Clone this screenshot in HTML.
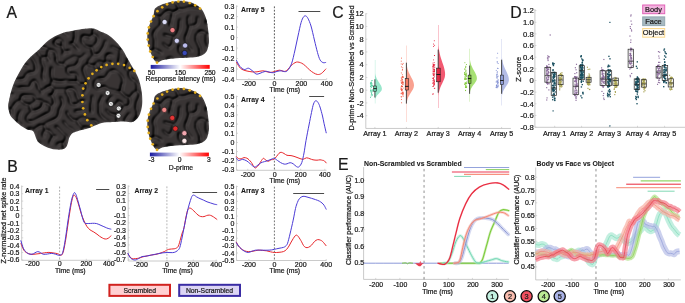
<!DOCTYPE html>
<html><head><meta charset="utf-8"><style>
html,body{margin:0;padding:0;background:#fff;}
svg text{stroke:#1a1a1a;stroke-width:0.22px;}
svg text[font-weight=bold]{stroke-width:0.08px;}
svg text.ns{stroke:none;}
svg{display:block;font-family:"Liberation Sans", sans-serif;will-change:transform;}
</style></head><body>
<svg xmlns="http://www.w3.org/2000/svg" width="685" height="303" viewBox="0 0 685 303">
<rect width="685" height="303" fill="#fff"/>
<text x="6.6" y="17.51" font-size="15.8" text-anchor="start" font-weight="normal" fill="#1a1a1a" >A</text>
<text x="7.2" y="171.61" font-size="15.8" text-anchor="start" font-weight="normal" fill="#1a1a1a" >B</text>
<text x="332.2" y="17.51" font-size="15.8" text-anchor="start" font-weight="normal" fill="#1a1a1a" >C</text>
<text x="510.2" y="17.61" font-size="15.8" text-anchor="start" font-weight="normal" fill="#1a1a1a" >D</text>
<text x="338" y="169.81" font-size="15.8" text-anchor="start" font-weight="normal" fill="#1a1a1a" >E</text>
<defs><clipPath id="cb"><path d="M9.1 100C8.33 103.5 8 104.45 8.2 107C8.4 109.55 9.25 113.08 10.3 115.3C11.35 117.52 12.88 118.68 14.5 120.3C16.12 121.92 18 123.52 20 125C22 126.48 24.5 128.28 26.5 129.2C28.5 130.12 30.7 129.87 32 130.5C33.3 131.13 33.68 131.88 34.3 133C34.92 134.12 35.05 135.68 35.7 137.2C36.35 138.72 36.97 140.73 38.2 142.1C39.43 143.47 41.18 144.38 43.1 145.4C45.02 146.42 47.5 147.5 49.7 148.2C51.9 148.9 54.1 149.43 56.3 149.6C58.5 149.77 61.25 149.62 62.9 149.2C64.55 148.78 65.37 148.13 66.2 147.1C67.03 146.07 67.35 144.65 67.9 143C68.45 141.35 68.68 138.85 69.5 137.2C70.32 135.55 71.57 134.07 72.8 133.1C74.03 132.13 75.25 131.95 76.9 131.4C78.55 130.85 80.63 130.35 82.7 129.8C84.77 129.25 87.25 128.82 89.3 128.1C91.35 127.38 92.5 126.42 95 125.5C97.5 124.58 100.97 123.18 104.3 122.6C107.63 122.02 111.92 122.17 115 122C118.08 121.83 120.05 121.57 122.8 121.6C125.55 121.63 129.15 122.62 131.5 122.2C133.85 121.78 135.47 120.5 136.9 119.1C138.33 117.7 139.28 115.77 140.1 113.8C140.92 111.83 141.43 109.45 141.8 107.3C142.17 105.15 142.3 103.4 142.3 100.9C142.3 98.4 142.17 95.17 141.8 92.3C141.43 89.43 140.73 86.22 140.1 83.7C139.47 81.18 138.9 79.35 138 77.2C137.1 75.05 135.53 72.35 134.7 70.8C133.87 69.25 133.7 69.07 133 67.9C132.3 66.73 131.47 65.45 130.5 63.8C129.53 62.15 128.43 60.2 127.2 58C125.97 55.8 124.6 52.93 123.1 50.6C121.6 48.27 119.85 45.93 118.2 44C116.55 42.07 115.13 40.65 113.2 39C111.27 37.35 108.8 35.4 106.6 34.1C104.4 32.8 102.02 32.08 100 31.2C97.98 30.32 96.25 29.28 94.5 28.8C92.75 28.32 91.98 28.18 89.5 28.3C87.02 28.42 82.35 29.1 79.6 29.5C76.85 29.9 75.47 30.23 73 30.7C70.53 31.17 67.55 31.48 64.8 32.3C62.05 33.12 59.25 34.22 56.5 35.6C53.75 36.98 51.12 38.37 48.3 40.6C45.48 42.83 42.98 45.83 39.6 49C36.22 52.17 31.3 55.85 28 59.6C24.7 63.35 22.33 67.1 19.8 71.5C17.27 75.9 14.58 81.25 12.8 86C11.02 90.75 9.87 96.5 9.1 100Z"/></clipPath><clipPath id="cs1"><path d="M155 8.6C156.32 6.8 159.38 5.63 161.4 4.7C163.42 3.77 165.32 3.48 167.1 3C168.88 2.52 170.2 2.15 172.1 1.8C174 1.45 176.7 1.05 178.5 0.9C180.3 0.75 180.75 0.62 182.9 0.9C185.05 1.18 188.55 1.5 191.4 2.6C194.25 3.7 197.87 5.68 200 7.5C202.13 9.32 203.05 11.17 204.2 13.5C205.35 15.83 206.22 18.58 206.9 21.5C207.58 24.42 207.95 27.75 208.3 31C208.65 34.25 209.05 38.25 209 41C208.95 43.75 208.47 45.67 208 47.5C207.53 49.33 207.27 50.67 206.2 52C205.13 53.33 203.52 54.62 201.6 55.5C199.68 56.38 197.4 56.92 194.7 57.3C192 57.68 188.87 57.6 185.4 57.8C181.93 58 177.75 58.1 173.9 58.5C170.05 58.9 165.03 59.53 162.3 60.2C159.57 60.87 158.9 62.6 157.5 62.5C156.1 62.4 155.07 61.25 153.9 59.6C152.73 57.95 151.42 54.93 150.5 52.6C149.58 50.27 148.92 47.77 148.4 45.6C147.88 43.43 147.57 41.62 147.4 39.6C147.23 37.58 147.2 35.52 147.4 33.5C147.6 31.48 148.03 29.5 148.6 27.5C149.17 25.5 149.98 23.5 150.8 21.5C151.62 19.5 152.8 17.65 153.5 15.5C154.2 13.35 153.68 10.4 155 8.6Z"/></clipPath><clipPath id="cs2"><path d="M155 8.6C156.32 6.8 159.38 5.63 161.4 4.7C163.42 3.77 165.32 3.48 167.1 3C168.88 2.52 170.2 2.15 172.1 1.8C174 1.45 176.7 1.05 178.5 0.9C180.3 0.75 180.75 0.62 182.9 0.9C185.05 1.18 188.55 1.5 191.4 2.6C194.25 3.7 197.87 5.68 200 7.5C202.13 9.32 203.05 11.17 204.2 13.5C205.35 15.83 206.22 18.58 206.9 21.5C207.58 24.42 207.95 27.75 208.3 31C208.65 34.25 209.05 38.25 209 41C208.95 43.75 208.47 45.67 208 47.5C207.53 49.33 207.27 50.67 206.2 52C205.13 53.33 203.52 54.62 201.6 55.5C199.68 56.38 197.4 56.92 194.7 57.3C192 57.68 188.87 57.6 185.4 57.8C181.93 58 177.75 58.1 173.9 58.5C170.05 58.9 165.03 59.53 162.3 60.2C159.57 60.87 158.9 62.6 157.5 62.5C156.1 62.4 155.07 61.25 153.9 59.6C152.73 57.95 151.42 54.93 150.5 52.6C149.58 50.27 148.92 47.77 148.4 45.6C147.88 43.43 147.57 41.62 147.4 39.6C147.23 37.58 147.2 35.52 147.4 33.5C147.6 31.48 148.03 29.5 148.6 27.5C149.17 25.5 149.98 23.5 150.8 21.5C151.62 19.5 152.8 17.65 153.5 15.5C154.2 13.35 153.68 10.4 155 8.6Z" transform="translate(0 87.3)"/></clipPath><filter id="bf" x="-5%" y="-5%" width="110%" height="110%" color-interpolation-filters="sRGB"><feGaussianBlur in="SourceGraphic" stdDeviation="1.1" result="hb"/><feColorMatrix in="hb" type="luminanceToAlpha" result="ha"/><feGaussianBlur in="ha" stdDeviation="0.7" result="hab"/><feDiffuseLighting in="hab" surfaceScale="5" diffuseConstant="1" lighting-color="#454040" result="l"><feDistantLight azimuth="225" elevation="55"/></feDiffuseLighting><feComposite in="l" in2="hb" operator="arithmetic" k1="0.2" k2="0.8" k3="0" k4="0" result="m"/><feComposite in="m" in2="SourceAlpha" operator="in"/></filter><filter id="bf2" x="-5%" y="-5%" width="110%" height="110%" color-interpolation-filters="sRGB"><feGaussianBlur in="SourceGraphic" stdDeviation="1.1" result="hb"/><feColorMatrix in="hb" type="luminanceToAlpha" result="ha"/><feGaussianBlur in="ha" stdDeviation="0.7" result="hab"/><feDiffuseLighting in="hab" surfaceScale="5" diffuseConstant="1" lighting-color="#454040" result="l"><feDistantLight azimuth="225" elevation="55"/></feDiffuseLighting><feComposite in="l" in2="hb" operator="arithmetic" k1="0.2" k2="0.8" k3="0" k4="0" result="m"/><feComposite in="m" in2="SourceAlpha" operator="in"/></filter><linearGradient id="g1" x1="0" x2="1" y1="0" y2="0"><stop offset="0" stop-color="#1a1aa0"/><stop offset="0.5" stop-color="#ffffff"/><stop offset="1" stop-color="#ff0000"/></linearGradient></defs>
<g filter="url(#bf)"><path d="M9.1 100C8.33 103.5 8 104.45 8.2 107C8.4 109.55 9.25 113.08 10.3 115.3C11.35 117.52 12.88 118.68 14.5 120.3C16.12 121.92 18 123.52 20 125C22 126.48 24.5 128.28 26.5 129.2C28.5 130.12 30.7 129.87 32 130.5C33.3 131.13 33.68 131.88 34.3 133C34.92 134.12 35.05 135.68 35.7 137.2C36.35 138.72 36.97 140.73 38.2 142.1C39.43 143.47 41.18 144.38 43.1 145.4C45.02 146.42 47.5 147.5 49.7 148.2C51.9 148.9 54.1 149.43 56.3 149.6C58.5 149.77 61.25 149.62 62.9 149.2C64.55 148.78 65.37 148.13 66.2 147.1C67.03 146.07 67.35 144.65 67.9 143C68.45 141.35 68.68 138.85 69.5 137.2C70.32 135.55 71.57 134.07 72.8 133.1C74.03 132.13 75.25 131.95 76.9 131.4C78.55 130.85 80.63 130.35 82.7 129.8C84.77 129.25 87.25 128.82 89.3 128.1C91.35 127.38 92.5 126.42 95 125.5C97.5 124.58 100.97 123.18 104.3 122.6C107.63 122.02 111.92 122.17 115 122C118.08 121.83 120.05 121.57 122.8 121.6C125.55 121.63 129.15 122.62 131.5 122.2C133.85 121.78 135.47 120.5 136.9 119.1C138.33 117.7 139.28 115.77 140.1 113.8C140.92 111.83 141.43 109.45 141.8 107.3C142.17 105.15 142.3 103.4 142.3 100.9C142.3 98.4 142.17 95.17 141.8 92.3C141.43 89.43 140.73 86.22 140.1 83.7C139.47 81.18 138.9 79.35 138 77.2C137.1 75.05 135.53 72.35 134.7 70.8C133.87 69.25 133.7 69.07 133 67.9C132.3 66.73 131.47 65.45 130.5 63.8C129.53 62.15 128.43 60.2 127.2 58C125.97 55.8 124.6 52.93 123.1 50.6C121.6 48.27 119.85 45.93 118.2 44C116.55 42.07 115.13 40.65 113.2 39C111.27 37.35 108.8 35.4 106.6 34.1C104.4 32.8 102.02 32.08 100 31.2C97.98 30.32 96.25 29.28 94.5 28.8C92.75 28.32 91.98 28.18 89.5 28.3C87.02 28.42 82.35 29.1 79.6 29.5C76.85 29.9 75.47 30.23 73 30.7C70.53 31.17 67.55 31.48 64.8 32.3C62.05 33.12 59.25 34.22 56.5 35.6C53.75 36.98 51.12 38.37 48.3 40.6C45.48 42.83 42.98 45.83 39.6 49C36.22 52.17 31.3 55.85 28 59.6C24.7 63.35 22.33 67.1 19.8 71.5C17.27 75.9 14.58 81.25 12.8 86C11.02 90.75 9.87 96.5 9.1 100Z" fill="#fff"/><path d="M16.5 26.62L14.38 25.5L14.75 25.12L16.5 25.88L18.75 24.88L19.38 25.25L16.5 26.62ZM45.5 40.62L36 40.38L33.75 39.38L32.12 37.75L31.38 35.5L31.38 32L33.38 26.5L34 25.88L35.5 25.38L45.25 25.62L46.75 24.88L47.62 25L45.25 26.38L35.5 26.12L34.12 26.75L32.12 32L32.38 36.5L32.88 37.75L34.5 39.12L37.75 39.88L45.5 39.88L47 39.12L52.38 32.25L52.38 26.75L51.88 26.25L52.25 25.88L53.12 26.75L53.12 32.25L52.62 33.25L48.38 38.5L45.5 40.62ZM68.75 26.88L67.75 26.88L65.38 25.25L65.75 24.88L67.75 26.12L68.75 26.12L70.75 24.88L71.38 25L68.75 26.88ZM85.25 29.12L84.88 28.75L85.62 27L88.75 24.88L89.12 25.25L86.75 26.88L85.25 29.12ZM31.25 121.88L28.25 121.88L26.38 119.75L26.88 116.25L31.62 111.5L30.38 109.5L30.12 107.25L29 105.12L25.25 104.38L21 101.12L18.75 101.38L17 102.12L12.12 108.5L11.88 115L10 116.88L7.25 117.38L6 118.38L5.62 118L6.5 116.88L9.5 116.38L11.12 115L11.12 109.5L6.5 109.38L4.88 111L4.88 110.25L5.88 109L5.12 108L5.5 107.38L6.5 108.62L11.25 108.88L15.12 103.25L17 101.38L20.62 100.25L21.12 96.5L22.75 95.12L32.5 94.88L34.62 96.25L36 99.88L42.5 100.62L43.75 101.88L47.25 103.12L51 105.88L52.75 105.38L53.62 104.25L53.62 100.25L51.88 96L49.25 96.12L48.88 95.75L49.5 95.12L52 95.12L54.88 90L53.5 88.38L51 86.62L48 87.38L44.25 90.12L42.5 90.62L41.88 91.25L42.12 93.5L41.75 93.88L41.12 91.25L39.75 90.62L38.12 88.75L37.38 84.75L36.38 82.5L34.5 81.12L32.12 82.25L30.62 86.75L28.75 88.12L21.25 87.88L17.5 88.62L14.5 87.62L11.75 84.12L7 84.12L5.75 85.62L5.38 85.25L7 83.38L11.75 83.38L14 80.88L15.5 80.12L20 78.88L23.75 78.62L24.88 77.5L25.62 75L27.75 72.88L30.25 72.12L34 71.88L35.12 71L35.62 68.75L34.88 64.25L32.88 60L30.12 56.5L30.5 56.12L33.62 60L35.38 63.5L36.38 68.75L35.88 71L34 72.62L30.25 72.88L27.75 73.62L26.38 75L25.12 78.25L23.75 79.38L17.75 80.12L14 81.62L12.38 83.75L14.5 86.88L17.5 87.88L21.25 87.12L28.75 87.38L29.88 86.75L31.38 82.25L34.75 80.12L37.12 82.5L38.12 84.75L38.88 88.75L39.75 89.88L41.5 90.62L44.25 89.38L47 87.12L50.88 85.5L52.38 80.5L50.88 75.25L51.38 67.5L51.75 67.12L52.38 68.25L51.62 75.25L53.25 80.12L59.5 81.12L62.5 81.12L65.5 80.38L70.25 81.12L77 81.12L77.38 80.75L77.38 76.75L76.62 75L75.5 74.12L69.75 74.38L68.25 73.62L67.12 72L67.12 68L66.75 67.62L63.75 64.62L59.25 64.38L58.25 63.88L56.62 62L55.88 59.75L55.88 56L55.12 52.5L53.5 51.12L49.25 50.38L48.62 52L48.12 57.25L49.88 61.25L49.5 61.62L49.12 61.25L47.5 57.62L42.12 58L42.38 63L44.38 67.25L44.12 70.75L43.12 75L43.38 78.25L44.38 80L44 80.62L42.62 78.25L42.38 76.5L43.62 67.25L41.62 63L41.38 57.75L37.88 53.75L37.12 49.25L35 48.38L32 48.38L30.25 47.88L28 50.12L24.5 50.62L23.25 50.38L20.75 48.88L19.62 47.75L20 47.38L23.25 49.62L26.25 49.88L28 49.38L29.62 47.25L28.62 44.75L23.62 40.25L23.62 33L23 32.38L17.75 32.88L17.12 32.5L18 31.88L23.25 31.88L24.62 26.75L27 25.12L27.25 25.62L25.38 26.75L24.12 31.5L24.62 36.75L24.38 40.25L29.38 44.75L30.5 47.38L37.5 48.12L40.5 47.12L44.75 47.12L47 47.88L49 49.62L54 50.62L56.12 53L57.12 61.5L57.88 62.75L59.25 63.62L63.75 63.88L65.5 60.88L73.75 56.38L77.75 56.88L79.5 57.88L80.5 57.62L82.75 56.38L85.25 53.38L85.62 54L82.75 57.12L79.88 58.5L78.62 63L76 65.88L74.5 66.62L67.88 68L67.88 72L68.25 72.88L69.75 73.62L76 73.62L77.38 75L78.12 76.75L77.88 81.75L80.25 84.12L86.5 84.38L86.88 83.5L86.88 79.5L84.38 74.75L82.88 69.5L83.88 66.75L85.75 64.88L87.88 63.75L88.88 60.25L92.38 56.5L93.38 54.5L92.62 53.25L91.62 48L86.5 46.88L82.38 43L81.62 41.5L81.88 37.25L83 35.62L88.25 36.12L89.25 36.62L90.25 36.38L93.12 34.25L93.12 30.5L94.5 28.62L98 27.38L99.5 25.88L102.75 24.88L102.25 25.62L99.5 26.62L98.5 27.88L95 29.12L93.88 30.5L93.88 34.25L96.5 35.62L97.88 37L98.38 38.5L98.12 40.75L96.62 43.75L92.12 47.75L94 54.38L97.25 54.12L99.38 53.25L103.38 47L105.38 41.25L106 40.62L106.38 41L105.38 42.75L104.12 47L100.12 53.25L99.25 54.12L97.25 54.88L94 55.12L89.62 60.25L88.38 64L90.75 65.12L94.5 65.62L95.62 63.75L98.5 61.38L100.25 61.38L103.75 62.38L105.75 62.12L106.12 61.75L106.12 56L107.5 54.62L108.75 54.12L111.75 54.38L113.38 55.5L113 55.88L111.75 55.12L110 54.88L107.5 55.38L106.62 56.75L106.88 61.75L110.5 62.12L112.12 63L111.25 63.38L109.25 62.62L106 62.62L104.5 63.12L103.88 68.25L102 70.12L99.75 70.88L97 69.88L94 66.12L90.75 65.88L88 64.62L86.5 65.12L84.62 66.75L83.62 69.5L85.12 74.75L87.62 79.5L87.62 83.5L87.38 89L84.25 93.62L83.88 92.75L85.62 91L86.62 89L86.62 85.25L85.5 84.88L80.75 85.12L77.25 81.88L70.25 81.88L66 81.12L62.5 81.88L59.5 81.88L53 80.88L51.38 85.75L51.75 86.62L54.5 88.38L55.25 89.38L66.25 89.38L68 88.12L72.75 88.12L75.88 90.75L77.38 96L79.62 101L83.75 101.12L84.75 100.62L85.38 101L83.75 101.88L79.75 101.88L78 104.12L76.25 104.88L72 105.12L69.88 103L69.38 98L66.88 93.75L65.75 90.12L55.5 90.12L54.12 93.25L52.38 95.5L54.38 100.25L54.62 103.5L54.12 104.75L51.62 106.75L51.12 111.5L49 113.62L46.75 114.38L33 121.62L31.25 121.88ZM124.25 26.38L122.25 26.38L120.75 25.88L119.88 25L122.25 25.62L126.62 25L124.25 26.38ZM122.25 42.12L120 41.88L115.25 39.38L110.25 34.62L108.25 33.38L106.5 32.62L104.5 32.88L103.25 33.62L102.88 33.25L104.5 32.12L106.38 31.75L107.38 27.5L108.5 25.62L113 25.62L119 31.62L120.5 32.62L123.25 33.38L126.25 32.88L130.25 29.12L134.25 28.88L135.12 26.5L137 25.12L141 25.12L143.38 26.75L143.38 30.5L144.12 32.25L146.12 34L145.75 34.38L143.38 32.25L142.88 31.25L142.62 26.75L142.25 26.38L138.25 25.62L135.88 26.5L134.88 29.5L136.62 35.5L137.62 36.75L137.25 37.12L135.88 35.5L134.25 29.62L130.25 29.88L126.25 33.62L123.25 34.12L120.5 33.38L119 32.38L113 26.38L108.75 26.38L106.88 32L110.25 33.88L114.5 38.12L116.5 39.38L121 41.38L127.5 40.88L130.75 39.38L131.75 39.12L132.12 39.5L131.5 40.12L127.5 41.62L122.25 42.12ZM11.5 45.88L8.5 45.62L6.75 44.88L5.88 44L4.88 41.25L5.25 40.62L5.62 41L6.75 44.12L9.75 45.12L13 44.62L13.88 43.75L14.62 41.75L14.62 40.5L13.88 39.25L10.75 37.12L8.75 35.12L6 35.38L5.62 35L8.62 34.25L8.62 27.75L8.38 26.75L7.38 25.75L7.75 25.38L9.12 26.75L9.38 27.75L9.38 35L13.75 38.38L15.38 40.5L14.62 43.75L13 45.38L11.5 45.88ZM78.5 50.12L75.88 47.5L73.25 43.88L70.25 44.12L69.88 43.75L70.5 43.12L73 43.12L73.62 42.25L74.88 36L74.62 32.25L77.12 26.75L78.25 25.62L78.88 26L77.88 26.75L75.38 32.25L75.62 36L75.12 40L73.62 43.5L78.88 49.75L78.5 50.12ZM67.5 35.88L66.25 34.62L62.5 32.88L60.88 31.25L59.88 29.25L59.62 27.25L60 26.88L61.62 31.25L63.25 32.62L66.25 33.88L67.88 35.5L67.5 35.88ZM40.5 33.12L39.12 32.75L44.5 30.88L44.88 31.25L43.75 32.12L40.5 33.12ZM92.12 47L93.75 45.88L96.88 42.25L97.62 39.5L97.12 37L95.25 35.62L93.25 34.88L90.12 37.25L90.38 38.75L90 39.12L89 37.12L83.25 36.38L82.38 38.25L82.38 41.5L83.88 44L87 46.38L92.12 47ZM62.75 55.12L62.38 54.75L63.88 51.75L62.88 50L62.12 47L57 46.12L55.25 44.88L54.25 43.38L53.62 43.25L55.12 40.5L57.5 38.62L60 38.88L62.62 41L63.12 42.5L62.62 46.75L64.5 51.38L69.75 50.62L70.12 51L69.5 51.62L64.75 51.88L62.75 55.12ZM120.25 125.12L119 124.38L117.38 122.25L116.62 115.75L112.75 115.12L110 113.88L106.12 110L106.5 109.62L109.25 112.62L112 114.12L117.25 114.88L120.38 112.25L122.62 109.25L123.62 107L122.88 105.25L121.25 102.88L118.25 102.12L117.38 102.75L116.62 104.5L114.5 106.62L114 106.62L110 105.12L108.38 103.5L108.12 102.25L107.12 101.5L107.5 101.12L108.25 101.38L109.38 98.75L111.5 96.62L112.5 96.38L112.88 96.75L111.5 97.38L110.12 98.75L108.62 101.75L109.12 103.5L110 104.38L114.5 105.88L115.88 104.5L116.62 102.75L118.12 101.5L117.88 100.25L118.25 99.88L119 101.38L121.25 102.12L122.12 103L124 106.38L126.75 106.12L128.5 105.62L129.62 103.5L129.38 98L125.75 96.88L120.5 91.88L116.5 91.62L113.5 90.62L109.25 90.12L105 87.38L103.75 87.38L98.25 89.38L96.25 89.12L94.38 87L94.38 81.75L96.75 78.88L100 78.12L103.5 78.12L105.25 77.38L106.88 75.5L108.38 72.5L111 70.38L113.75 70.12L117 70.88L121.12 74.75L123.38 78.25L123.38 83.5L122.38 85.75L121.88 89.75L121.12 91.5L125.75 96.12L129 97.12L130.25 96.88L133.25 93.12L134.75 91.88L136.88 91L137.12 84.75L136.12 82.5L134.75 81.12L132.25 79.88L130.12 77.75L129.38 75.75L129.12 71.5L128 71.12L125.88 69L125.62 67.25L126.38 64.25L127.62 61.75L127.12 56.5L127.75 55.88L128.12 56.25L127.88 58.5L128.25 61.38L134.5 61.38L134.62 56.25L135.38 54L134.12 52.75L133.12 49.5L132.25 48.88L127.25 48.88L121.25 50.38L120.62 51.25L120.38 57.75L119.62 62.5L119 63.88L118.62 62.75L119.62 57.75L120.12 50.75L112.5 47.12L111.25 47.38L110.88 47L112.5 46.38L120 49.88L127.25 48.12L133 48.38L135.5 45.62L137 44.88L141.25 44.38L142.38 42L146 39.12L146.38 39.5L145.88 40.25L143.12 42L141.88 44.5L142.38 46.25L145.5 48.38L146.38 49.5L146 49.88L145.25 48.88L143.5 48.12L141 45.12L137 45.62L135.5 46.38L133.88 48L133.62 49.25L134.62 52.25L135.75 53.62L140.25 53.88L143.25 55.62L145.62 56.25L144 56.62L140.25 54.62L136 54.38L135.38 56.25L135.38 61.25L138.5 62.62L140.38 64.25L141.38 66L142 69.38L145 69.62L146.62 71.5L146.25 71.88L145 70.38L142.5 70.12L141.5 70.12L140.75 70.88L137.75 72.12L134.25 70.88L129.88 71.5L130.12 75.75L130.88 77.75L132.25 79.12L134.75 80.38L136.88 82.5L137.62 84L137.62 91L139.88 93L140.38 94.25L140.12 96.5L137.38 102.5L136.88 108.5L137.88 112.5L137.88 116.75L136.12 119.25L131.25 124.38L130.88 124L135.38 119.25L137.38 115.75L136.88 111L136.12 108.5L136.62 102.5L139.38 96.5L139.62 94.25L139 92.88L138 91.88L137 91.62L134.75 92.62L133.25 93.88L131.88 96L129.88 97.75L130.38 99.25L130.38 103.5L129.62 105.25L128 106.62L124.25 107.12L123.38 109.25L121.12 112.25L117.38 115.5L118.12 122.25L119.25 123.88L120.25 124.38L123.25 123.62L124.12 122.75L125.62 118.25L129.12 113.75L129.75 113.12L130.12 113.5L126.38 118.25L124.88 122.75L123.25 124.38L120.25 125.12ZM62.12 46L62.38 42.5L61.88 41L61 40.12L59 39.38L57.5 39.38L55.88 40.5L55.12 42.25L55.12 43.5L56.5 45.12L60.5 46.12L62.12 46ZM42.12 57.25L47.38 56.75L47.88 52L48.62 50L47 48.62L44.75 47.88L40.5 47.88L37.62 48.75L38.62 53.75L41.38 57L42.12 57.25ZM6.75 75.38L5.12 73L5.5 72.38L7 74.38L11.5 73.88L13.5 73.12L18.25 70.62L24.12 64.75L23.62 63.75L23.38 59.25L22.88 58.25L21 57.12L17.5 56.88L16.62 61L15.62 63L13 65.12L9.25 65.88L8.38 65L7.88 63.25L8.38 53.5L6.5 53.12L4.88 51.25L5.25 50.62L6.5 52.38L8.75 52.88L14 52.38L16.88 54.75L17.5 56.12L22.25 56.88L24.12 59.25L24.62 64.5L28.62 66L28 66.38L24.25 65.62L16.75 72.38L11.5 74.62L6.75 75.38ZM9.88 65L14 63.88L15.88 61L16.88 56.5L16.12 54.75L14 53.12L11 53.12L9.12 53.75L8.62 63.25L9.12 65L9.88 65ZM67.88 67.25L74.5 65.88L76 65.12L78.38 62L79.12 58.5L77.75 57.62L73.75 57.12L66.25 61.12L65.12 62.25L64.38 64.5L66.5 66.88L67.88 67.25ZM146.25 64.38L145.38 63L145.62 61.5L146.25 60.88L146.62 61.25L146.12 62.25L146.62 64L146.25 64.38ZM137.88 71.25L141.38 69.5L140.62 67.5L140.62 66L139.25 63.88L135 61.88L133 62.38L128.12 62.25L126.38 67.25L126.62 69L128 70.38L129.5 70.88L130.5 70.38L134.25 70.12L137.88 71.25ZM99.88 70L102 69.38L103.12 68.25L103.62 66L103.5 62.88L98.5 62.12L97.5 62.62L95.62 65L95.12 66L96.12 68L97.75 69.62L99.88 70ZM120.62 91L121.62 85.75L122.88 82L122.62 78.25L120.38 74.75L117.75 72.12L115.75 71.12L112.75 70.88L110 71.62L108.62 73.25L107.62 75.5L105.25 78.12L103.5 78.88L98 79.12L96.75 79.62L95.12 81.75L95.12 87L96.25 88.38L98.25 88.62L103.75 86.62L105 86.62L109.25 89.38L113.5 89.88L116.5 90.88L120.62 91ZM146.25 92.12L145.12 90L144.88 87.25L146.5 84.62L146.88 85L145.62 87.25L145.62 89L146.62 91.75L146.25 92.12ZM74.12 104.25L76.25 104.12L78 103.38L79.38 101.5L76.62 96L75.62 91.75L75.12 90.75L72.75 88.88L68 88.88L66.38 90L67.62 93.75L70.12 98L70.62 103L72 104.38L74.12 104.25ZM5.5 103.12L5.12 102.75L5.88 101.5L8.5 99.88L9.38 98.75L10.88 95L10.25 93.88L8.25 92.88L6.5 92.62L5.12 91L5.5 90.38L7 92.12L8.25 92.12L9.75 92.88L11.5 94.38L13.25 94.12L13.62 94.5L13 95.12L11.38 95.25L9.62 99.5L7 101.38L5.5 103.12ZM111.75 124.38L109.5 122.12L105.75 120.12L102.75 117.88L100.62 115.75L99.12 113.25L99.38 102.5L100.38 99.75L101.62 98L101.88 96.5L102.75 95.38L103.12 95.75L102.38 98L101.12 99.75L99.88 104L99.88 113.25L102.75 117.12L105.75 119.38L109.5 121.38L112.12 124L111.75 124.38ZM29.62 104.5L33 102.88L34.88 101.25L35.38 100L33.88 96.25L32 95.62L22.75 95.88L22 96.38L21.38 100.75L25.25 103.62L29.62 104.5ZM91.75 112.88L91.12 111.75L90.88 106L91.88 101.5L92.38 97.5L91.88 96L92.25 95.62L93.12 96.75L93.12 97.5L91.62 106L92.12 112L91.75 112.88ZM143.75 103.62L143.38 103.25L145.12 101.75L145.62 97.5L146.75 95.62L145.88 101.75L143.75 103.62ZM59 152.88L56.25 151.88L48.5 152.12L47.5 151.88L45.5 149.88L42 148.62L39.25 149.62L36.75 149.88L32.5 148.88L24.75 148.88L22.62 147L18.62 140.75L17.25 139.62L13 140.38L11.88 141L12.62 145.5L15.38 150.75L17.75 151.38L19.62 152.5L19 152.88L15.5 151.62L12.38 146.75L11.62 144.75L11.12 141L7 140.12L5.12 137.75L5.5 137.12L7 139.38L11.25 140.38L16.5 138.88L17.75 139.12L19.38 140.75L23.38 147L24.75 148.12L32.5 148.12L36.75 149.12L39.25 148.88L41.38 148.25L40.88 144.25L39.5 142.62L36.25 141.12L34.62 139.25L33.88 135.25L34 129.62L29 129.38L24.38 132.5L25.12 136L28.88 140.75L28.5 141.12L24.62 136.5L23.62 132.5L21.75 131.88L20 130.38L14.75 131.12L11.75 133.12L11.38 132.75L14.75 130.38L19.5 129.88L19.88 129.5L20.62 125L20.38 124L18.75 122.38L17.75 121.88L6.75 125.62L6.12 126.75L6.12 132.25L5.25 133.38L4.88 133L5.38 132.25L5.38 126.75L5.88 125.5L6.5 124.88L17.5 121.38L18.12 119.25L18.12 116.5L19.12 113L21.25 110.12L21.62 110.5L20.62 111.5L19.12 115.5L18.38 121.5L21.12 124L21.38 125.25L20.38 130L21.75 131.12L24.25 131.88L29 128.62L34.5 128.88L39.5 125.62L44 124.88L46.25 122.88L55.75 118.62L57.62 117L58.62 114.5L59.38 109.75L62.12 104.75L61.88 100.5L60.38 97.5L60.75 97.12L61.62 98L62.62 100.5L62.88 104.75L60.12 109.75L59.38 114.5L58.38 117L55.75 119.38L46.25 123.62L44.62 125.25L46 129.88L49.5 130.62L52.12 133.5L53.5 136.12L56.62 136.75L56.25 137.12L53.5 136.88L52.88 137.5L50.38 142.5L50.62 143.5L50.25 143.88L49.62 143.25L49.62 142.5L52.88 136.25L51.38 133.5L49.5 131.38L46.25 130.62L45.38 130.75L43.62 133.75L43.38 135.25L44.12 136.75L43.75 137.12L42.88 136.25L42.88 133.75L45.12 130.25L44 125.62L39.5 126.38L34.62 129.5L34.62 135.25L35.38 139.25L37 140.88L39.5 141.88L41.38 143.75L42.25 148.12L45.5 149.12L48.5 151.38L56.25 151.12L58 151.88L59 152.88ZM33.12 110.75L36.5 110.12L40.5 108.12L41.88 106.5L42.12 104.25L43.12 102L42.5 101.38L40.5 100.88L35.75 100.62L35.62 101.25L33 103.62L30 104.88L31.62 110.5L32 110.88L33.12 110.75ZM31.38 121L33 120.88L46.75 113.62L49 112.88L50.38 111.5L50.88 106.5L47.25 103.88L43.5 102.62L42.62 106.5L41.25 108.38L36.5 110.88L32.25 111.62L27.62 116.25L27.12 118L27.38 120.25L28.25 121.12L31.38 121ZM75.5 112.12L74.62 111.5L75 111.12L80.75 110.62L83 109.88L83.88 110.25L82 111.12L78.25 111.38L75.5 112.12ZM95.75 149.38L93 148.62L91.88 147.5L90.5 144.88L87.25 144.38L85.12 142.5L84.12 138.5L84.38 135.75L82.88 133L82.62 128L78.62 124.25L76.75 121.12L72.75 120.38L68.88 116.75L67.12 113.5L67.12 111.25L67.5 110.88L68.38 115L72.75 119.62L77 120.62L80 117.88L83.5 117.38L89.25 119.88L95.25 120.12L99.75 124.38L108.25 130.12L113.5 130.88L115.12 131.75L116.12 141.75L114 144.12L112.25 145.12L109.25 145.88L100.75 144.88L97.5 148.88L95.75 149.38ZM132.75 152.62L132.12 152.25L133.62 151.25L134.88 148.5L132.88 142.75L132.5 142.38L127.25 141.88L124.5 140.62L122.38 138L122.12 133.75L123.75 131.88L128.25 130.62L128.62 131L128 131.62L124.25 132.38L123.12 133.25L123.12 138L124.5 139.88L126.5 140.88L132.5 141.62L133.12 138.25L135.62 133.75L136.38 129.75L137.12 128.25L142.38 123L146.5 116.38L146.88 116.75L145.62 119.5L143.12 123L137.88 128.25L137.12 129.75L136.38 133.75L133.88 138.25L133.12 142L134.62 144.75L135.5 148.12L140.5 148.38L145 146.12L146.25 144.62L146.62 145L145 146.88L141.25 148.88L135.5 148.88L134.38 151.25L132.75 152.62ZM95.88 148.5L97.5 148.12L100.75 143.88L103 144.62L109.25 145.12L112.25 144.38L114 143.38L115.38 141.75L114.38 132L108.25 130.88L99.75 125.12L95.25 120.88L89.25 120.62L83.5 118.12L80 118.62L77.62 120.75L77.62 121.25L79.38 124.25L82.75 127.38L84.25 126.88L90 126.88L94.25 129.38L97 131.88L99.5 133.12L102 135.62L108.62 138L107.75 138.38L102 136.38L99.5 133.88L97 132.62L94.25 130.12L90 127.62L88.5 127.38L83.5 127.88L83.62 133L84.75 135.38L88 135.12L91.5 135.62L93.62 137.25L94.12 138.25L94.12 140L93.12 142.25L91.38 144.25L91.38 145L93 147.88L95 148.62L95.88 148.5ZM78.5 152.12L77.88 151.75L78.88 151L79.38 148L79.12 146L77.88 143L76 141.62L73.75 142.38L72.38 144L71.88 146L72.12 150.75L71.5 151.38L71.12 151L71.12 146L71.62 144L73.75 141.62L75.62 141L75.38 134L74.38 131.25L72.75 129.62L68 127.12L63.38 121.75L63.75 121.12L68 126.38L72.75 128.88L75.62 132.25L76.38 135.25L76.38 141L79.12 143.75L80.12 147.25L79.62 151L78.5 152.12ZM63 152.12L62.38 151.75L63.62 150.75L63.88 149.75L63.38 143.5L60 143.62L59 143.88L57 145.62L56.38 145.25L59 143.12L63.5 142.62L65.62 139.5L66.38 136.75L66.12 136L63.5 134.12L57.75 127.88L57 127.38L55.75 127.38L55.38 127L55.75 126.62L57 126.62L57.75 127.12L63.5 133.38L66.88 136L67.12 136.75L65.62 141L63.88 143L64.38 144L64.62 149.75L64.38 151L63 152.12ZM144 132.12L143.38 131.75L144.88 131L146.5 127.62L146.88 128.25L145.38 131.25L145.62 131.5L144 132.12ZM90.88 144L92.38 142.25L93.38 140L93.38 138.25L92.88 137.25L90.25 136.12L85 136.12L85.12 140.5L85.88 142.5L87.25 143.62L90.88 144ZM140.5 140.88L140.12 140.5L141.38 139.25L143.25 138.12L145.25 138.12L145.62 138.5L145.25 138.88L143.25 138.88L140.5 140.88ZM5.25 151.88L4.88 151.25L5.88 149.5L5.62 147.25L4.88 146L5.25 145.38L6.62 148.25L6.62 149.5L5.25 151.88ZM101.5 152.88L100.88 152.5L101.25 152.12L103.25 151.38L116 151.38L118.5 148.88L121 147.62L124.5 147.88L126.12 149L127.12 150.5L126.5 151.62L126.12 151.25L126.38 150.5L125.5 149.12L123.25 148.38L121 148.38L118.5 149.62L116 152.12L103.25 152.12L101.5 152.88ZM89.25 152.88L87.25 151.88L86 151.88L85 152.62L84.38 152.25L86 151.12L87.25 151.12L89.25 152.12L89.62 152.5L89.25 152.88Z" fill="#000" fill-rule="evenodd" clip-path="url(#cb)"/></g>
<g transform="translate(0 0)">
<g filter="url(#bf2)"><path d="M155 8.6C156.32 6.8 159.38 5.63 161.4 4.7C163.42 3.77 165.32 3.48 167.1 3C168.88 2.52 170.2 2.15 172.1 1.8C174 1.45 176.7 1.05 178.5 0.9C180.3 0.75 180.75 0.62 182.9 0.9C185.05 1.18 188.55 1.5 191.4 2.6C194.25 3.7 197.87 5.68 200 7.5C202.13 9.32 203.05 11.17 204.2 13.5C205.35 15.83 206.22 18.58 206.9 21.5C207.58 24.42 207.95 27.75 208.3 31C208.65 34.25 209.05 38.25 209 41C208.95 43.75 208.47 45.67 208 47.5C207.53 49.33 207.27 50.67 206.2 52C205.13 53.33 203.52 54.62 201.6 55.5C199.68 56.38 197.4 56.92 194.7 57.3C192 57.68 188.87 57.6 185.4 57.8C181.93 58 177.75 58.1 173.9 58.5C170.05 58.9 165.03 59.53 162.3 60.2C159.57 60.87 158.9 62.6 157.5 62.5C156.1 62.4 155.07 61.25 153.9 59.6C152.73 57.95 151.42 54.93 150.5 52.6C149.58 50.27 148.92 47.77 148.4 45.6C147.88 43.43 147.57 41.62 147.4 39.6C147.23 37.58 147.2 35.52 147.4 33.5C147.6 31.48 148.03 29.5 148.6 27.5C149.17 25.5 149.98 23.5 150.8 21.5C151.62 19.5 152.8 17.65 153.5 15.5C154.2 13.35 153.68 10.4 155 8.6Z" fill="#fff"/><path d="M184.25 0.12L182.5 -0.38L180.88 -1.5L181.25 -1.88L184.25 -0.62L187 -2.12L187.62 -1.75L184.25 0.12ZM209.75 2.62L205.75 2.12L202 -0.62L193.75 -0.38L191 -1.12L190.12 -2L193.75 -1.12L202 -1.38L204.75 0.88L207.5 1.88L209.75 1.88L211.5 -0.12L211.88 0.25L209.75 2.62ZM144.5 56.38L144.12 56L146 53.38L147 53.38L154.38 49.25L154.62 40L153.38 35.75L153.62 33L154.62 30.75L159.88 25.75L160.88 23.25L160.5 17.38L154.75 16.12L150.25 13.88L148.38 12.25L148.12 2.75L145.5 2.38L144.88 1.75L145.25 1.12L145.75 1.62L148.25 2.12L154.25 1.38L157 2.12L158.5 3.12L161.25 2.38L166.25 1.88L174.25 1.88L175.5 2.38L177.38 4.25L179.25 9.12L184 8.88L189.5 6.88L193.75 6.62L201.75 8.12L206.5 9.88L210.25 9.88L210.62 10.25L209.75 10.88L206.5 10.62L201.75 8.88L193.75 7.38L189.5 7.62L184 9.62L178.75 9.88L177 11.38L173.38 12.75L172.88 16.75L171.38 20.5L170.62 26.25L170.25 26.62L169.88 26.25L170.12 22.75L171.88 17.75L172.62 12.75L170.75 11.88L168 11.38L165.5 12.38L161.12 17.25L161.62 23.25L161.12 25L155.38 30.75L154.12 34.5L154.38 37.25L155.38 40L155.12 49.25L159.25 50.88L162.12 53L161.5 53.38L157.75 50.88L154.25 50.12L148.5 53.38L146.25 54.12L144.5 56.38ZM161.12 16.5L164.62 12.5L166.75 10.88L168 10.62L170.75 11.12L173 12.12L177.75 10.12L178.38 9L176.62 4.25L174.25 2.62L166.25 2.62L161.25 3.12L158.88 4L158.25 7.12L157.88 6.75L158 3.38L154.25 2.12L149.25 2.62L148.88 3L149.12 12.25L156 15.88L161.12 16.5ZM191.75 50.88L188.62 47L185.38 40L185.88 36.25L187.88 31.75L189.12 27.25L188.12 23.75L187.88 18L189.5 15.62L189.88 16L188.62 18L188.62 20.25L188.88 23.75L189.75 26.12L194.25 25.38L196.88 23.5L197.38 22.25L197.62 17L198 16.62L198.38 17L198.12 22.25L197.62 23.5L195.75 25.38L194.25 26.12L191.25 26.38L189.88 27L188.88 31L186.12 38.25L186.12 40L187.12 42.75L189.38 47L192.12 50.5L191.75 50.88ZM210.75 63.62L210.38 63.25L210.62 60.5L209.75 57.88L201 55.12L200.5 55.12L198.12 57.75L197.12 60L197.12 61.75L195.5 63.12L194.88 62.75L196.38 61.5L196.38 60L197.38 57.75L200.38 54.5L199.62 48L195.88 39.75L196.38 35L199.25 31.62L200.75 31.12L203.5 31.62L206.75 34.12L210.38 33L210.88 31.25L210.38 26.75L208 25.38L206.12 23L206.12 20.25L206.62 19L208 17.62L209.25 17.12L210.88 17.5L208.5 18.12L207.38 19L206.88 20.25L206.88 23L208 24.62L210.88 26.25L211.62 28.75L211.62 31.25L211.12 33L210.25 33.88L207.5 34.62L207.12 35.25L207.12 42.25L208.38 46L210.38 48L211.62 50.5L211.25 50.88L210.38 50L209.88 48.5L207.38 45.5L206.38 42.25L206.62 34.75L204.75 33.12L202 31.88L199.25 32.38L197.38 34.25L196.62 37.25L196.62 39.75L200.38 48L200.88 50.25L200.88 54.25L201.75 54.88L205 55.38L209.75 57.12L210.88 58.5L211.38 60.5L211.38 63L210.75 63.62ZM150.5 24.12L147.25 22.38L145.75 22.12L143.88 19L143.88 18.25L146 21.38L150.5 23.38L150.88 23.75L150.5 24.12ZM169.5 48.38L168.5 47.38L166.25 46.62L162.88 43.25L163.25 42.88L166.75 46.12L168.75 46.88L170.25 46.62L171.12 45.75L172.38 43L173.38 37.75L172.25 37.12L164.75 35.38L163.88 34.5L164.25 34.12L164.75 34.62L172.25 36.38L173.5 37.12L175.25 36.38L176.88 34.25L179.12 29L179.62 20.5L180.5 18.88L180.88 19.25L180.38 20.5L180.12 27.5L179.62 29.75L177.12 35L173.88 38L172.62 44.25L171.88 45.75L169.62 47.75L169.5 48.38ZM144.5 36.38L144.12 36L145.38 32.75L143.88 29.25L144 28.38L145.62 31L146.12 32.75L145.62 34.75L144.5 36.38ZM144 47.12L143.88 46.25L145.62 43.5L145.38 42.5L145.75 42.12L146.38 43.5L144 47.12ZM188.5 59.62L181 53.88L179.38 52L178.88 50L179.12 45.75L179.75 45.12L180.12 45.5L179.62 50.5L180.12 52L182.25 54.12L187 57.38L188.88 59.25L188.5 59.62ZM181.75 63.62L177.5 62.62L174 59.12L171 58.12L168 58.62L166.88 59.75L166.12 62L164.5 63.38L163.88 63L165.38 62L166.12 59.75L168 57.88L171 57.38L174 58.38L177.5 61.88L181.75 62.88L182.12 63.25L181.75 63.62ZM148.5 63.12L144.75 63.12L144.38 62.75L144.75 62.38L150 62.12L152.25 60.12L155.25 59.12L156.75 58.88L158.62 59.75L158 60.12L156.75 59.62L153.25 60.38L150.5 62.62L148.5 63.12ZM206.75 63.88L204.5 63.12L202.5 63.88L201.62 63.5L204.5 62.38L206.75 63.88Z" fill="#000" fill-rule="evenodd" clip-path="url(#cs1)"/></g>
</g>
<g transform="translate(0 87.3)">
<g filter="url(#bf2)"><path d="M155 8.6C156.32 6.8 159.38 5.63 161.4 4.7C163.42 3.77 165.32 3.48 167.1 3C168.88 2.52 170.2 2.15 172.1 1.8C174 1.45 176.7 1.05 178.5 0.9C180.3 0.75 180.75 0.62 182.9 0.9C185.05 1.18 188.55 1.5 191.4 2.6C194.25 3.7 197.87 5.68 200 7.5C202.13 9.32 203.05 11.17 204.2 13.5C205.35 15.83 206.22 18.58 206.9 21.5C207.58 24.42 207.95 27.75 208.3 31C208.65 34.25 209.05 38.25 209 41C208.95 43.75 208.47 45.67 208 47.5C207.53 49.33 207.27 50.67 206.2 52C205.13 53.33 203.52 54.62 201.6 55.5C199.68 56.38 197.4 56.92 194.7 57.3C192 57.68 188.87 57.6 185.4 57.8C181.93 58 177.75 58.1 173.9 58.5C170.05 58.9 165.03 59.53 162.3 60.2C159.57 60.87 158.9 62.6 157.5 62.5C156.1 62.4 155.07 61.25 153.9 59.6C152.73 57.95 151.42 54.93 150.5 52.6C149.58 50.27 148.92 47.77 148.4 45.6C147.88 43.43 147.57 41.62 147.4 39.6C147.23 37.58 147.2 35.52 147.4 33.5C147.6 31.48 148.03 29.5 148.6 27.5C149.17 25.5 149.98 23.5 150.8 21.5C151.62 19.5 152.8 17.65 153.5 15.5C154.2 13.35 153.68 10.4 155 8.6Z" fill="#fff"/><path d="M184.25 0.12L182.5 -0.38L180.88 -1.5L181.25 -1.88L184.25 -0.62L187 -2.12L187.62 -1.75L184.25 0.12ZM209.75 2.62L205.75 2.12L202 -0.62L193.75 -0.38L191 -1.12L190.12 -2L193.75 -1.12L202 -1.38L204.75 0.88L207.5 1.88L209.75 1.88L211.5 -0.12L211.88 0.25L209.75 2.62ZM144.5 56.38L144.12 56L146 53.38L147 53.38L154.38 49.25L154.62 40L153.38 35.75L153.62 33L154.62 30.75L159.88 25.75L160.88 23.25L160.5 17.38L154.75 16.12L150.25 13.88L148.38 12.25L148.12 2.75L145.5 2.38L144.88 1.75L145.25 1.12L145.75 1.62L148.25 2.12L154.25 1.38L157 2.12L158.5 3.12L161.25 2.38L166.25 1.88L174.25 1.88L175.5 2.38L177.38 4.25L179.25 9.12L184 8.88L189.5 6.88L193.75 6.62L201.75 8.12L206.5 9.88L210.25 9.88L210.62 10.25L209.75 10.88L206.5 10.62L201.75 8.88L193.75 7.38L189.5 7.62L184 9.62L178.75 9.88L177 11.38L173.38 12.75L172.88 16.75L171.38 20.5L170.62 26.25L170.25 26.62L169.88 26.25L170.12 22.75L171.88 17.75L172.62 12.75L170.75 11.88L168 11.38L165.5 12.38L161.12 17.25L161.62 23.25L161.12 25L155.38 30.75L154.12 34.5L154.38 37.25L155.38 40L155.12 49.25L159.25 50.88L162.12 53L161.5 53.38L157.75 50.88L154.25 50.12L148.5 53.38L146.25 54.12L144.5 56.38ZM161.12 16.5L164.62 12.5L166.75 10.88L168 10.62L170.75 11.12L173 12.12L177.75 10.12L178.38 9L176.62 4.25L174.25 2.62L166.25 2.62L161.25 3.12L158.88 4L158.25 7.12L157.88 6.75L158 3.38L154.25 2.12L149.25 2.62L148.88 3L149.12 12.25L156 15.88L161.12 16.5ZM191.75 50.88L188.62 47L185.38 40L185.88 36.25L187.88 31.75L189.12 27.25L188.12 23.75L187.88 18L189.5 15.62L189.88 16L188.62 18L188.62 20.25L188.88 23.75L189.75 26.12L194.25 25.38L196.88 23.5L197.38 22.25L197.62 17L198 16.62L198.38 17L198.12 22.25L197.62 23.5L195.75 25.38L194.25 26.12L191.25 26.38L189.88 27L188.88 31L186.12 38.25L186.12 40L187.12 42.75L189.38 47L192.12 50.5L191.75 50.88ZM210.75 63.62L210.38 63.25L210.62 60.5L209.75 57.88L201 55.12L200.5 55.12L198.12 57.75L197.12 60L197.12 61.75L195.5 63.12L194.88 62.75L196.38 61.5L196.38 60L197.38 57.75L200.38 54.5L199.62 48L195.88 39.75L196.38 35L199.25 31.62L200.75 31.12L203.5 31.62L206.75 34.12L210.38 33L210.88 31.25L210.38 26.75L208 25.38L206.12 23L206.12 20.25L206.62 19L208 17.62L209.25 17.12L210.88 17.5L208.5 18.12L207.38 19L206.88 20.25L206.88 23L208 24.62L210.88 26.25L211.62 28.75L211.62 31.25L211.12 33L210.25 33.88L207.5 34.62L207.12 35.25L207.12 42.25L208.38 46L210.38 48L211.62 50.5L211.25 50.88L210.38 50L209.88 48.5L207.38 45.5L206.38 42.25L206.62 34.75L204.75 33.12L202 31.88L199.25 32.38L197.38 34.25L196.62 37.25L196.62 39.75L200.38 48L200.88 50.25L200.88 54.25L201.75 54.88L205 55.38L209.75 57.12L210.88 58.5L211.38 60.5L211.38 63L210.75 63.62ZM150.5 24.12L147.25 22.38L145.75 22.12L143.88 19L143.88 18.25L146 21.38L150.5 23.38L150.88 23.75L150.5 24.12ZM169.5 48.38L168.5 47.38L166.25 46.62L162.88 43.25L163.25 42.88L166.75 46.12L168.75 46.88L170.25 46.62L171.12 45.75L172.38 43L173.38 37.75L172.25 37.12L164.75 35.38L163.88 34.5L164.25 34.12L164.75 34.62L172.25 36.38L173.5 37.12L175.25 36.38L176.88 34.25L179.12 29L179.62 20.5L180.5 18.88L180.88 19.25L180.38 20.5L180.12 27.5L179.62 29.75L177.12 35L173.88 38L172.62 44.25L171.88 45.75L169.62 47.75L169.5 48.38ZM144.5 36.38L144.12 36L145.38 32.75L143.88 29.25L144 28.38L145.62 31L146.12 32.75L145.62 34.75L144.5 36.38ZM144 47.12L143.88 46.25L145.62 43.5L145.38 42.5L145.75 42.12L146.38 43.5L144 47.12ZM188.5 59.62L181 53.88L179.38 52L178.88 50L179.12 45.75L179.75 45.12L180.12 45.5L179.62 50.5L180.12 52L182.25 54.12L187 57.38L188.88 59.25L188.5 59.62ZM181.75 63.62L177.5 62.62L174 59.12L171 58.12L168 58.62L166.88 59.75L166.12 62L164.5 63.38L163.88 63L165.38 62L166.12 59.75L168 57.88L171 57.38L174 58.38L177.5 61.88L181.75 62.88L182.12 63.25L181.75 63.62ZM148.5 63.12L144.75 63.12L144.38 62.75L144.75 62.38L150 62.12L152.25 60.12L155.25 59.12L156.75 58.88L158.62 59.75L158 60.12L156.75 59.62L153.25 60.38L150.5 62.62L148.5 63.12ZM206.75 63.88L204.5 63.12L202.5 63.88L201.62 63.5L204.5 62.38L206.75 63.88Z" fill="#000" fill-rule="evenodd" clip-path="url(#cs1)"/></g>
</g>
<circle cx="134.3" cy="70.9" r="1.35" fill="#e3ad1c"/>
<circle cx="129.7" cy="67.9" r="1.35" fill="#e3ad1c"/>
<circle cx="124" cy="65.1" r="1.35" fill="#e3ad1c"/>
<circle cx="118.2" cy="63.8" r="1.35" fill="#e3ad1c"/>
<circle cx="112.4" cy="63.8" r="1.35" fill="#e3ad1c"/>
<circle cx="106.6" cy="64.9" r="1.35" fill="#e3ad1c"/>
<circle cx="101.3" cy="67.1" r="1.35" fill="#e3ad1c"/>
<circle cx="96.6" cy="70.3" r="1.35" fill="#e3ad1c"/>
<circle cx="92.4" cy="73.8" r="1.35" fill="#e3ad1c"/>
<circle cx="88.6" cy="78.3" r="1.35" fill="#e3ad1c"/>
<circle cx="85.6" cy="83.3" r="1.35" fill="#e3ad1c"/>
<circle cx="83.2" cy="88.6" r="1.35" fill="#e3ad1c"/>
<circle cx="82.4" cy="95.3" r="1.35" fill="#e3ad1c"/>
<circle cx="82.4" cy="102" r="1.35" fill="#e3ad1c"/>
<circle cx="83.2" cy="108.3" r="1.35" fill="#e3ad1c"/>
<circle cx="84.9" cy="114.4" r="1.35" fill="#e3ad1c"/>
<circle cx="87.3" cy="120.2" r="1.35" fill="#e3ad1c"/>
<circle cx="91.3" cy="125.3" r="1.35" fill="#e3ad1c"/>
<circle cx="157" cy="62.6" r="1.35" fill="#e3ad1c"/>
<circle cx="152.7" cy="57" r="1.35" fill="#e3ad1c"/>
<circle cx="150.2" cy="51.4" r="1.35" fill="#e3ad1c"/>
<circle cx="148.7" cy="45.6" r="1.35" fill="#e3ad1c"/>
<circle cx="147.7" cy="39.6" r="1.35" fill="#e3ad1c"/>
<circle cx="147.7" cy="33.4" r="1.35" fill="#e3ad1c"/>
<circle cx="148.9" cy="27.4" r="1.35" fill="#e3ad1c"/>
<circle cx="151" cy="21.5" r="1.35" fill="#e3ad1c"/>
<circle cx="153.6" cy="16.2" r="1.35" fill="#e3ad1c"/>
<circle cx="157.4" cy="11.2" r="1.35" fill="#e3ad1c"/>
<circle cx="162.2" cy="7.3" r="1.35" fill="#e3ad1c"/>
<circle cx="167.1" cy="4.3" r="1.35" fill="#e3ad1c"/>
<circle cx="172.6" cy="2.4" r="1.35" fill="#e3ad1c"/>
<circle cx="178.3" cy="1.5" r="1.35" fill="#e3ad1c"/>
<circle cx="183.9" cy="1.6" r="1.35" fill="#e3ad1c"/>
<circle cx="189.7" cy="3" r="1.35" fill="#e3ad1c"/>
<circle cx="195.2" cy="5.3" r="1.35" fill="#e3ad1c"/>
<circle cx="200" cy="8.6" r="1.35" fill="#e3ad1c"/>
<circle cx="157" cy="149.9" r="1.35" fill="#e3ad1c"/>
<circle cx="152.7" cy="144.3" r="1.35" fill="#e3ad1c"/>
<circle cx="150.2" cy="138.7" r="1.35" fill="#e3ad1c"/>
<circle cx="148.7" cy="132.9" r="1.35" fill="#e3ad1c"/>
<circle cx="147.7" cy="126.9" r="1.35" fill="#e3ad1c"/>
<circle cx="147.7" cy="120.7" r="1.35" fill="#e3ad1c"/>
<circle cx="148.9" cy="114.7" r="1.35" fill="#e3ad1c"/>
<circle cx="151" cy="108.8" r="1.35" fill="#e3ad1c"/>
<circle cx="153.6" cy="103.5" r="1.35" fill="#e3ad1c"/>
<circle cx="157.4" cy="98.5" r="1.35" fill="#e3ad1c"/>
<circle cx="162.2" cy="94.6" r="1.35" fill="#e3ad1c"/>
<circle cx="167.1" cy="91.6" r="1.35" fill="#e3ad1c"/>
<circle cx="172.6" cy="89.7" r="1.35" fill="#e3ad1c"/>
<circle cx="178.3" cy="88.8" r="1.35" fill="#e3ad1c"/>
<circle cx="183.9" cy="88.9" r="1.35" fill="#e3ad1c"/>
<circle cx="189.7" cy="90.3" r="1.35" fill="#e3ad1c"/>
<circle cx="195.2" cy="92.6" r="1.35" fill="#e3ad1c"/>
<circle cx="200" cy="95.9" r="1.35" fill="#e3ad1c"/>
<circle cx="98.6" cy="84.9" r="2.45" fill="#f4f4f4" stroke="#0c0c0c" stroke-width="0.6"/>
<text class="ns" x="0" y="1.05" font-size="3" text-anchor="middle" fill="#333" transform="translate(98.6 84.9) rotate(-60)">5</text>
<circle cx="107.6" cy="93" r="2.45" fill="#f4f4f4" stroke="#0c0c0c" stroke-width="0.6"/>
<text class="ns" x="0" y="1.05" font-size="3" text-anchor="middle" fill="#333" transform="translate(107.6 93) rotate(-60)">4</text>
<circle cx="110.9" cy="103.9" r="2.45" fill="#f4f4f4" stroke="#0c0c0c" stroke-width="0.6"/>
<text class="ns" x="0" y="1.05" font-size="3" text-anchor="middle" fill="#333" transform="translate(110.9 103.9) rotate(-60)">3</text>
<circle cx="118.8" cy="108.5" r="2.45" fill="#f4f4f4" stroke="#0c0c0c" stroke-width="0.6"/>
<text class="ns" x="0" y="1.05" font-size="3" text-anchor="middle" fill="#333" transform="translate(118.8 108.5) rotate(-60)">2</text>
<circle cx="118.5" cy="115.8" r="2.45" fill="#f4f4f4" stroke="#0c0c0c" stroke-width="0.6"/>
<text class="ns" x="0" y="1.05" font-size="3" text-anchor="middle" fill="#333" transform="translate(118.5 115.8) rotate(-60)">1</text>
<circle cx="164.6" cy="22" r="2.6" fill="#dcdcf6" stroke="#111" stroke-width="0.6"/>
<circle cx="172.5" cy="30.1" r="2.6" fill="#f07f84" stroke="#111" stroke-width="0.6"/>
<circle cx="176.8" cy="40.8" r="2.6" fill="#d0d0f4" stroke="#111" stroke-width="0.6"/>
<circle cx="185.1" cy="45.5" r="2.6" fill="#bcbcec" stroke="#111" stroke-width="0.6"/>
<circle cx="184.7" cy="53" r="2.6" fill="#3a4ab8" stroke="#111" stroke-width="0.6"/>
<circle cx="164.3" cy="109.9" r="2.6" fill="#f08888" stroke="#111" stroke-width="0.6"/>
<circle cx="172.3" cy="117.9" r="2.6" fill="#e63636" stroke="#111" stroke-width="0.6"/>
<circle cx="175.4" cy="128.6" r="2.6" fill="#e02c2c" stroke="#111" stroke-width="0.6"/>
<circle cx="184.4" cy="133.2" r="2.6" fill="#f4a8b0" stroke="#111" stroke-width="0.6"/>
<circle cx="184.4" cy="140.9" r="2.6" fill="#fbe8e8" stroke="#111" stroke-width="0.6"/>
<rect x="150.7" y="64.9" width="59" height="3.9" fill="url(#g1)"/>
<rect x="149.9" y="152.6" width="59" height="3.8" fill="url(#g1)"/>
<text x="151.4" y="75.18" font-size="6.7" text-anchor="middle" font-weight="normal" fill="#1a1a1a" >50</text>
<text x="180.3" y="75.18" font-size="6.7" text-anchor="middle" font-weight="normal" fill="#1a1a1a" >150</text>
<text x="210" y="75.18" font-size="6.7" text-anchor="middle" font-weight="normal" fill="#1a1a1a" >250</text>
<text x="180.5" y="81.43" font-size="6.85" text-anchor="middle" font-weight="normal" fill="#1a1a1a" >Response latency (ms)</text>
<text x="151.5" y="161.78" font-size="6.7" text-anchor="middle" font-weight="normal" fill="#1a1a1a" >-3</text>
<text x="179.7" y="161.78" font-size="6.7" text-anchor="middle" font-weight="normal" fill="#1a1a1a" >0</text>
<text x="208.9" y="161.78" font-size="6.7" text-anchor="middle" font-weight="normal" fill="#1a1a1a" >3</text>
<text x="181" y="169.63" font-size="6.85" text-anchor="middle" font-weight="normal" fill="#1a1a1a" >D-prime</text>
<path d="M236.5 5.4V79.6H326.5" fill="none" stroke="#bdbdbd" stroke-width="0.8"/>
<path d="M236.5 6.2h1.5" stroke="#bdbdbd" stroke-width="0.6"/>
<text x="234.3" y="8.69" font-size="7" text-anchor="end" font-weight="normal" fill="#1a1a1a" >0.3</text>
<path d="M236.5 16.67h1.5" stroke="#bdbdbd" stroke-width="0.6"/>
<text x="234.3" y="19.16" font-size="7" text-anchor="end" font-weight="normal" fill="#1a1a1a" >0.2</text>
<path d="M236.5 27.14h1.5" stroke="#bdbdbd" stroke-width="0.6"/>
<text x="234.3" y="29.63" font-size="7" text-anchor="end" font-weight="normal" fill="#1a1a1a" >0.1</text>
<path d="M236.5 37.61h1.5" stroke="#bdbdbd" stroke-width="0.6"/>
<text x="234.3" y="40.1" font-size="7" text-anchor="end" font-weight="normal" fill="#1a1a1a" >0</text>
<path d="M236.5 48.09h1.5" stroke="#bdbdbd" stroke-width="0.6"/>
<text x="234.3" y="50.57" font-size="7" text-anchor="end" font-weight="normal" fill="#1a1a1a" >-0.1</text>
<path d="M236.5 58.56h1.5" stroke="#bdbdbd" stroke-width="0.6"/>
<text x="234.3" y="61.04" font-size="7" text-anchor="end" font-weight="normal" fill="#1a1a1a" >-0.2</text>
<path d="M236.5 69.03h1.5" stroke="#bdbdbd" stroke-width="0.6"/>
<text x="234.3" y="71.51" font-size="7" text-anchor="end" font-weight="normal" fill="#1a1a1a" >-0.3</text>
<path d="M236.5 79.5h1.5" stroke="#bdbdbd" stroke-width="0.6"/>
<text x="234.3" y="81.98" font-size="7" text-anchor="end" font-weight="normal" fill="#1a1a1a" >-0.4</text>
<path d="M248.9 79.6v-1.5" stroke="#bdbdbd" stroke-width="0.6"/>
<text x="248.9" y="86.48" font-size="7" text-anchor="middle" font-weight="normal" fill="#1a1a1a" >-200</text>
<path d="M274.5 79.6v-1.5" stroke="#bdbdbd" stroke-width="0.6"/>
<text x="274.5" y="86.48" font-size="7" text-anchor="middle" font-weight="normal" fill="#1a1a1a" >0</text>
<path d="M301.4 79.6v-1.5" stroke="#bdbdbd" stroke-width="0.6"/>
<text x="301.4" y="86.48" font-size="7" text-anchor="middle" font-weight="normal" fill="#1a1a1a" >200</text>
<path d="M326.7 79.6v-1.5" stroke="#bdbdbd" stroke-width="0.6"/>
<text x="326.7" y="86.48" font-size="7" text-anchor="middle" font-weight="normal" fill="#1a1a1a" >400</text>
<path d="M274.4 6.4V79.6" stroke="#3c3c3c" stroke-width="0.85" stroke-dasharray="1.8 1.57"/>
<text x="241" y="11.83" font-size="6.85" text-anchor="start" font-weight="bold" fill="#1a1a1a" >Array 5</text>
<path d="M298.5 11.5H320.3" stroke="#2a2a2a" stroke-width="0.85"/>
<path d="M236.4 62.1C236.83 62.83 238.12 65.32 239 66.5C239.88 67.68 240.53 68.48 241.7 69.2C242.87 69.92 244.23 70.35 246 70.8C247.77 71.25 250.47 71.73 252.3 71.9C254.13 72.07 255.25 71.98 257 71.8C258.75 71.62 261.13 70.8 262.8 70.8C264.47 70.8 265.67 71.53 267 71.8C268.33 72.07 269.55 72.45 270.8 72.4C272.05 72.35 273.08 71.87 274.5 71.5C275.92 71.13 277.63 70.22 279.3 70.2C280.97 70.18 283.05 71.55 284.5 71.4C285.95 71.25 286.9 70.27 288 69.3C289.1 68.33 289.7 66.8 291.1 65.6C292.5 64.4 294.63 62.5 296.4 62.1C298.17 61.7 300.18 62.55 301.7 63.2C303.22 63.85 304.17 64.87 305.5 66C306.83 67.13 308.37 68.87 309.7 70C311.03 71.13 312.18 72.05 313.5 72.8C314.82 73.55 316.27 74.4 317.6 74.5C318.93 74.6 320.08 74.37 321.5 73.4C322.92 72.43 325.33 69.48 326.1 68.7" fill="none" stroke="#e8262b" stroke-width="1.0" stroke-linejoin="round" />
<path d="M236.4 60.2C237 61.25 238.68 64.95 240 66.5C241.32 68.05 242.92 69.22 244.3 69.5C245.68 69.78 247.02 68.03 248.3 68.2C249.58 68.37 250.68 69.53 252 70.5C253.32 71.47 254.87 73.53 256.2 74C257.53 74.47 258.45 73.75 260 73.3C261.55 72.85 263.83 71.47 265.5 71.3C267.17 71.13 268.68 72.07 270 72.3C271.32 72.53 272.23 72.85 273.4 72.7C274.57 72.55 275.68 71.72 277 71.4C278.32 71.08 280.05 70.77 281.3 70.8C282.55 70.83 283.47 71.63 284.5 71.6C285.53 71.57 286.33 71.9 287.5 70.6C288.67 69.3 290.25 67.23 291.5 63.8C292.75 60.37 293.92 54.63 295 50C296.08 45.37 296.98 40.58 298 36C299.02 31.42 300.18 25.67 301.1 22.5C302.02 19.33 302.73 18.1 303.5 17C304.27 15.9 304.95 15.65 305.7 15.9C306.45 16.15 307.12 16.82 308 18.5C308.88 20.18 309.93 22.42 311 26C312.07 29.58 313.32 35.58 314.4 40C315.48 44.42 316.57 49.2 317.5 52.5C318.43 55.8 319.08 58.12 320 59.8C320.92 61.48 321.98 62.17 323 62.6C324.02 63.03 325.58 62.43 326.1 62.4" fill="none" stroke="#4b3bd6" stroke-width="1.0" stroke-linejoin="round" />
<text x="269.6" y="92.03" font-size="6.85" text-anchor="start" font-weight="normal" fill="#1a1a1a" >Time (ms)</text>
<path d="M236.5 95.7V170.3H326.5" fill="none" stroke="#bdbdbd" stroke-width="0.8"/>
<path d="M236.5 96.5h1.5" stroke="#bdbdbd" stroke-width="0.6"/>
<text x="234.3" y="98.98" font-size="7" text-anchor="end" font-weight="normal" fill="#1a1a1a" >0.5</text>
<path d="M236.5 105.69h1.5" stroke="#bdbdbd" stroke-width="0.6"/>
<text x="234.3" y="108.17" font-size="7" text-anchor="end" font-weight="normal" fill="#1a1a1a" >0.4</text>
<path d="M236.5 114.88h1.5" stroke="#bdbdbd" stroke-width="0.6"/>
<text x="234.3" y="117.36" font-size="7" text-anchor="end" font-weight="normal" fill="#1a1a1a" >0.3</text>
<path d="M236.5 124.06h1.5" stroke="#bdbdbd" stroke-width="0.6"/>
<text x="234.3" y="126.55" font-size="7" text-anchor="end" font-weight="normal" fill="#1a1a1a" >0.2</text>
<path d="M236.5 133.25h1.5" stroke="#bdbdbd" stroke-width="0.6"/>
<text x="234.3" y="135.74" font-size="7" text-anchor="end" font-weight="normal" fill="#1a1a1a" >0.1</text>
<path d="M236.5 142.44h1.5" stroke="#bdbdbd" stroke-width="0.6"/>
<text x="234.3" y="144.92" font-size="7" text-anchor="end" font-weight="normal" fill="#1a1a1a" >0</text>
<path d="M236.5 151.62h1.5" stroke="#bdbdbd" stroke-width="0.6"/>
<text x="234.3" y="154.11" font-size="7" text-anchor="end" font-weight="normal" fill="#1a1a1a" >-0.1</text>
<path d="M236.5 160.81h1.5" stroke="#bdbdbd" stroke-width="0.6"/>
<text x="234.3" y="163.3" font-size="7" text-anchor="end" font-weight="normal" fill="#1a1a1a" >-0.2</text>
<path d="M236.5 170h1.5" stroke="#bdbdbd" stroke-width="0.6"/>
<text x="234.3" y="172.49" font-size="7" text-anchor="end" font-weight="normal" fill="#1a1a1a" >-0.3</text>
<path d="M247.8 170.3v-1.5" stroke="#bdbdbd" stroke-width="0.6"/>
<text x="247.8" y="176.99" font-size="7" text-anchor="middle" font-weight="normal" fill="#1a1a1a" >-200</text>
<path d="M274.7 170.3v-1.5" stroke="#bdbdbd" stroke-width="0.6"/>
<text x="274.7" y="176.99" font-size="7" text-anchor="middle" font-weight="normal" fill="#1a1a1a" >0</text>
<path d="M300.7 170.3v-1.5" stroke="#bdbdbd" stroke-width="0.6"/>
<text x="300.7" y="176.99" font-size="7" text-anchor="middle" font-weight="normal" fill="#1a1a1a" >200</text>
<path d="M324.8 170.3v-1.5" stroke="#bdbdbd" stroke-width="0.6"/>
<text x="324.8" y="176.99" font-size="7" text-anchor="middle" font-weight="normal" fill="#1a1a1a" >400</text>
<path d="M274.4 96.7V170.3" stroke="#555555" stroke-width="0.85" stroke-dasharray="1.8 1.57"/>
<text x="241" y="102.23" font-size="6.85" text-anchor="start" font-weight="bold" fill="#1a1a1a" >Array 4</text>
<path d="M309.2 96.5H324.1" stroke="#2a2a2a" stroke-width="0.85"/>
<path d="M236.2 156.4C236.58 156.77 237.67 158.2 238.5 158.6C239.33 159 240.28 158.97 241.2 158.8C242.12 158.63 243.05 157.7 244 157.6C244.95 157.5 246.07 157.83 246.9 158.2C247.73 158.57 248.23 159.07 249 159.8C249.77 160.53 250.58 161.3 251.5 162.6C252.42 163.9 253.67 166.82 254.5 167.6C255.33 168.38 255.75 167.82 256.5 167.3C257.25 166.78 258.17 165.63 259 164.5C259.83 163.37 260.75 161.53 261.5 160.5C262.25 159.47 262.75 158.33 263.5 158.3C264.25 158.27 265.17 159.8 266 160.3C266.83 160.8 267.67 161.4 268.5 161.3C269.33 161.2 270.12 160.02 271 159.7C271.88 159.38 272.88 159.93 273.8 159.4C274.72 158.87 275.63 157.52 276.5 156.5C277.37 155.48 278.22 154 279 153.3C279.78 152.6 280.37 152.27 281.2 152.3C282.03 152.33 283.03 153 284 153.5C284.97 154 285.83 154.95 287 155.3C288.17 155.65 289.67 155.37 291 155.6C292.33 155.83 293.67 156.27 295 156.7C296.33 157.13 297.67 157.77 299 158.2C300.33 158.63 301.75 159.37 303 159.3C304.25 159.23 305.33 157.88 306.5 157.8C307.67 157.72 308.92 158.47 310 158.8C311.08 159.13 311.83 159.57 313 159.8C314.17 160.03 315.83 160.2 317 160.2C318.17 160.2 319.08 159.78 320 159.8C320.92 159.82 321.78 160.13 322.5 160.3C323.22 160.47 323.65 160.32 324.3 160.8C324.95 161.28 326.05 162.8 326.4 163.2" fill="none" stroke="#e8262b" stroke-width="1.0" stroke-linejoin="round" />
<path d="M236.2 157.8C236.6 158.27 237.53 160.33 238.6 160.6C239.67 160.87 241.22 159.33 242.6 159.4C243.98 159.47 245.58 160.23 246.9 161C248.22 161.77 249.22 163 250.5 164C251.78 165 253.35 166.83 254.6 167C255.85 167.17 256.95 165.7 258 165C259.05 164.3 259.82 163.37 260.9 162.8C261.98 162.23 263.33 161.97 264.5 161.6C265.67 161.23 266.82 160.97 267.9 160.6C268.98 160.23 269.95 159.78 271 159.4C272.05 159.02 273.12 158.12 274.2 158.3C275.28 158.48 276.43 159.78 277.5 160.5C278.57 161.22 279.48 162 280.6 162.6C281.72 163.2 283.13 163.9 284.2 164.1C285.27 164.3 286.02 164.03 287 163.8C287.98 163.57 289.07 162.7 290.1 162.7C291.13 162.7 292.13 163.15 293.2 163.8C294.27 164.45 295.53 166.1 296.5 166.6C297.47 167.1 298.12 167.48 299 166.8C299.88 166.12 300.97 164.8 301.8 162.5C302.63 160.2 303.3 156.65 304 153C304.7 149.35 305.17 145.27 306 140.6C306.83 135.93 308.08 129.68 309 125C309.92 120.32 310.75 116 311.5 112.5C312.25 109 312.8 105.97 313.5 104C314.2 102.03 314.95 100.95 315.7 100.7C316.45 100.45 317.28 101.45 318 102.5C318.72 103.55 319.25 104.75 320 107C320.75 109.25 321.82 113.22 322.5 116C323.18 118.78 323.47 120.83 324.1 123.7C324.73 126.57 325.93 131.62 326.3 133.2" fill="none" stroke="#4b3bd6" stroke-width="1.0" stroke-linejoin="round" />
<text x="269.6" y="183.43" font-size="6.85" text-anchor="start" font-weight="normal" fill="#1a1a1a" >Time (ms)</text>
<path d="M236.5 185.7V260.5H326.5" fill="none" stroke="#bdbdbd" stroke-width="0.8"/>
<path d="M236.5 186.5h1.5" stroke="#bdbdbd" stroke-width="0.6"/>
<text x="234.3" y="188.99" font-size="7" text-anchor="end" font-weight="normal" fill="#1a1a1a" >0.5</text>
<path d="M236.5 193.89h1.5" stroke="#bdbdbd" stroke-width="0.6"/>
<text x="234.3" y="196.38" font-size="7" text-anchor="end" font-weight="normal" fill="#1a1a1a" >0.4</text>
<path d="M236.5 201.28h1.5" stroke="#bdbdbd" stroke-width="0.6"/>
<text x="234.3" y="203.77" font-size="7" text-anchor="end" font-weight="normal" fill="#1a1a1a" >0.3</text>
<path d="M236.5 208.67h1.5" stroke="#bdbdbd" stroke-width="0.6"/>
<text x="234.3" y="211.16" font-size="7" text-anchor="end" font-weight="normal" fill="#1a1a1a" >0.2</text>
<path d="M236.5 216.06h1.5" stroke="#bdbdbd" stroke-width="0.6"/>
<text x="234.3" y="218.55" font-size="7" text-anchor="end" font-weight="normal" fill="#1a1a1a" >0.1</text>
<path d="M236.5 223.45h1.5" stroke="#bdbdbd" stroke-width="0.6"/>
<text x="234.3" y="225.94" font-size="7" text-anchor="end" font-weight="normal" fill="#1a1a1a" >0</text>
<path d="M236.5 230.84h1.5" stroke="#bdbdbd" stroke-width="0.6"/>
<text x="234.3" y="233.32" font-size="7" text-anchor="end" font-weight="normal" fill="#1a1a1a" >-0.1</text>
<path d="M236.5 238.23h1.5" stroke="#bdbdbd" stroke-width="0.6"/>
<text x="234.3" y="240.72" font-size="7" text-anchor="end" font-weight="normal" fill="#1a1a1a" >-0.2</text>
<path d="M236.5 245.62h1.5" stroke="#bdbdbd" stroke-width="0.6"/>
<text x="234.3" y="248.1" font-size="7" text-anchor="end" font-weight="normal" fill="#1a1a1a" >-0.3</text>
<path d="M236.5 253.01h1.5" stroke="#bdbdbd" stroke-width="0.6"/>
<text x="234.3" y="255.5" font-size="7" text-anchor="end" font-weight="normal" fill="#1a1a1a" >-0.4</text>
<path d="M236.5 260.4h1.5" stroke="#bdbdbd" stroke-width="0.6"/>
<text x="234.3" y="262.88" font-size="7" text-anchor="end" font-weight="normal" fill="#1a1a1a" >-0.5</text>
<path d="M248.9 260.5v-1.5" stroke="#bdbdbd" stroke-width="0.6"/>
<text x="248.9" y="267.49" font-size="7" text-anchor="middle" font-weight="normal" fill="#1a1a1a" >-200</text>
<path d="M274.4 260.5v-1.5" stroke="#bdbdbd" stroke-width="0.6"/>
<text x="274.4" y="267.49" font-size="7" text-anchor="middle" font-weight="normal" fill="#1a1a1a" >0</text>
<path d="M300.7 260.5v-1.5" stroke="#bdbdbd" stroke-width="0.6"/>
<text x="300.7" y="267.49" font-size="7" text-anchor="middle" font-weight="normal" fill="#1a1a1a" >200</text>
<path d="M326.2 260.5v-1.5" stroke="#bdbdbd" stroke-width="0.6"/>
<text x="326.2" y="267.49" font-size="7" text-anchor="middle" font-weight="normal" fill="#1a1a1a" >400</text>
<path d="M274.4 186.7V260.5" stroke="#5a5a5a" stroke-width="0.85" stroke-dasharray="1.8 1.57"/>
<text x="241" y="193.23" font-size="6.85" text-anchor="start" font-weight="bold" fill="#1a1a1a" >Array 3</text>
<path d="M293.2 193.5H324.1" stroke="#2a2a2a" stroke-width="0.85"/>
<path d="M236.2 241.8C236.58 242.5 237.67 244.83 238.5 246C239.33 247.17 240.2 248 241.2 248.8C242.2 249.6 243.32 250.33 244.5 250.8C245.68 251.27 246.88 251.53 248.3 251.6C249.72 251.67 251.37 251.43 253 251.2C254.63 250.97 256.52 250.33 258.1 250.2C259.68 250.07 261.1 250.3 262.5 250.4C263.9 250.5 265.17 250.57 266.5 250.8C267.83 251.03 269.18 251.52 270.5 251.8C271.82 252.08 272.98 252.42 274.4 252.5C275.82 252.58 277.5 252.45 279 252.3C280.5 252.15 282.15 252.07 283.4 251.6C284.65 251.13 285.57 250.43 286.5 249.5C287.43 248.57 288.22 247.25 289 246C289.78 244.75 290.5 243.23 291.2 242C291.9 240.77 292.53 239.63 293.2 238.6C293.87 237.57 294.63 236.38 295.2 235.8C295.77 235.22 296.05 234.93 296.6 235.1C297.15 235.27 297.67 235.68 298.5 236.8C299.33 237.92 300.77 240.35 301.6 241.8C302.43 243.25 302.8 244.55 303.5 245.5C304.2 246.45 304.97 247.2 305.8 247.5C306.63 247.8 307.55 247.68 308.5 247.3C309.45 246.92 310.5 246.17 311.5 245.2C312.5 244.23 313.48 242.43 314.5 241.5C315.52 240.57 316.6 239.82 317.6 239.6C318.6 239.38 319.65 239.87 320.5 240.2C321.35 240.53 321.73 240.63 322.7 241.6C323.67 242.57 325.7 245.27 326.3 246" fill="none" stroke="#e8262b" stroke-width="1.0" stroke-linejoin="round" />
<path d="M236.2 242.4C236.58 243 237.67 244.93 238.5 246C239.33 247.07 240.2 247.92 241.2 248.8C242.2 249.68 243.32 250.68 244.5 251.3C245.68 251.92 247.13 252.48 248.3 252.5C249.47 252.52 250.33 251.78 251.5 251.4C252.67 251.02 253.97 250.42 255.3 250.2C256.63 249.98 258.1 250.1 259.5 250.1C260.9 250.1 262.28 250.18 263.7 250.2C265.12 250.22 266.7 250.25 268 250.2C269.3 250.15 270.43 250.05 271.5 249.9C272.57 249.75 273.15 249.57 274.4 249.3C275.65 249.03 277.5 248.62 279 248.3C280.5 247.98 282.27 247.78 283.4 247.4C284.53 247.02 285.1 246.7 285.8 246C286.5 245.3 286.9 245.2 287.6 243.2C288.3 241.2 289.07 237.85 290 234C290.93 230.15 292.28 224.35 293.2 220.1C294.12 215.85 294.8 211.43 295.5 208.5C296.2 205.57 296.73 204.17 297.4 202.5C298.07 200.83 298.57 199.53 299.5 198.5C300.43 197.47 301.75 196.55 303 196.3C304.25 196.05 305.58 196.67 307 197C308.42 197.33 310.08 197.87 311.5 198.3C312.92 198.73 314.2 199.13 315.5 199.6C316.8 200.07 318.22 200.53 319.3 201.1C320.38 201.67 321.2 202.3 322 203C322.8 203.7 323.38 204.22 324.1 205.3C324.82 206.38 325.93 208.8 326.3 209.5" fill="none" stroke="#4b3bd6" stroke-width="1.0" stroke-linejoin="round" />
<text x="269.6" y="273.23" font-size="6.85" text-anchor="start" font-weight="normal" fill="#1a1a1a" >Time (ms)</text>
<path d="M21.7 185.6V260.3H110.5" fill="none" stroke="#bdbdbd" stroke-width="0.8"/>
<path d="M21.7 186.4h1.5" stroke="#bdbdbd" stroke-width="0.6"/>
<text x="19.5" y="188.89" font-size="7" text-anchor="end" font-weight="normal" fill="#1a1a1a" >0.4</text>
<path d="M21.7 193.75h1.5" stroke="#bdbdbd" stroke-width="0.6"/>
<text x="19.5" y="196.24" font-size="7" text-anchor="end" font-weight="normal" fill="#1a1a1a" >0.3</text>
<path d="M21.7 201.1h1.5" stroke="#bdbdbd" stroke-width="0.6"/>
<text x="19.5" y="203.59" font-size="7" text-anchor="end" font-weight="normal" fill="#1a1a1a" >0.2</text>
<path d="M21.7 208.45h1.5" stroke="#bdbdbd" stroke-width="0.6"/>
<text x="19.5" y="210.94" font-size="7" text-anchor="end" font-weight="normal" fill="#1a1a1a" >0.1</text>
<path d="M21.7 215.8h1.5" stroke="#bdbdbd" stroke-width="0.6"/>
<text x="19.5" y="218.29" font-size="7" text-anchor="end" font-weight="normal" fill="#1a1a1a" >0</text>
<path d="M21.7 223.15h1.5" stroke="#bdbdbd" stroke-width="0.6"/>
<text x="19.5" y="225.63" font-size="7" text-anchor="end" font-weight="normal" fill="#1a1a1a" >-0.1</text>
<path d="M21.7 230.5h1.5" stroke="#bdbdbd" stroke-width="0.6"/>
<text x="19.5" y="232.99" font-size="7" text-anchor="end" font-weight="normal" fill="#1a1a1a" >-0.2</text>
<path d="M21.7 237.85h1.5" stroke="#bdbdbd" stroke-width="0.6"/>
<text x="19.5" y="240.34" font-size="7" text-anchor="end" font-weight="normal" fill="#1a1a1a" >-0.3</text>
<path d="M21.7 245.2h1.5" stroke="#bdbdbd" stroke-width="0.6"/>
<text x="19.5" y="247.69" font-size="7" text-anchor="end" font-weight="normal" fill="#1a1a1a" >-0.4</text>
<path d="M21.7 252.55h1.5" stroke="#bdbdbd" stroke-width="0.6"/>
<text x="19.5" y="255.03" font-size="7" text-anchor="end" font-weight="normal" fill="#1a1a1a" >-0.5</text>
<path d="M21.7 259.9h1.5" stroke="#bdbdbd" stroke-width="0.6"/>
<text x="19.5" y="262.38" font-size="7" text-anchor="end" font-weight="normal" fill="#1a1a1a" >-0.6</text>
<path d="M32.6 260.3v-1.5" stroke="#bdbdbd" stroke-width="0.6"/>
<text x="32.6" y="266.19" font-size="7" text-anchor="middle" font-weight="normal" fill="#1a1a1a" >-200</text>
<path d="M59.7 260.3v-1.5" stroke="#bdbdbd" stroke-width="0.6"/>
<text x="59.7" y="266.19" font-size="7" text-anchor="middle" font-weight="normal" fill="#1a1a1a" >0</text>
<path d="M86.3 260.3v-1.5" stroke="#bdbdbd" stroke-width="0.6"/>
<text x="86.3" y="266.19" font-size="7" text-anchor="middle" font-weight="normal" fill="#1a1a1a" >200</text>
<path d="M108.8 260.3v-1.5" stroke="#bdbdbd" stroke-width="0.6"/>
<text x="108.8" y="266.19" font-size="7" text-anchor="middle" font-weight="normal" fill="#1a1a1a" >400</text>
<path d="M59.6 186.6V260.3" stroke="#a0a0a0" stroke-width="0.85" stroke-dasharray="1.8 1.57"/>
<text x="25" y="193.03" font-size="6.85" text-anchor="start" font-weight="bold" fill="#1a1a1a" >Array 1</text>
<path d="M96.1 189.5H109.3" stroke="#2a2a2a" stroke-width="0.85"/>
<path d="M20.8 243.2C21.17 244.08 22.3 247.1 23 248.5C23.7 249.9 24.08 250.75 25 251.6C25.92 252.45 27.33 253.13 28.5 253.6C29.67 254.07 30.75 254.33 32 254.4C33.25 254.47 34.58 254.15 36 254C37.42 253.85 39.08 253.7 40.5 253.5C41.92 253.3 43.1 252.98 44.5 252.8C45.9 252.62 47.48 252.38 48.9 252.4C50.32 252.42 51.6 252.7 53 252.9C54.4 253.1 56.22 253.32 57.3 253.6C58.38 253.88 58.8 254.33 59.5 254.6C60.2 254.87 60.83 255.8 61.5 255.2C62.17 254.6 62.78 253.7 63.5 251C64.22 248.3 65.05 243.5 65.8 239C66.55 234.5 67.3 228.68 68 224C68.7 219.32 69.33 214.9 70 210.9C70.67 206.9 71.4 202.58 72 200C72.6 197.42 73.02 196.03 73.6 195.4C74.18 194.77 74.93 195.48 75.5 196.2C76.07 196.92 76.42 198.07 77 199.7C77.58 201.33 78.3 203.67 79 206C79.7 208.33 80.37 211.23 81.2 213.7C82.03 216.17 83.07 218.7 84 220.8C84.93 222.9 85.8 224.8 86.8 226.3C87.8 227.8 88.83 228.85 90 229.8C91.17 230.75 92.63 231.27 93.8 232C94.97 232.73 96.05 233.5 97 234.2C97.95 234.9 98.58 235.57 99.5 236.2C100.42 236.83 101.57 237.53 102.5 238C103.43 238.47 104.18 238.93 105.1 239C106.02 239.07 106.97 238.97 108 238.4C109.03 237.83 110.75 236.07 111.3 235.6" fill="none" stroke="#e8262b" stroke-width="1.0" stroke-linejoin="round" />
<path d="M20.8 240.4C21.27 241.8 22.43 246.63 23.6 248.8C24.77 250.97 26.4 252.5 27.8 253.4C29.2 254.3 30.8 254.3 32 254.2C33.2 254.1 34.05 253.23 35 252.8C35.95 252.37 36.78 251.63 37.7 251.6C38.62 251.57 39.57 252.15 40.5 252.6C41.43 253.05 42.13 254.07 43.3 254.3C44.47 254.53 46.1 254.15 47.5 254C48.9 253.85 50.37 253.37 51.7 253.4C53.03 253.43 54.33 253.88 55.5 254.2C56.67 254.52 57.78 255.2 58.7 255.3C59.62 255.4 60.38 255.12 61 254.8C61.62 254.48 61.9 254.7 62.4 253.4C62.9 252.1 63.43 249.87 64 247C64.57 244.13 65.17 240.37 65.8 236.2C66.43 232.03 67.1 226.68 67.8 222C68.5 217.32 69.3 212.07 70 208.1C70.7 204.13 71.3 200.75 72 198.2C72.7 195.65 73.57 193.47 74.2 192.8C74.83 192.13 75.23 193.05 75.8 194.2C76.37 195.35 76.82 197.07 77.6 199.7C78.38 202.33 79.43 206.27 80.5 210C81.57 213.73 82.72 219.85 84 222.1C85.28 224.35 86.78 223.3 88.2 223.5C89.62 223.7 91.08 223.28 92.5 223.3C93.92 223.32 95.28 223.25 96.7 223.6C98.12 223.95 99.6 224.8 101 225.4C102.4 226 103.93 226.7 105.1 227.2C106.27 227.7 106.97 228.07 108 228.4C109.03 228.73 110.75 229.07 111.3 229.2" fill="none" stroke="#4b3bd6" stroke-width="1.0" stroke-linejoin="round" />
<text x="55.1" y="272.93" font-size="6.85" text-anchor="start" font-weight="normal" fill="#1a1a1a" >Time (ms)</text>
<path d="M128.2 185.4V261H217.3" fill="none" stroke="#bdbdbd" stroke-width="0.8"/>
<path d="M128.2 186.2h1.5" stroke="#bdbdbd" stroke-width="0.6"/>
<text x="126" y="188.69" font-size="7" text-anchor="end" font-weight="normal" fill="#1a1a1a" >0.3</text>
<path d="M128.2 193.54h1.5" stroke="#bdbdbd" stroke-width="0.6"/>
<text x="126" y="196.03" font-size="7" text-anchor="end" font-weight="normal" fill="#1a1a1a" >0.2</text>
<path d="M128.2 200.88h1.5" stroke="#bdbdbd" stroke-width="0.6"/>
<text x="126" y="203.37" font-size="7" text-anchor="end" font-weight="normal" fill="#1a1a1a" >0.1</text>
<path d="M128.2 208.22h1.5" stroke="#bdbdbd" stroke-width="0.6"/>
<text x="126" y="210.71" font-size="7" text-anchor="end" font-weight="normal" fill="#1a1a1a" >0</text>
<path d="M128.2 215.56h1.5" stroke="#bdbdbd" stroke-width="0.6"/>
<text x="126" y="218.05" font-size="7" text-anchor="end" font-weight="normal" fill="#1a1a1a" >-0.1</text>
<path d="M128.2 222.9h1.5" stroke="#bdbdbd" stroke-width="0.6"/>
<text x="126" y="225.39" font-size="7" text-anchor="end" font-weight="normal" fill="#1a1a1a" >-0.2</text>
<path d="M128.2 230.24h1.5" stroke="#bdbdbd" stroke-width="0.6"/>
<text x="126" y="232.73" font-size="7" text-anchor="end" font-weight="normal" fill="#1a1a1a" >-0.3</text>
<path d="M128.2 237.58h1.5" stroke="#bdbdbd" stroke-width="0.6"/>
<text x="126" y="240.07" font-size="7" text-anchor="end" font-weight="normal" fill="#1a1a1a" >-0.4</text>
<path d="M128.2 244.92h1.5" stroke="#bdbdbd" stroke-width="0.6"/>
<text x="126" y="247.41" font-size="7" text-anchor="end" font-weight="normal" fill="#1a1a1a" >-0.5</text>
<path d="M128.2 252.26h1.5" stroke="#bdbdbd" stroke-width="0.6"/>
<text x="126" y="254.75" font-size="7" text-anchor="end" font-weight="normal" fill="#1a1a1a" >-0.6</text>
<path d="M128.2 259.6h1.5" stroke="#bdbdbd" stroke-width="0.6"/>
<text x="126" y="262.09" font-size="7" text-anchor="end" font-weight="normal" fill="#1a1a1a" >-0.7</text>
<path d="M140.8 261v-1.5" stroke="#bdbdbd" stroke-width="0.6"/>
<text x="140.8" y="267.49" font-size="7" text-anchor="middle" font-weight="normal" fill="#1a1a1a" >-200</text>
<path d="M167 261v-1.5" stroke="#bdbdbd" stroke-width="0.6"/>
<text x="167" y="267.49" font-size="7" text-anchor="middle" font-weight="normal" fill="#1a1a1a" >0</text>
<path d="M193.3 261v-1.5" stroke="#bdbdbd" stroke-width="0.6"/>
<text x="193.3" y="267.49" font-size="7" text-anchor="middle" font-weight="normal" fill="#1a1a1a" >200</text>
<path d="M216.2 261v-1.5" stroke="#bdbdbd" stroke-width="0.6"/>
<text x="216.2" y="267.49" font-size="7" text-anchor="middle" font-weight="normal" fill="#1a1a1a" >400</text>
<path d="M166.9 186.4V261" stroke="#a8a8a8" stroke-width="0.85" stroke-dasharray="1.8 1.57"/>
<text x="134.5" y="193.23" font-size="6.85" text-anchor="start" font-weight="bold" fill="#1a1a1a" >Array 2</text>
<path d="M192.4 192.5H217.1" stroke="#2a2a2a" stroke-width="0.85"/>
<path d="M127.8 253.6C128.17 254.13 129.3 255.95 130 256.8C130.7 257.65 131.08 258.4 132 258.7C132.92 259 134.33 258.7 135.5 258.6C136.67 258.5 137.75 258.4 139 258.1C140.25 257.8 141.58 257.18 143 256.8C144.42 256.42 146.08 256.1 147.5 255.8C148.92 255.5 150.1 255.23 151.5 255C152.9 254.77 154.48 254.7 155.9 254.4C157.32 254.1 158.6 253.67 160 253.2C161.4 252.73 163.22 252.1 164.3 251.6C165.38 251.1 165.8 250.57 166.5 250.2C167.2 249.83 167.67 249.6 168.5 249.4C169.33 249.2 170.55 249.1 171.5 249C172.45 248.9 173.37 248.97 174.2 248.8C175.03 248.63 175.8 248.47 176.5 248C177.2 247.53 177.73 247.5 178.4 246C179.07 244.5 179.87 241.17 180.5 239C181.13 236.83 181.62 234.87 182.2 233C182.78 231.13 183.4 230.3 184 227.8C184.6 225.3 185.23 220.82 185.8 218C186.37 215.18 186.9 212.48 187.4 210.9C187.9 209.32 188.33 208.97 188.8 208.5C189.27 208.03 189.58 207.92 190.2 208.1C190.82 208.28 191.67 208.9 192.5 209.6C193.33 210.3 194.28 211.4 195.2 212.3C196.12 213.2 197.07 214.3 198 215C198.93 215.7 199.8 216.23 200.8 216.5C201.8 216.77 203.05 216.75 204 216.6C204.95 216.45 205.62 215.85 206.5 215.6C207.38 215.35 208.38 215.03 209.3 215.1C210.22 215.17 211.07 215.53 212 216C212.93 216.47 214.03 217.3 214.9 217.9C215.77 218.5 216.82 219.32 217.2 219.6" fill="none" stroke="#e8262b" stroke-width="1.0" stroke-linejoin="round" />
<path d="M127.8 253C128.27 253.85 129.43 256.93 130.6 258.1C131.77 259.27 133.48 259.92 134.8 260C136.12 260.08 137.32 259.17 138.5 258.6C139.68 258.03 140.65 257 141.9 256.6C143.15 256.2 144.6 256.42 146 256.2C147.4 255.98 148.88 255.6 150.3 255.3C151.72 255 153.1 254.68 154.5 254.4C155.9 254.12 157.28 253.87 158.7 253.6C160.12 253.33 161.6 252.98 163 252.8C164.4 252.62 165.77 252.53 167.1 252.5C168.43 252.47 169.82 252.62 171 252.6C172.18 252.58 173.12 252.73 174.2 252.4C175.28 252.07 176.57 251.43 177.5 250.6C178.43 249.77 179.05 249.5 179.8 247.4C180.55 245.3 181.3 241.27 182 238C182.7 234.73 183.3 231.3 184 227.8C184.7 224.3 185.5 220.28 186.2 217C186.9 213.72 187.5 210.85 188.2 208.1C188.9 205.35 189.7 202.58 190.4 200.5C191.1 198.42 191.72 196.45 192.4 195.6C193.08 194.75 193.8 195.18 194.5 195.4C195.2 195.62 195.68 196.37 196.6 196.9C197.52 197.43 198.82 198.05 200 198.6C201.18 199.15 202.53 199.67 203.7 200.2C204.87 200.73 205.83 201.33 207 201.8C208.17 202.27 209.53 202.62 210.7 203C211.87 203.38 212.92 203.82 214 204.1C215.08 204.38 216.67 204.6 217.2 204.7" fill="none" stroke="#4b3bd6" stroke-width="1.0" stroke-linejoin="round" />
<text x="162.2" y="273.23" font-size="6.85" text-anchor="start" font-weight="normal" fill="#1a1a1a" >Time (ms)</text>
<text x="0" y="2.52" font-size="7.1" text-anchor="middle" font-weight="normal" fill="#1a1a1a" transform="translate(3.9 220.5) rotate(-90)">Z-normalized net spike rate</text>
<rect x="109.4" y="284.8" width="60.6" height="11.1" fill="#ffd0d2" stroke="#d1221f" stroke-width="2"/>
<text x="139.8" y="292.81" font-size="6.8" text-anchor="middle" font-weight="normal" fill="#222" >Scrambled</text>
<rect x="179.2" y="284.8" width="60.8" height="11.1" fill="#dcd5f4" stroke="#3a2ca4" stroke-width="2"/>
<text x="209.5" y="292.81" font-size="6.8" text-anchor="middle" font-weight="normal" fill="#222" >Non-Scrambled</text>
<path d="M365.8 13.4V128.45H510.9" fill="none" stroke="#bdbdbd" stroke-width="0.8"/>
<path d="M365.8 13.7h1.5" stroke="#bdbdbd" stroke-width="0.6"/>
<text x="363.7" y="16.33" font-size="7.4" text-anchor="end" font-weight="normal" fill="#1a1a1a" >12</text>
<path d="M365.8 26.45h1.5" stroke="#bdbdbd" stroke-width="0.6"/>
<text x="363.7" y="29.08" font-size="7.4" text-anchor="end" font-weight="normal" fill="#1a1a1a" >10</text>
<path d="M365.8 39.2h1.5" stroke="#bdbdbd" stroke-width="0.6"/>
<text x="363.7" y="41.83" font-size="7.4" text-anchor="end" font-weight="normal" fill="#1a1a1a" >8</text>
<path d="M365.8 51.95h1.5" stroke="#bdbdbd" stroke-width="0.6"/>
<text x="363.7" y="54.58" font-size="7.4" text-anchor="end" font-weight="normal" fill="#1a1a1a" >6</text>
<path d="M365.8 64.7h1.5" stroke="#bdbdbd" stroke-width="0.6"/>
<text x="363.7" y="67.33" font-size="7.4" text-anchor="end" font-weight="normal" fill="#1a1a1a" >4</text>
<path d="M365.8 77.45h1.5" stroke="#bdbdbd" stroke-width="0.6"/>
<text x="363.7" y="80.08" font-size="7.4" text-anchor="end" font-weight="normal" fill="#1a1a1a" >2</text>
<path d="M365.8 90.2h1.5" stroke="#bdbdbd" stroke-width="0.6"/>
<text x="363.7" y="92.83" font-size="7.4" text-anchor="end" font-weight="normal" fill="#1a1a1a" >0</text>
<path d="M365.8 102.95h1.5" stroke="#bdbdbd" stroke-width="0.6"/>
<text x="363.7" y="105.58" font-size="7.4" text-anchor="end" font-weight="normal" fill="#1a1a1a" >-2</text>
<path d="M365.8 115.7h1.5" stroke="#bdbdbd" stroke-width="0.6"/>
<text x="363.7" y="118.33" font-size="7.4" text-anchor="end" font-weight="normal" fill="#1a1a1a" >-4</text>
<path d="M374.9 128.45v-1.5" stroke="#bdbdbd" stroke-width="0.6"/>
<text x="374.9" y="135.56" font-size="7.2" text-anchor="middle" font-weight="normal" fill="#1a1a1a" >Array 1</text>
<path d="M406.4 128.45v-1.5" stroke="#bdbdbd" stroke-width="0.6"/>
<text x="406.4" y="135.56" font-size="7.2" text-anchor="middle" font-weight="normal" fill="#1a1a1a" >Array 2</text>
<path d="M438.2 128.45v-1.5" stroke="#bdbdbd" stroke-width="0.6"/>
<text x="438.2" y="135.56" font-size="7.2" text-anchor="middle" font-weight="normal" fill="#1a1a1a" >Array 3</text>
<path d="M469.6 128.45v-1.5" stroke="#bdbdbd" stroke-width="0.6"/>
<text x="469.6" y="135.56" font-size="7.2" text-anchor="middle" font-weight="normal" fill="#1a1a1a" >Array 4</text>
<path d="M501.6 128.45v-1.5" stroke="#bdbdbd" stroke-width="0.6"/>
<text x="501.6" y="135.56" font-size="7.2" text-anchor="middle" font-weight="normal" fill="#1a1a1a" >Array 5</text>
<text x="0" y="2.59" font-size="7.3" text-anchor="middle" font-weight="normal" fill="#1a1a1a" transform="translate(351.4 68) rotate(-90)">D-prime Non-Scrambled vs Scrambled</text>
<path d="M374.9 59.9L375.25 59.9L375.25 60.99L375.25 62.08L375.25 63.17L375.25 64.26L375.25 65.35L375.25 66.44L375.25 67.53L375.25 68.62L375.25 69.71L375.25 70.8L375.25 71.89L375.25 72.98L375.35 74.07L375.56 75.16L375.84 76.25L376.21 77.34L376.66 78.43L377.21 79.52L377.84 80.61L378.53 81.7L379.25 82.79L379.96 83.88L380.63 84.97L381.19 86.06L381.61 87.15L381.85 88.24L381.88 89.33L381.52 90.42L380.78 91.51L379.78 92.6L378.7 93.69L377.67 94.78L376.79 95.87L376.1 96.96L375.62 98.05L375.3 99.14L375.25 100.23L375.25 101.32L375.25 102.41L375.25 103.5L374.9 103.5Z" fill="#86e2c2" opacity="0.85"/>
<rect x="370.46" y="82.33" width="0.9" height="0.9" fill="#5fd3a8"/>
<rect x="371.34" y="91.72" width="0.9" height="0.9" fill="#5fd3a8"/>
<rect x="370.78" y="81.56" width="0.9" height="0.9" fill="#5fd3a8"/>
<rect x="370.96" y="84.89" width="0.9" height="0.9" fill="#5fd3a8"/>
<rect x="371.28" y="84.62" width="0.9" height="0.9" fill="#5fd3a8"/>
<rect x="371.15" y="84.91" width="0.9" height="0.9" fill="#5fd3a8"/>
<rect x="371.62" y="80.12" width="0.9" height="0.9" fill="#5fd3a8"/>
<rect x="370.19" y="86.12" width="0.9" height="0.9" fill="#5fd3a8"/>
<rect x="370.05" y="86.06" width="0.9" height="0.9" fill="#5fd3a8"/>
<rect x="371.18" y="93.19" width="0.9" height="0.9" fill="#5fd3a8"/>
<rect x="371.03" y="93.14" width="0.9" height="0.9" fill="#5fd3a8"/>
<rect x="371.06" y="86.81" width="0.9" height="0.9" fill="#5fd3a8"/>
<rect x="371.75" y="91.13" width="0.9" height="0.9" fill="#5fd3a8"/>
<rect x="369.95" y="91.3" width="0.9" height="0.9" fill="#5fd3a8"/>
<rect x="370.03" y="85.82" width="0.9" height="0.9" fill="#5fd3a8"/>
<rect x="370.46" y="83.33" width="0.9" height="0.9" fill="#5fd3a8"/>
<rect x="370.66" y="86.82" width="0.9" height="0.9" fill="#5fd3a8"/>
<rect x="371.91" y="85.52" width="0.9" height="0.9" fill="#5fd3a8"/>
<rect x="370.23" y="90.04" width="0.9" height="0.9" fill="#5fd3a8"/>
<rect x="370.68" y="82.94" width="0.9" height="0.9" fill="#5fd3a8"/>
<rect x="371.08" y="91.52" width="0.9" height="0.9" fill="#5fd3a8"/>
<rect x="371.56" y="95.17" width="0.9" height="0.9" fill="#5fd3a8"/>
<rect x="370.54" y="82.42" width="0.9" height="0.9" fill="#5fd3a8"/>
<rect x="371.92" y="84.78" width="0.9" height="0.9" fill="#5fd3a8"/>
<rect x="371.29" y="85.66" width="0.9" height="0.9" fill="#5fd3a8"/>
<rect x="370.86" y="94.07" width="0.9" height="0.9" fill="#5fd3a8"/>
<rect x="371.09" y="85.26" width="0.9" height="0.9" fill="#5fd3a8"/>
<rect x="371.83" y="89.72" width="0.9" height="0.9" fill="#5fd3a8"/>
<rect x="372.04" y="84.9" width="0.9" height="0.9" fill="#5fd3a8"/>
<rect x="369.95" y="83.2" width="0.9" height="0.9" fill="#5fd3a8"/>
<rect x="371.59" y="90.28" width="0.9" height="0.9" fill="#5fd3a8"/>
<rect x="370.69" y="82.84" width="0.9" height="0.9" fill="#5fd3a8"/>
<rect x="371.99" y="89.52" width="0.9" height="0.9" fill="#5fd3a8"/>
<rect x="371.44" y="80.21" width="0.9" height="0.9" fill="#5fd3a8"/>
<rect x="370.44" y="89.67" width="0.9" height="0.9" fill="#5fd3a8"/>
<rect x="370.81" y="83.47" width="0.9" height="0.9" fill="#5fd3a8"/>
<rect x="371.78" y="94.59" width="0.9" height="0.9" fill="#5fd3a8"/>
<rect x="370.24" y="88.61" width="0.9" height="0.9" fill="#5fd3a8"/>
<rect x="370.51" y="95.67" width="0.9" height="0.9" fill="#5fd3a8"/>
<rect x="370.19" y="90.04" width="0.9" height="0.9" fill="#5fd3a8"/>
<rect x="371.56" y="89.71" width="0.9" height="0.9" fill="#5fd3a8"/>
<rect x="370.56" y="82.01" width="0.9" height="0.9" fill="#5fd3a8"/>
<rect x="371.78" y="94.26" width="0.9" height="0.9" fill="#5fd3a8"/>
<rect x="369.98" y="85.54" width="0.9" height="0.9" fill="#5fd3a8"/>
<rect x="370.04" y="97.05" width="0.9" height="0.9" fill="#5fd3a8"/>
<rect x="371.52" y="82.91" width="0.9" height="0.9" fill="#5fd3a8"/>
<rect x="370.9" y="82.31" width="0.9" height="0.9" fill="#5fd3a8"/>
<rect x="371.77" y="85.5" width="0.9" height="0.9" fill="#5fd3a8"/>
<rect x="371.04" y="84.8" width="0.9" height="0.9" fill="#5fd3a8"/>
<rect x="370.54" y="83.62" width="0.9" height="0.9" fill="#5fd3a8"/>
<rect x="370.81" y="91.7" width="0.9" height="0.9" fill="#5fd3a8"/>
<rect x="370.34" y="83.6" width="0.9" height="0.9" fill="#5fd3a8"/>
<path d="M374.9 79.3V97.5" stroke="#2a2a2a" stroke-width="0.85"/>
<rect x="373.7" y="86" width="2.7" height="5.2" fill="#6ad8b0" stroke="#1a1a1a" stroke-width="0.55"/>
<path d="M373.5 88.6H376.6" stroke="#111" stroke-width="0.9"/>
<path d="M406.4 45.4L406.75 45.4L406.75 47.31L406.75 49.23L406.75 51.14L406.75 53.06L406.75 54.97L406.75 56.89L406.75 58.8L406.75 60.72L406.75 62.63L406.77 64.55L407.03 66.47L407.42 68.38L407.96 70.3L408.67 72.21L409.54 74.12L410.54 76.04L411.57 77.95L412.55 79.87L413.34 81.78L413.85 83.7L414 85.61L413.66 87.53L412.85 89.44L411.73 91.36L410.49 93.27L409.31 95.19L408.33 97.1L407.59 99.02L407.08 100.93L406.76 102.85L406.75 104.76L406.75 106.68L406.75 108.59L406.75 110.51L406.75 112.43L406.75 114.34L406.75 116.25L406.75 118.17L406.75 120.08L406.75 122L406.4 122Z" fill="#f8907c" opacity="0.85"/>
<rect x="401.06" y="86.01" width="0.9" height="0.9" fill="#f2553f"/>
<rect x="401.94" y="75.98" width="0.9" height="0.9" fill="#f2553f"/>
<rect x="402.44" y="92.17" width="0.9" height="0.9" fill="#f2553f"/>
<rect x="402.02" y="79.22" width="0.9" height="0.9" fill="#f2553f"/>
<rect x="402.61" y="77.17" width="0.9" height="0.9" fill="#f2553f"/>
<rect x="402.28" y="83.77" width="0.9" height="0.9" fill="#f2553f"/>
<rect x="400.76" y="63.52" width="0.9" height="0.9" fill="#f2553f"/>
<rect x="401.58" y="82.82" width="0.9" height="0.9" fill="#f2553f"/>
<rect x="402.72" y="87.67" width="0.9" height="0.9" fill="#f2553f"/>
<rect x="401.3" y="82.41" width="0.9" height="0.9" fill="#f2553f"/>
<rect x="400.97" y="66.43" width="0.9" height="0.9" fill="#f2553f"/>
<rect x="401.16" y="82.78" width="0.9" height="0.9" fill="#f2553f"/>
<rect x="401.52" y="92.51" width="0.9" height="0.9" fill="#f2553f"/>
<rect x="400.66" y="81.52" width="0.9" height="0.9" fill="#f2553f"/>
<rect x="402.68" y="95.8" width="0.9" height="0.9" fill="#f2553f"/>
<rect x="400.92" y="96.43" width="0.9" height="0.9" fill="#f2553f"/>
<rect x="401.43" y="78.75" width="0.9" height="0.9" fill="#f2553f"/>
<rect x="402.72" y="81.95" width="0.9" height="0.9" fill="#f2553f"/>
<rect x="401.55" y="89.81" width="0.9" height="0.9" fill="#f2553f"/>
<rect x="402.74" y="93.17" width="0.9" height="0.9" fill="#f2553f"/>
<rect x="400.89" y="88.54" width="0.9" height="0.9" fill="#f2553f"/>
<rect x="401.82" y="93.39" width="0.9" height="0.9" fill="#f2553f"/>
<rect x="400.68" y="89.11" width="0.9" height="0.9" fill="#f2553f"/>
<rect x="402.43" y="84.36" width="0.9" height="0.9" fill="#f2553f"/>
<rect x="400.73" y="93.24" width="0.9" height="0.9" fill="#f2553f"/>
<rect x="402.04" y="86.14" width="0.9" height="0.9" fill="#f2553f"/>
<rect x="402.51" y="76.93" width="0.9" height="0.9" fill="#f2553f"/>
<rect x="401.91" y="86.13" width="0.9" height="0.9" fill="#f2553f"/>
<rect x="401.7" y="85.92" width="0.9" height="0.9" fill="#f2553f"/>
<rect x="402.13" y="64.21" width="0.9" height="0.9" fill="#f2553f"/>
<rect x="402.03" y="82.28" width="0.9" height="0.9" fill="#f2553f"/>
<rect x="402.2" y="80.73" width="0.9" height="0.9" fill="#f2553f"/>
<rect x="402.75" y="83.49" width="0.9" height="0.9" fill="#f2553f"/>
<rect x="401.02" y="57.66" width="0.9" height="0.9" fill="#f2553f"/>
<rect x="402.49" y="92.71" width="0.9" height="0.9" fill="#f2553f"/>
<rect x="400.9" y="72.48" width="0.9" height="0.9" fill="#f2553f"/>
<rect x="401.9" y="89.18" width="0.9" height="0.9" fill="#f2553f"/>
<rect x="400.57" y="86.7" width="0.9" height="0.9" fill="#f2553f"/>
<rect x="402.01" y="68.97" width="0.9" height="0.9" fill="#f2553f"/>
<rect x="400.8" y="60.71" width="0.9" height="0.9" fill="#f2553f"/>
<rect x="401.15" y="85.33" width="0.9" height="0.9" fill="#f2553f"/>
<rect x="401" y="88.52" width="0.9" height="0.9" fill="#f2553f"/>
<rect x="401.62" y="79.72" width="0.9" height="0.9" fill="#f2553f"/>
<rect x="400.75" y="96.31" width="0.9" height="0.9" fill="#f2553f"/>
<rect x="400.56" y="79.97" width="0.9" height="0.9" fill="#f2553f"/>
<rect x="401.13" y="85.86" width="0.9" height="0.9" fill="#f2553f"/>
<rect x="401.49" y="81.58" width="0.9" height="0.9" fill="#f2553f"/>
<rect x="402.49" y="76.06" width="0.9" height="0.9" fill="#f2553f"/>
<rect x="402.39" y="81.28" width="0.9" height="0.9" fill="#f2553f"/>
<rect x="400.83" y="77.47" width="0.9" height="0.9" fill="#f2553f"/>
<rect x="402.3" y="92.04" width="0.9" height="0.9" fill="#f2553f"/>
<rect x="401.01" y="98.95" width="0.9" height="0.9" fill="#f2553f"/>
<rect x="402.27" y="76.59" width="0.9" height="0.9" fill="#f2553f"/>
<rect x="401.92" y="74.32" width="0.9" height="0.9" fill="#f2553f"/>
<rect x="402.45" y="92.64" width="0.9" height="0.9" fill="#f2553f"/>
<rect x="402.49" y="94.54" width="0.9" height="0.9" fill="#f2553f"/>
<rect x="401.28" y="88.89" width="0.9" height="0.9" fill="#f2553f"/>
<rect x="402.45" y="94.11" width="0.9" height="0.9" fill="#f2553f"/>
<rect x="402.28" y="67.34" width="0.9" height="0.9" fill="#f2553f"/>
<rect x="402.44" y="91.52" width="0.9" height="0.9" fill="#f2553f"/>
<rect x="401.56" y="90.44" width="0.9" height="0.9" fill="#f2553f"/>
<rect x="401.05" y="90.03" width="0.9" height="0.9" fill="#f2553f"/>
<rect x="401.27" y="78.35" width="0.9" height="0.9" fill="#f2553f"/>
<rect x="401.16" y="102.34" width="0.9" height="0.9" fill="#f2553f"/>
<rect x="402.71" y="82.35" width="0.9" height="0.9" fill="#f2553f"/>
<rect x="400.8" y="92.82" width="0.9" height="0.9" fill="#f2553f"/>
<rect x="402.67" y="62.93" width="0.9" height="0.9" fill="#f2553f"/>
<rect x="401.51" y="76.7" width="0.9" height="0.9" fill="#f2553f"/>
<rect x="401.88" y="69.68" width="0.9" height="0.9" fill="#f2553f"/>
<rect x="401.82" y="82.07" width="0.9" height="0.9" fill="#f2553f"/>
<rect x="400.55" y="88.35" width="0.9" height="0.9" fill="#f2553f"/>
<path d="M406.4 62.7V103.6" stroke="#2a2a2a" stroke-width="0.85"/>
<rect x="405.2" y="78.6" width="3.2" height="11.4" fill="#f47a64" stroke="#1a1a1a" stroke-width="0.55"/>
<path d="M405 86.4H408.6" stroke="#111" stroke-width="0.9"/>
<path d="M438.2 25L438.55 25L438.55 27.08L438.55 29.16L438.55 31.23L438.55 33.31L438.55 35.39L438.55 37.47L438.55 39.54L438.55 41.62L438.55 43.7L438.6 45.77L438.79 47.85L439.05 49.93L439.4 52.01L439.83 54.08L440.36 56.16L440.96 58.24L441.64 60.32L442.36 62.39L443.07 64.47L443.74 66.55L444.32 68.63L444.76 70.7L445.03 72.78L445.09 74.86L444.82 76.94L444.19 79.02L443.3 81.09L442.29 83.17L441.29 85.25L440.4 87.33L439.68 89.4L439.13 91.48L438.75 93.56L438.55 95.63L438.55 97.71L438.55 99.79L438.55 101.87L438.55 103.94L438.55 106.02L438.55 108.1L438.2 108.1Z" fill="#f03c58" opacity="0.85"/>
<rect x="433.78" y="70.15" width="0.9" height="0.9" fill="#e8203a"/>
<rect x="433" y="77.56" width="0.9" height="0.9" fill="#e8203a"/>
<rect x="432.93" y="78.51" width="0.9" height="0.9" fill="#e8203a"/>
<rect x="433.78" y="82.5" width="0.9" height="0.9" fill="#e8203a"/>
<rect x="433.1" y="70.81" width="0.9" height="0.9" fill="#e8203a"/>
<rect x="432.48" y="70.52" width="0.9" height="0.9" fill="#e8203a"/>
<rect x="433.69" y="84.51" width="0.9" height="0.9" fill="#e8203a"/>
<rect x="432.86" y="74.47" width="0.9" height="0.9" fill="#e8203a"/>
<rect x="432.83" y="64.11" width="0.9" height="0.9" fill="#e8203a"/>
<rect x="433.64" y="76.69" width="0.9" height="0.9" fill="#e8203a"/>
<rect x="432.67" y="73.69" width="0.9" height="0.9" fill="#e8203a"/>
<rect x="433.95" y="83.66" width="0.9" height="0.9" fill="#e8203a"/>
<rect x="433.33" y="65.94" width="0.9" height="0.9" fill="#e8203a"/>
<rect x="434" y="71.37" width="0.9" height="0.9" fill="#e8203a"/>
<rect x="432.69" y="77.68" width="0.9" height="0.9" fill="#e8203a"/>
<rect x="432.74" y="64.63" width="0.9" height="0.9" fill="#e8203a"/>
<rect x="432.36" y="82.54" width="0.9" height="0.9" fill="#e8203a"/>
<rect x="432.63" y="77.77" width="0.9" height="0.9" fill="#e8203a"/>
<rect x="432.74" y="67.69" width="0.9" height="0.9" fill="#e8203a"/>
<rect x="433.85" y="40.31" width="0.9" height="0.9" fill="#e8203a"/>
<rect x="433.14" y="45.97" width="0.9" height="0.9" fill="#e8203a"/>
<rect x="433.34" y="84.89" width="0.9" height="0.9" fill="#e8203a"/>
<rect x="434.07" y="69.51" width="0.9" height="0.9" fill="#e8203a"/>
<rect x="433.67" y="81.49" width="0.9" height="0.9" fill="#e8203a"/>
<rect x="434.29" y="73.35" width="0.9" height="0.9" fill="#e8203a"/>
<rect x="433.78" y="74.31" width="0.9" height="0.9" fill="#e8203a"/>
<rect x="433.41" y="82.12" width="0.9" height="0.9" fill="#e8203a"/>
<rect x="433.24" y="81.64" width="0.9" height="0.9" fill="#e8203a"/>
<rect x="433.6" y="69.47" width="0.9" height="0.9" fill="#e8203a"/>
<rect x="433.58" y="69.19" width="0.9" height="0.9" fill="#e8203a"/>
<rect x="432.83" y="65.78" width="0.9" height="0.9" fill="#e8203a"/>
<rect x="433.39" y="71.04" width="0.9" height="0.9" fill="#e8203a"/>
<rect x="433.73" y="69.12" width="0.9" height="0.9" fill="#e8203a"/>
<rect x="433.1" y="43.6" width="0.9" height="0.9" fill="#e8203a"/>
<rect x="432.66" y="73.12" width="0.9" height="0.9" fill="#e8203a"/>
<rect x="433.48" y="83.73" width="0.9" height="0.9" fill="#e8203a"/>
<rect x="433.88" y="87.98" width="0.9" height="0.9" fill="#e8203a"/>
<rect x="432.97" y="64.23" width="0.9" height="0.9" fill="#e8203a"/>
<rect x="434.3" y="87.79" width="0.9" height="0.9" fill="#e8203a"/>
<rect x="433.4" y="80.32" width="0.9" height="0.9" fill="#e8203a"/>
<rect x="432.68" y="68.89" width="0.9" height="0.9" fill="#e8203a"/>
<rect x="432.94" y="64.73" width="0.9" height="0.9" fill="#e8203a"/>
<rect x="432.56" y="62.64" width="0.9" height="0.9" fill="#e8203a"/>
<rect x="433.57" y="66.87" width="0.9" height="0.9" fill="#e8203a"/>
<rect x="433.44" y="72.65" width="0.9" height="0.9" fill="#e8203a"/>
<rect x="432.5" y="78.05" width="0.9" height="0.9" fill="#e8203a"/>
<rect x="433.03" y="65.19" width="0.9" height="0.9" fill="#e8203a"/>
<rect x="433.87" y="71.19" width="0.9" height="0.9" fill="#e8203a"/>
<rect x="434.03" y="80.42" width="0.9" height="0.9" fill="#e8203a"/>
<rect x="432.24" y="65.88" width="0.9" height="0.9" fill="#e8203a"/>
<rect x="432.97" y="85.8" width="0.9" height="0.9" fill="#e8203a"/>
<rect x="433.63" y="83.75" width="0.9" height="0.9" fill="#e8203a"/>
<rect x="432.64" y="93.18" width="0.9" height="0.9" fill="#e8203a"/>
<rect x="432.48" y="67.41" width="0.9" height="0.9" fill="#e8203a"/>
<rect x="432.68" y="71.58" width="0.9" height="0.9" fill="#e8203a"/>
<rect x="432.57" y="82.95" width="0.9" height="0.9" fill="#e8203a"/>
<rect x="432.45" y="80.33" width="0.9" height="0.9" fill="#e8203a"/>
<rect x="432.44" y="94.02" width="0.9" height="0.9" fill="#e8203a"/>
<rect x="433.69" y="70.87" width="0.9" height="0.9" fill="#e8203a"/>
<rect x="433.77" y="62.21" width="0.9" height="0.9" fill="#e8203a"/>
<rect x="433.58" y="79.09" width="0.9" height="0.9" fill="#e8203a"/>
<rect x="434.07" y="80.86" width="0.9" height="0.9" fill="#e8203a"/>
<rect x="434.36" y="66.73" width="0.9" height="0.9" fill="#e8203a"/>
<rect x="433.14" y="59.44" width="0.9" height="0.9" fill="#e8203a"/>
<rect x="432.95" y="75.08" width="0.9" height="0.9" fill="#e8203a"/>
<rect x="432.43" y="86.05" width="0.9" height="0.9" fill="#e8203a"/>
<rect x="434.02" y="75.59" width="0.9" height="0.9" fill="#e8203a"/>
<rect x="433.81" y="64.39" width="0.9" height="0.9" fill="#e8203a"/>
<rect x="433.98" y="55.12" width="0.9" height="0.9" fill="#e8203a"/>
<rect x="433.16" y="74.59" width="0.9" height="0.9" fill="#e8203a"/>
<rect x="434.07" y="55.03" width="0.9" height="0.9" fill="#e8203a"/>
<rect x="434.14" y="44.85" width="0.9" height="0.9" fill="#e8203a"/>
<rect x="433.54" y="74.18" width="0.9" height="0.9" fill="#e8203a"/>
<rect x="434.07" y="64.72" width="0.9" height="0.9" fill="#e8203a"/>
<rect x="433.96" y="68.7" width="0.9" height="0.9" fill="#e8203a"/>
<rect x="433.74" y="83.2" width="0.9" height="0.9" fill="#e8203a"/>
<rect x="434.29" y="64.32" width="0.9" height="0.9" fill="#e8203a"/>
<rect x="433.27" y="79.73" width="0.9" height="0.9" fill="#e8203a"/>
<path d="M438.2 49.6V92.7" stroke="#2a2a2a" stroke-width="0.85"/>
<rect x="436.6" y="68.1" width="3.6" height="13.7" fill="#e02a44" stroke="#1a1a1a" stroke-width="0.55"/>
<path d="M436.4 74.5H440.4" stroke="#111" stroke-width="0.9"/>
<path d="M469.6 48.8L469.95 48.8L469.95 50.12L469.95 51.45L469.95 52.77L469.95 54.09L469.95 55.41L469.95 56.73L469.95 58.06L469.96 59.38L470.13 60.7L470.37 62.02L470.69 63.35L471.1 64.67L471.6 65.99L472.2 67.31L472.87 68.64L473.6 69.96L474.35 71.28L475.08 72.6L475.74 73.93L476.29 75.25L476.68 76.57L476.88 77.9L476.84 79.22L476.44 80.54L475.72 81.86L474.78 83.19L473.75 84.51L472.75 85.83L471.87 87.15L471.14 88.47L470.59 89.8L470.21 91.12L469.95 92.44L469.95 93.77L469.95 95.09L469.95 96.41L469.95 97.73L469.95 99.06L469.95 100.38L469.95 101.7L469.6 101.7Z" fill="#98da5c" opacity="0.85"/>
<rect x="465.47" y="82.1" width="0.9" height="0.9" fill="#7cc832"/>
<rect x="464.25" y="83.95" width="0.9" height="0.9" fill="#7cc832"/>
<rect x="464.72" y="82.31" width="0.9" height="0.9" fill="#7cc832"/>
<rect x="465.22" y="78.77" width="0.9" height="0.9" fill="#7cc832"/>
<rect x="464.78" y="83.18" width="0.9" height="0.9" fill="#7cc832"/>
<rect x="464.6" y="68.67" width="0.9" height="0.9" fill="#7cc832"/>
<rect x="464.31" y="74.22" width="0.9" height="0.9" fill="#7cc832"/>
<rect x="464.46" y="83.45" width="0.9" height="0.9" fill="#7cc832"/>
<rect x="465.64" y="78.94" width="0.9" height="0.9" fill="#7cc832"/>
<rect x="464.67" y="76.79" width="0.9" height="0.9" fill="#7cc832"/>
<rect x="464.55" y="74.24" width="0.9" height="0.9" fill="#7cc832"/>
<rect x="465.23" y="71.33" width="0.9" height="0.9" fill="#7cc832"/>
<rect x="465.27" y="86.88" width="0.9" height="0.9" fill="#7cc832"/>
<rect x="465.96" y="64.04" width="0.9" height="0.9" fill="#7cc832"/>
<rect x="465.31" y="85.24" width="0.9" height="0.9" fill="#7cc832"/>
<rect x="464.46" y="78.24" width="0.9" height="0.9" fill="#7cc832"/>
<rect x="465.1" y="86.35" width="0.9" height="0.9" fill="#7cc832"/>
<rect x="464.21" y="72.82" width="0.9" height="0.9" fill="#7cc832"/>
<rect x="464.38" y="71.97" width="0.9" height="0.9" fill="#7cc832"/>
<rect x="466.24" y="76.02" width="0.9" height="0.9" fill="#7cc832"/>
<rect x="465.38" y="83.48" width="0.9" height="0.9" fill="#7cc832"/>
<rect x="465.2" y="67.22" width="0.9" height="0.9" fill="#7cc832"/>
<rect x="465.94" y="78.27" width="0.9" height="0.9" fill="#7cc832"/>
<rect x="465.42" y="69.77" width="0.9" height="0.9" fill="#7cc832"/>
<rect x="466.13" y="83.09" width="0.9" height="0.9" fill="#7cc832"/>
<rect x="465.5" y="74.52" width="0.9" height="0.9" fill="#7cc832"/>
<rect x="464.22" y="73.92" width="0.9" height="0.9" fill="#7cc832"/>
<rect x="465.36" y="78.4" width="0.9" height="0.9" fill="#7cc832"/>
<rect x="465.61" y="74.85" width="0.9" height="0.9" fill="#7cc832"/>
<rect x="465.56" y="74.53" width="0.9" height="0.9" fill="#7cc832"/>
<rect x="465.43" y="85.21" width="0.9" height="0.9" fill="#7cc832"/>
<rect x="464.99" y="89.88" width="0.9" height="0.9" fill="#7cc832"/>
<rect x="466.05" y="81.59" width="0.9" height="0.9" fill="#7cc832"/>
<rect x="464.42" y="62.29" width="0.9" height="0.9" fill="#7cc832"/>
<rect x="465.3" y="83.23" width="0.9" height="0.9" fill="#7cc832"/>
<rect x="465.57" y="73.11" width="0.9" height="0.9" fill="#7cc832"/>
<rect x="465.15" y="90.17" width="0.9" height="0.9" fill="#7cc832"/>
<rect x="464.14" y="72.4" width="0.9" height="0.9" fill="#7cc832"/>
<rect x="464.6" y="76.32" width="0.9" height="0.9" fill="#7cc832"/>
<rect x="465.89" y="86.68" width="0.9" height="0.9" fill="#7cc832"/>
<rect x="466.25" y="86.5" width="0.9" height="0.9" fill="#7cc832"/>
<rect x="464.14" y="68.62" width="0.9" height="0.9" fill="#7cc832"/>
<rect x="465.48" y="75.06" width="0.9" height="0.9" fill="#7cc832"/>
<rect x="465.34" y="65.81" width="0.9" height="0.9" fill="#7cc832"/>
<rect x="464.25" y="79.07" width="0.9" height="0.9" fill="#7cc832"/>
<rect x="465.52" y="76.5" width="0.9" height="0.9" fill="#7cc832"/>
<rect x="465.58" y="70.55" width="0.9" height="0.9" fill="#7cc832"/>
<rect x="465.84" y="86.41" width="0.9" height="0.9" fill="#7cc832"/>
<rect x="464.74" y="78.47" width="0.9" height="0.9" fill="#7cc832"/>
<rect x="464.94" y="86.82" width="0.9" height="0.9" fill="#7cc832"/>
<rect x="465.5" y="87.11" width="0.9" height="0.9" fill="#7cc832"/>
<rect x="464.46" y="77.79" width="0.9" height="0.9" fill="#7cc832"/>
<rect x="465.43" y="83.35" width="0.9" height="0.9" fill="#7cc832"/>
<rect x="465.26" y="66.51" width="0.9" height="0.9" fill="#7cc832"/>
<rect x="465.59" y="74.02" width="0.9" height="0.9" fill="#7cc832"/>
<rect x="465.39" y="86.86" width="0.9" height="0.9" fill="#7cc832"/>
<rect x="465.26" y="73.67" width="0.9" height="0.9" fill="#7cc832"/>
<rect x="466.23" y="72.61" width="0.9" height="0.9" fill="#7cc832"/>
<path d="M469.6 65.6V93.8" stroke="#2a2a2a" stroke-width="0.85"/>
<rect x="468.1" y="75.1" width="2.9" height="8.2" fill="#7cc838" stroke="#1a1a1a" stroke-width="0.55"/>
<path d="M467.9 78.5H471.2" stroke="#111" stroke-width="0.9"/>
<path d="M501.6 38.9L501.95 38.9L501.95 40.57L501.95 42.23L501.95 43.9L501.95 45.57L501.95 47.24L501.95 48.91L501.95 50.57L501.95 52.24L501.95 53.91L501.95 55.57L501.95 57.24L502.13 58.91L502.38 60.58L502.73 62.24L503.18 63.91L503.73 65.58L504.39 67.25L505.13 68.91L505.92 70.58L506.72 72.25L507.46 73.92L508.1 75.58L508.58 77.25L508.85 78.92L508.87 80.59L508.46 82.25L507.64 83.92L506.56 85.59L505.41 87.26L504.33 88.92L503.43 90.59L502.74 92.26L502.27 93.93L501.96 95.59L501.95 97.26L501.95 98.93L501.95 100.6L501.95 102.26L501.95 103.93L501.95 105.6L501.6 105.6Z" fill="#a6b0e2" opacity="0.85"/>
<rect x="495.81" y="69.92" width="0.9" height="0.9" fill="#7c8ad0"/>
<rect x="497.13" y="71.43" width="0.9" height="0.9" fill="#7c8ad0"/>
<rect x="497.39" y="75.91" width="0.9" height="0.9" fill="#7c8ad0"/>
<rect x="496.76" y="60.99" width="0.9" height="0.9" fill="#7c8ad0"/>
<rect x="496.67" y="87.32" width="0.9" height="0.9" fill="#7c8ad0"/>
<rect x="496.16" y="86.43" width="0.9" height="0.9" fill="#7c8ad0"/>
<rect x="497.61" y="68.01" width="0.9" height="0.9" fill="#7c8ad0"/>
<rect x="496.17" y="85.54" width="0.9" height="0.9" fill="#7c8ad0"/>
<rect x="497.75" y="81.43" width="0.9" height="0.9" fill="#7c8ad0"/>
<rect x="496.73" y="73.72" width="0.9" height="0.9" fill="#7c8ad0"/>
<rect x="496.75" y="80.81" width="0.9" height="0.9" fill="#7c8ad0"/>
<rect x="495.97" y="76.76" width="0.9" height="0.9" fill="#7c8ad0"/>
<rect x="496.06" y="74.44" width="0.9" height="0.9" fill="#7c8ad0"/>
<rect x="497.19" y="52.79" width="0.9" height="0.9" fill="#7c8ad0"/>
<rect x="496.4" y="84.27" width="0.9" height="0.9" fill="#7c8ad0"/>
<rect x="497.71" y="84.65" width="0.9" height="0.9" fill="#7c8ad0"/>
<rect x="496.66" y="71.75" width="0.9" height="0.9" fill="#7c8ad0"/>
<rect x="497.47" y="86.41" width="0.9" height="0.9" fill="#7c8ad0"/>
<rect x="496.56" y="80.36" width="0.9" height="0.9" fill="#7c8ad0"/>
<rect x="496.99" y="67.81" width="0.9" height="0.9" fill="#7c8ad0"/>
<rect x="497.68" y="79.36" width="0.9" height="0.9" fill="#7c8ad0"/>
<rect x="496.98" y="83.29" width="0.9" height="0.9" fill="#7c8ad0"/>
<rect x="497.44" y="85.95" width="0.9" height="0.9" fill="#7c8ad0"/>
<rect x="497.13" y="76.67" width="0.9" height="0.9" fill="#7c8ad0"/>
<rect x="495.63" y="86.77" width="0.9" height="0.9" fill="#7c8ad0"/>
<rect x="497.58" y="82.21" width="0.9" height="0.9" fill="#7c8ad0"/>
<rect x="496.5" y="81.62" width="0.9" height="0.9" fill="#7c8ad0"/>
<rect x="497.47" y="82.25" width="0.9" height="0.9" fill="#7c8ad0"/>
<rect x="497.54" y="83.31" width="0.9" height="0.9" fill="#7c8ad0"/>
<rect x="496.2" y="85.11" width="0.9" height="0.9" fill="#7c8ad0"/>
<rect x="496.72" y="73.66" width="0.9" height="0.9" fill="#7c8ad0"/>
<rect x="495.92" y="85.05" width="0.9" height="0.9" fill="#7c8ad0"/>
<rect x="496.91" y="86.43" width="0.9" height="0.9" fill="#7c8ad0"/>
<rect x="495.86" y="87.17" width="0.9" height="0.9" fill="#7c8ad0"/>
<rect x="496.11" y="75.57" width="0.9" height="0.9" fill="#7c8ad0"/>
<rect x="497.53" y="85.26" width="0.9" height="0.9" fill="#7c8ad0"/>
<rect x="496.52" y="57.48" width="0.9" height="0.9" fill="#7c8ad0"/>
<rect x="496.96" y="81.44" width="0.9" height="0.9" fill="#7c8ad0"/>
<rect x="497.41" y="75.5" width="0.9" height="0.9" fill="#7c8ad0"/>
<rect x="496.61" y="77.87" width="0.9" height="0.9" fill="#7c8ad0"/>
<rect x="496.81" y="81.17" width="0.9" height="0.9" fill="#7c8ad0"/>
<rect x="497.7" y="63.1" width="0.9" height="0.9" fill="#7c8ad0"/>
<rect x="496.8" y="62.25" width="0.9" height="0.9" fill="#7c8ad0"/>
<rect x="495.66" y="81.53" width="0.9" height="0.9" fill="#7c8ad0"/>
<rect x="497.54" y="79.84" width="0.9" height="0.9" fill="#7c8ad0"/>
<path d="M501.6 59.7V93.8" stroke="#2a2a2a" stroke-width="0.85"/>
<rect x="500.3" y="75.1" width="3" height="9.6" fill="#8e9cd8" stroke="#1a1a1a" stroke-width="0.55"/>
<path d="M500.1 80.5H503.5" stroke="#111" stroke-width="0.9"/>
<path d="M534.9 9.1V127.3H685" fill="none" stroke="#bdbdbd" stroke-width="0.8"/>
<path d="M534.9 10.6h1.5" stroke="#bdbdbd" stroke-width="0.6"/>
<text x="533.7" y="13.33" font-size="7.7" text-anchor="end" font-weight="normal" fill="#1a1a1a" >1.2</text>
<path d="M534.9 22.25h1.5" stroke="#bdbdbd" stroke-width="0.6"/>
<text x="533.7" y="24.98" font-size="7.7" text-anchor="end" font-weight="normal" fill="#1a1a1a" >1.0</text>
<path d="M534.9 33.9h1.5" stroke="#bdbdbd" stroke-width="0.6"/>
<text x="533.7" y="36.63" font-size="7.7" text-anchor="end" font-weight="normal" fill="#1a1a1a" >0.8</text>
<path d="M534.9 45.55h1.5" stroke="#bdbdbd" stroke-width="0.6"/>
<text x="533.7" y="48.28" font-size="7.7" text-anchor="end" font-weight="normal" fill="#1a1a1a" >0.6</text>
<path d="M534.9 57.2h1.5" stroke="#bdbdbd" stroke-width="0.6"/>
<text x="533.7" y="59.93" font-size="7.7" text-anchor="end" font-weight="normal" fill="#1a1a1a" >0.4</text>
<path d="M534.9 68.85h1.5" stroke="#bdbdbd" stroke-width="0.6"/>
<text x="533.7" y="71.58" font-size="7.7" text-anchor="end" font-weight="normal" fill="#1a1a1a" >0.2</text>
<path d="M534.9 80.5h1.5" stroke="#bdbdbd" stroke-width="0.6"/>
<text x="533.7" y="83.23" font-size="7.7" text-anchor="end" font-weight="normal" fill="#1a1a1a" >0</text>
<path d="M534.9 92.15h1.5" stroke="#bdbdbd" stroke-width="0.6"/>
<text x="533.7" y="94.88" font-size="7.7" text-anchor="end" font-weight="normal" fill="#1a1a1a" >-0.2</text>
<path d="M534.9 103.8h1.5" stroke="#bdbdbd" stroke-width="0.6"/>
<text x="533.7" y="106.53" font-size="7.7" text-anchor="end" font-weight="normal" fill="#1a1a1a" >-0.4</text>
<path d="M534.9 115.45h1.5" stroke="#bdbdbd" stroke-width="0.6"/>
<text x="533.7" y="118.18" font-size="7.7" text-anchor="end" font-weight="normal" fill="#1a1a1a" >-0.6</text>
<path d="M534.9 127.1h1.5" stroke="#bdbdbd" stroke-width="0.6"/>
<text x="533.7" y="129.83" font-size="7.7" text-anchor="end" font-weight="normal" fill="#1a1a1a" >-0.8</text>
<path d="M554.7 127.3v-1.5" stroke="#bdbdbd" stroke-width="0.6"/>
<text x="554.7" y="135.67" font-size="7.25" text-anchor="middle" font-weight="normal" fill="#1a1a1a" >Array 1</text>
<path d="M581.6 127.3v-1.5" stroke="#bdbdbd" stroke-width="0.6"/>
<text x="581.6" y="135.67" font-size="7.25" text-anchor="middle" font-weight="normal" fill="#1a1a1a" >Array 2</text>
<path d="M609.4 127.3v-1.5" stroke="#bdbdbd" stroke-width="0.6"/>
<text x="609.4" y="135.67" font-size="7.25" text-anchor="middle" font-weight="normal" fill="#1a1a1a" >Array 3</text>
<path d="M637.5 127.3v-1.5" stroke="#bdbdbd" stroke-width="0.6"/>
<text x="637.5" y="135.67" font-size="7.25" text-anchor="middle" font-weight="normal" fill="#1a1a1a" >Array 4</text>
<path d="M664.6 127.3v-1.5" stroke="#bdbdbd" stroke-width="0.6"/>
<text x="664.6" y="135.67" font-size="7.25" text-anchor="middle" font-weight="normal" fill="#1a1a1a" >Array 5</text>
<text x="0" y="2.59" font-size="7.3" text-anchor="middle" font-weight="normal" fill="#1a1a1a" transform="translate(518.4 69.3) rotate(-90)">Z-score</text>
<rect x="549.6" y="34.4" width="1.2" height="1.2" fill="#8a6a9a"/>
<rect x="609.3" y="21.8" width="1.2" height="1.2" fill="#1f5566"/>
<rect x="609.3" y="125.3" width="1.2" height="1.2" fill="#1f5566"/>
<rect x="552.5" y="110.3" width="1.2" height="1.2" fill="#1f5566"/>
<rect x="544.9" y="67.4" width="5.8" height="14.8" fill="#eeeeee" opacity="0.5"/>
<rect x="546.21" y="72.42" width="1.15" height="1.15" fill="#8c6c9c"/>
<rect x="547.23" y="55.29" width="1.15" height="1.15" fill="#8c6c9c"/>
<rect x="547.38" y="58.6" width="1.15" height="1.15" fill="#8c6c9c"/>
<rect x="546.89" y="66.17" width="1.15" height="1.15" fill="#8c6c9c"/>
<rect x="547.86" y="75.11" width="1.15" height="1.15" fill="#8c6c9c"/>
<rect x="546.14" y="69.87" width="1.15" height="1.15" fill="#8c6c9c"/>
<rect x="547.48" y="82.77" width="1.15" height="1.15" fill="#8c6c9c"/>
<rect x="547.91" y="72.07" width="1.15" height="1.15" fill="#8c6c9c"/>
<rect x="547.71" y="70.87" width="1.15" height="1.15" fill="#8c6c9c"/>
<rect x="546.07" y="73.77" width="1.15" height="1.15" fill="#8c6c9c"/>
<rect x="546.61" y="69.35" width="1.15" height="1.15" fill="#8c6c9c"/>
<rect x="548.31" y="63.88" width="1.15" height="1.15" fill="#8c6c9c"/>
<rect x="546.89" y="57.44" width="1.15" height="1.15" fill="#8c6c9c"/>
<rect x="547.01" y="65.84" width="1.15" height="1.15" fill="#8c6c9c"/>
<rect x="547.5" y="59.99" width="1.15" height="1.15" fill="#8c6c9c"/>
<rect x="548.33" y="76.28" width="1.15" height="1.15" fill="#8c6c9c"/>
<rect x="546.06" y="65.56" width="1.15" height="1.15" fill="#8c6c9c"/>
<rect x="546.06" y="65.73" width="1.15" height="1.15" fill="#8c6c9c"/>
<rect x="547" y="82.71" width="1.15" height="1.15" fill="#8c6c9c"/>
<rect x="546.09" y="77.41" width="1.15" height="1.15" fill="#8c6c9c"/>
<rect x="547.53" y="68.64" width="1.15" height="1.15" fill="#8c6c9c"/>
<rect x="547.38" y="57.41" width="1.15" height="1.15" fill="#8c6c9c"/>
<rect x="546.58" y="68.21" width="1.15" height="1.15" fill="#8c6c9c"/>
<rect x="546.16" y="99.41" width="1.15" height="1.15" fill="#8c6c9c"/>
<rect x="546.49" y="97.32" width="1.15" height="1.15" fill="#8c6c9c"/>
<rect x="546.85" y="66.21" width="1.15" height="1.15" fill="#8c6c9c"/>
<rect x="547.99" y="76.5" width="1.15" height="1.15" fill="#8c6c9c"/>
<rect x="548.24" y="71.93" width="1.15" height="1.15" fill="#8c6c9c"/>
<rect x="546.95" y="73.88" width="1.15" height="1.15" fill="#8c6c9c"/>
<rect x="545.88" y="80.56" width="1.15" height="1.15" fill="#8c6c9c"/>
<rect x="547.04" y="69.63" width="1.15" height="1.15" fill="#8c6c9c"/>
<rect x="546.73" y="73.75" width="1.15" height="1.15" fill="#8c6c9c"/>
<rect x="546.11" y="77.23" width="1.15" height="1.15" fill="#8c6c9c"/>
<rect x="548.01" y="56.13" width="1.15" height="1.15" fill="#8c6c9c"/>
<rect x="547.81" y="77.13" width="1.15" height="1.15" fill="#8c6c9c"/>
<rect x="547.02" y="79.27" width="1.15" height="1.15" fill="#8c6c9c"/>
<rect x="546.95" y="83.52" width="1.15" height="1.15" fill="#8c6c9c"/>
<rect x="546.86" y="81.57" width="1.15" height="1.15" fill="#8c6c9c"/>
<rect x="548.19" y="68.62" width="1.15" height="1.15" fill="#8c6c9c"/>
<rect x="548.56" y="66.35" width="1.15" height="1.15" fill="#8c6c9c"/>
<rect x="548.59" y="83.19" width="1.15" height="1.15" fill="#8c6c9c"/>
<rect x="546" y="65.62" width="1.15" height="1.15" fill="#8c6c9c"/>
<rect x="547.54" y="72.71" width="1.15" height="1.15" fill="#8c6c9c"/>
<rect x="546.22" y="70.78" width="1.15" height="1.15" fill="#8c6c9c"/>
<rect x="546.07" y="67.98" width="1.15" height="1.15" fill="#8c6c9c"/>
<rect x="546.01" y="78.48" width="1.15" height="1.15" fill="#8c6c9c"/>
<rect x="547.96" y="78.63" width="1.15" height="1.15" fill="#8c6c9c"/>
<rect x="546.3" y="82.08" width="1.15" height="1.15" fill="#8c6c9c"/>
<rect x="548.29" y="89.34" width="1.15" height="1.15" fill="#8c6c9c"/>
<rect x="545.96" y="67.27" width="1.15" height="1.15" fill="#8c6c9c"/>
<rect x="547.59" y="68.66" width="1.15" height="1.15" fill="#8c6c9c"/>
<rect x="546.45" y="80.07" width="1.15" height="1.15" fill="#8c6c9c"/>
<rect x="547.1" y="68.71" width="1.15" height="1.15" fill="#8c6c9c"/>
<rect x="546.31" y="72.7" width="1.15" height="1.15" fill="#8c6c9c"/>
<rect x="547.32" y="83.19" width="1.15" height="1.15" fill="#8c6c9c"/>
<rect x="548.61" y="56.28" width="1.15" height="1.15" fill="#8c6c9c"/>
<rect x="547.29" y="79.22" width="1.15" height="1.15" fill="#8c6c9c"/>
<rect x="546.01" y="82.5" width="1.15" height="1.15" fill="#8c6c9c"/>
<rect x="546.67" y="75.59" width="1.15" height="1.15" fill="#8c6c9c"/>
<rect x="546.11" y="87.07" width="1.15" height="1.15" fill="#8c6c9c"/>
<rect x="547.2" y="73.93" width="1.15" height="1.15" fill="#8c6c9c"/>
<rect x="544.9" y="67.4" width="5.8" height="14.8" fill="none" stroke="#262626" stroke-width="0.7"/>
<path d="M544.9 75.6H550.7" stroke="#262626" stroke-width="0.7"/>
<rect x="551.2" y="72.3" width="5.3" height="23.1" fill="#eeeeee" opacity="0.5"/>
<rect x="553.46" y="71.73" width="1.35" height="1.35" fill="#1a5060"/>
<rect x="552.42" y="94.11" width="1.35" height="1.35" fill="#1a5060"/>
<rect x="553.52" y="89.84" width="1.35" height="1.35" fill="#1a5060"/>
<rect x="553.45" y="62.99" width="1.35" height="1.35" fill="#1a5060"/>
<rect x="552.91" y="88.68" width="1.35" height="1.35" fill="#1a5060"/>
<rect x="553.48" y="75.42" width="1.35" height="1.35" fill="#1a5060"/>
<rect x="552.77" y="72.06" width="1.35" height="1.35" fill="#1a5060"/>
<rect x="551.85" y="84.81" width="1.35" height="1.35" fill="#1a5060"/>
<rect x="553.97" y="74.52" width="1.35" height="1.35" fill="#1a5060"/>
<rect x="553.43" y="96.15" width="1.35" height="1.35" fill="#1a5060"/>
<rect x="554.11" y="99.77" width="1.35" height="1.35" fill="#1a5060"/>
<rect x="552.42" y="79.75" width="1.35" height="1.35" fill="#1a5060"/>
<rect x="552.39" y="69.04" width="1.35" height="1.35" fill="#1a5060"/>
<rect x="554.4" y="73.55" width="1.35" height="1.35" fill="#1a5060"/>
<rect x="553.85" y="76.01" width="1.35" height="1.35" fill="#1a5060"/>
<rect x="552.81" y="84.45" width="1.35" height="1.35" fill="#1a5060"/>
<rect x="552.49" y="76.7" width="1.35" height="1.35" fill="#1a5060"/>
<rect x="553" y="75.65" width="1.35" height="1.35" fill="#1a5060"/>
<rect x="552.06" y="62.46" width="1.35" height="1.35" fill="#1a5060"/>
<rect x="552.48" y="63.84" width="1.35" height="1.35" fill="#1a5060"/>
<rect x="552.39" y="85.02" width="1.35" height="1.35" fill="#1a5060"/>
<rect x="552.62" y="77.76" width="1.35" height="1.35" fill="#1a5060"/>
<rect x="553.98" y="99.35" width="1.35" height="1.35" fill="#1a5060"/>
<rect x="554.23" y="97.62" width="1.35" height="1.35" fill="#1a5060"/>
<rect x="552.04" y="99.04" width="1.35" height="1.35" fill="#1a5060"/>
<rect x="553.47" y="77" width="1.35" height="1.35" fill="#1a5060"/>
<rect x="554.12" y="79.7" width="1.35" height="1.35" fill="#1a5060"/>
<rect x="552.55" y="75.96" width="1.35" height="1.35" fill="#1a5060"/>
<rect x="553.37" y="86.84" width="1.35" height="1.35" fill="#1a5060"/>
<rect x="552.9" y="75.35" width="1.35" height="1.35" fill="#1a5060"/>
<rect x="553.3" y="74.92" width="1.35" height="1.35" fill="#1a5060"/>
<rect x="553.62" y="89.58" width="1.35" height="1.35" fill="#1a5060"/>
<rect x="552.72" y="87.25" width="1.35" height="1.35" fill="#1a5060"/>
<rect x="553.91" y="86.74" width="1.35" height="1.35" fill="#1a5060"/>
<rect x="552.37" y="89.99" width="1.35" height="1.35" fill="#1a5060"/>
<rect x="551.83" y="79.39" width="1.35" height="1.35" fill="#1a5060"/>
<rect x="554.2" y="83.05" width="1.35" height="1.35" fill="#1a5060"/>
<rect x="553.21" y="92.89" width="1.35" height="1.35" fill="#1a5060"/>
<rect x="552.57" y="89.73" width="1.35" height="1.35" fill="#1a5060"/>
<rect x="551.81" y="72.24" width="1.35" height="1.35" fill="#1a5060"/>
<rect x="552.19" y="63.23" width="1.35" height="1.35" fill="#1a5060"/>
<rect x="554.08" y="72.9" width="1.35" height="1.35" fill="#1a5060"/>
<rect x="552.88" y="86.72" width="1.35" height="1.35" fill="#1a5060"/>
<rect x="552.15" y="81.19" width="1.35" height="1.35" fill="#1a5060"/>
<rect x="552.53" y="80.03" width="1.35" height="1.35" fill="#1a5060"/>
<rect x="552.29" y="80.73" width="1.35" height="1.35" fill="#1a5060"/>
<rect x="553.37" y="93.83" width="1.35" height="1.35" fill="#1a5060"/>
<rect x="551.83" y="88.84" width="1.35" height="1.35" fill="#1a5060"/>
<rect x="553.67" y="93.76" width="1.35" height="1.35" fill="#1a5060"/>
<rect x="552.54" y="90.8" width="1.35" height="1.35" fill="#1a5060"/>
<rect x="553.68" y="82.54" width="1.35" height="1.35" fill="#1a5060"/>
<rect x="553.87" y="79.27" width="1.35" height="1.35" fill="#1a5060"/>
<rect x="553.3" y="86.58" width="1.35" height="1.35" fill="#1a5060"/>
<rect x="552.3" y="62.62" width="1.35" height="1.35" fill="#1a5060"/>
<rect x="552.05" y="87.49" width="1.35" height="1.35" fill="#1a5060"/>
<rect x="553.3" y="76.01" width="1.35" height="1.35" fill="#1a5060"/>
<rect x="552.34" y="69.98" width="1.35" height="1.35" fill="#1a5060"/>
<rect x="554.15" y="81.77" width="1.35" height="1.35" fill="#1a5060"/>
<rect x="553.78" y="97.83" width="1.35" height="1.35" fill="#1a5060"/>
<rect x="554.04" y="71.95" width="1.35" height="1.35" fill="#1a5060"/>
<rect x="553.55" y="82.86" width="1.35" height="1.35" fill="#1a5060"/>
<rect x="554.35" y="83.12" width="1.35" height="1.35" fill="#1a5060"/>
<rect x="552.77" y="64.89" width="1.35" height="1.35" fill="#1a5060"/>
<rect x="554.49" y="91.3" width="1.35" height="1.35" fill="#1a5060"/>
<rect x="554.39" y="84.69" width="1.35" height="1.35" fill="#1a5060"/>
<rect x="554.5" y="88.47" width="1.35" height="1.35" fill="#1a5060"/>
<rect x="554.17" y="71.83" width="1.35" height="1.35" fill="#1a5060"/>
<rect x="554.11" y="75.73" width="1.35" height="1.35" fill="#1a5060"/>
<rect x="552.61" y="73.82" width="1.35" height="1.35" fill="#1a5060"/>
<rect x="553.96" y="81.3" width="1.35" height="1.35" fill="#1a5060"/>
<rect x="551.89" y="96.44" width="1.35" height="1.35" fill="#1a5060"/>
<rect x="553.38" y="74.2" width="1.35" height="1.35" fill="#1a5060"/>
<rect x="551.2" y="72.3" width="5.3" height="23.1" fill="none" stroke="#262626" stroke-width="0.7"/>
<path d="M551.2 88H556.5" stroke="#262626" stroke-width="0.7"/>
<rect x="558.1" y="75.6" width="5" height="9.1" fill="#eeeeee" opacity="0.5"/>
<rect x="560.09" y="82.34" width="1.15" height="1.15" fill="#aaa455"/>
<rect x="560.84" y="84.67" width="1.15" height="1.15" fill="#aaa455"/>
<rect x="559.69" y="74.25" width="1.15" height="1.15" fill="#aaa455"/>
<rect x="559.42" y="78.68" width="1.15" height="1.15" fill="#aaa455"/>
<rect x="561" y="75.97" width="1.15" height="1.15" fill="#aaa455"/>
<rect x="561.32" y="74.84" width="1.15" height="1.15" fill="#aaa455"/>
<rect x="560.34" y="76.92" width="1.15" height="1.15" fill="#aaa455"/>
<rect x="558.66" y="77.78" width="1.15" height="1.15" fill="#aaa455"/>
<rect x="560.11" y="74.37" width="1.15" height="1.15" fill="#aaa455"/>
<rect x="559.2" y="84.76" width="1.15" height="1.15" fill="#aaa455"/>
<rect x="558.97" y="79.69" width="1.15" height="1.15" fill="#aaa455"/>
<rect x="559.12" y="76.55" width="1.15" height="1.15" fill="#aaa455"/>
<rect x="559.66" y="85.86" width="1.15" height="1.15" fill="#aaa455"/>
<rect x="561.19" y="77.83" width="1.15" height="1.15" fill="#aaa455"/>
<rect x="560.7" y="73.98" width="1.15" height="1.15" fill="#aaa455"/>
<rect x="558.68" y="74.21" width="1.15" height="1.15" fill="#aaa455"/>
<rect x="559.63" y="84.35" width="1.15" height="1.15" fill="#aaa455"/>
<rect x="558.84" y="82.84" width="1.15" height="1.15" fill="#aaa455"/>
<rect x="561.26" y="84.33" width="1.15" height="1.15" fill="#aaa455"/>
<rect x="560.05" y="81.1" width="1.15" height="1.15" fill="#aaa455"/>
<rect x="560.48" y="78.09" width="1.15" height="1.15" fill="#aaa455"/>
<rect x="560.07" y="77.81" width="1.15" height="1.15" fill="#aaa455"/>
<rect x="561.35" y="72.12" width="1.15" height="1.15" fill="#aaa455"/>
<rect x="559.43" y="79.59" width="1.15" height="1.15" fill="#aaa455"/>
<rect x="560.72" y="81.14" width="1.15" height="1.15" fill="#aaa455"/>
<rect x="560.92" y="85.13" width="1.15" height="1.15" fill="#aaa455"/>
<rect x="559.35" y="76.52" width="1.15" height="1.15" fill="#aaa455"/>
<rect x="561.3" y="74.45" width="1.15" height="1.15" fill="#aaa455"/>
<rect x="559.14" y="86.09" width="1.15" height="1.15" fill="#aaa455"/>
<rect x="560.43" y="84.06" width="1.15" height="1.15" fill="#aaa455"/>
<rect x="559.84" y="73.85" width="1.15" height="1.15" fill="#aaa455"/>
<rect x="561.35" y="85.98" width="1.15" height="1.15" fill="#aaa455"/>
<rect x="559.1" y="89.24" width="1.15" height="1.15" fill="#aaa455"/>
<rect x="558.65" y="77.43" width="1.15" height="1.15" fill="#aaa455"/>
<rect x="559.19" y="81.16" width="1.15" height="1.15" fill="#aaa455"/>
<rect x="559.39" y="78.59" width="1.15" height="1.15" fill="#aaa455"/>
<rect x="561.1" y="74.87" width="1.15" height="1.15" fill="#aaa455"/>
<rect x="559.03" y="82.28" width="1.15" height="1.15" fill="#aaa455"/>
<rect x="559.18" y="87.6" width="1.15" height="1.15" fill="#aaa455"/>
<rect x="559.95" y="82.16" width="1.15" height="1.15" fill="#aaa455"/>
<rect x="559.5" y="83.16" width="1.15" height="1.15" fill="#aaa455"/>
<rect x="559.92" y="83.73" width="1.15" height="1.15" fill="#aaa455"/>
<rect x="559.96" y="81.91" width="1.15" height="1.15" fill="#aaa455"/>
<rect x="560.8" y="78.94" width="1.15" height="1.15" fill="#aaa455"/>
<rect x="559.96" y="72.84" width="1.15" height="1.15" fill="#aaa455"/>
<rect x="559.04" y="80.58" width="1.15" height="1.15" fill="#aaa455"/>
<rect x="560.12" y="82.74" width="1.15" height="1.15" fill="#aaa455"/>
<rect x="558.66" y="81.95" width="1.15" height="1.15" fill="#aaa455"/>
<rect x="558.85" y="82.8" width="1.15" height="1.15" fill="#aaa455"/>
<rect x="560.77" y="84.15" width="1.15" height="1.15" fill="#aaa455"/>
<rect x="561.07" y="73.69" width="1.15" height="1.15" fill="#aaa455"/>
<rect x="560.08" y="79.39" width="1.15" height="1.15" fill="#aaa455"/>
<rect x="560.79" y="78.24" width="1.15" height="1.15" fill="#aaa455"/>
<rect x="560.57" y="86.44" width="1.15" height="1.15" fill="#aaa455"/>
<rect x="558.1" y="75.6" width="5" height="9.1" fill="none" stroke="#262626" stroke-width="0.7"/>
<path d="M558.1 80H563.1" stroke="#262626" stroke-width="0.7"/>
<rect x="573" y="78.1" width="5.7" height="16.5" fill="#eeeeee" opacity="0.5"/>
<rect x="576.34" y="85.88" width="1.15" height="1.15" fill="#8c6c9c"/>
<rect x="576.42" y="90.43" width="1.15" height="1.15" fill="#8c6c9c"/>
<rect x="576.1" y="72.14" width="1.15" height="1.15" fill="#8c6c9c"/>
<rect x="574.07" y="92.68" width="1.15" height="1.15" fill="#8c6c9c"/>
<rect x="576.16" y="85.36" width="1.15" height="1.15" fill="#8c6c9c"/>
<rect x="574.46" y="76.96" width="1.15" height="1.15" fill="#8c6c9c"/>
<rect x="575.48" y="97.97" width="1.15" height="1.15" fill="#8c6c9c"/>
<rect x="576.3" y="91.95" width="1.15" height="1.15" fill="#8c6c9c"/>
<rect x="574.69" y="85.98" width="1.15" height="1.15" fill="#8c6c9c"/>
<rect x="574.32" y="91.14" width="1.15" height="1.15" fill="#8c6c9c"/>
<rect x="574.14" y="94.74" width="1.15" height="1.15" fill="#8c6c9c"/>
<rect x="574.58" y="95.18" width="1.15" height="1.15" fill="#8c6c9c"/>
<rect x="575.86" y="80.67" width="1.15" height="1.15" fill="#8c6c9c"/>
<rect x="575.26" y="92.25" width="1.15" height="1.15" fill="#8c6c9c"/>
<rect x="575.88" y="84.46" width="1.15" height="1.15" fill="#8c6c9c"/>
<rect x="575.82" y="81.13" width="1.15" height="1.15" fill="#8c6c9c"/>
<rect x="575.91" y="96.36" width="1.15" height="1.15" fill="#8c6c9c"/>
<rect x="575.55" y="76.54" width="1.15" height="1.15" fill="#8c6c9c"/>
<rect x="575.56" y="86.35" width="1.15" height="1.15" fill="#8c6c9c"/>
<rect x="575.4" y="77.59" width="1.15" height="1.15" fill="#8c6c9c"/>
<rect x="574.82" y="67.15" width="1.15" height="1.15" fill="#8c6c9c"/>
<rect x="576.48" y="76.35" width="1.15" height="1.15" fill="#8c6c9c"/>
<rect x="574.89" y="77.84" width="1.15" height="1.15" fill="#8c6c9c"/>
<rect x="574.49" y="83.64" width="1.15" height="1.15" fill="#8c6c9c"/>
<rect x="576.5" y="94.43" width="1.15" height="1.15" fill="#8c6c9c"/>
<rect x="575.51" y="81.36" width="1.15" height="1.15" fill="#8c6c9c"/>
<rect x="576.1" y="77.39" width="1.15" height="1.15" fill="#8c6c9c"/>
<rect x="576.17" y="79.39" width="1.15" height="1.15" fill="#8c6c9c"/>
<rect x="574.3" y="80.95" width="1.15" height="1.15" fill="#8c6c9c"/>
<rect x="574.38" y="89.68" width="1.15" height="1.15" fill="#8c6c9c"/>
<rect x="574.23" y="94.69" width="1.15" height="1.15" fill="#8c6c9c"/>
<rect x="575.52" y="90.03" width="1.15" height="1.15" fill="#8c6c9c"/>
<rect x="574.66" y="84.62" width="1.15" height="1.15" fill="#8c6c9c"/>
<rect x="575.21" y="79.19" width="1.15" height="1.15" fill="#8c6c9c"/>
<rect x="576.37" y="83.64" width="1.15" height="1.15" fill="#8c6c9c"/>
<rect x="575.69" y="89.33" width="1.15" height="1.15" fill="#8c6c9c"/>
<rect x="576.32" y="92.15" width="1.15" height="1.15" fill="#8c6c9c"/>
<rect x="576.24" y="83.12" width="1.15" height="1.15" fill="#8c6c9c"/>
<rect x="574.33" y="73" width="1.15" height="1.15" fill="#8c6c9c"/>
<rect x="574.53" y="76.47" width="1.15" height="1.15" fill="#8c6c9c"/>
<rect x="574.99" y="76.28" width="1.15" height="1.15" fill="#8c6c9c"/>
<rect x="576.26" y="85.95" width="1.15" height="1.15" fill="#8c6c9c"/>
<rect x="575.91" y="63.75" width="1.15" height="1.15" fill="#8c6c9c"/>
<rect x="575.68" y="92.62" width="1.15" height="1.15" fill="#8c6c9c"/>
<rect x="576.62" y="85.04" width="1.15" height="1.15" fill="#8c6c9c"/>
<rect x="574.45" y="94.52" width="1.15" height="1.15" fill="#8c6c9c"/>
<rect x="573.98" y="80.52" width="1.15" height="1.15" fill="#8c6c9c"/>
<rect x="575.48" y="69.22" width="1.15" height="1.15" fill="#8c6c9c"/>
<rect x="576.08" y="83.45" width="1.15" height="1.15" fill="#8c6c9c"/>
<rect x="575.96" y="81.58" width="1.15" height="1.15" fill="#8c6c9c"/>
<rect x="575.82" y="76.94" width="1.15" height="1.15" fill="#8c6c9c"/>
<rect x="575.83" y="93.13" width="1.15" height="1.15" fill="#8c6c9c"/>
<rect x="575.46" y="99.76" width="1.15" height="1.15" fill="#8c6c9c"/>
<rect x="575.07" y="87.98" width="1.15" height="1.15" fill="#8c6c9c"/>
<rect x="574.08" y="75.97" width="1.15" height="1.15" fill="#8c6c9c"/>
<rect x="575.93" y="79.02" width="1.15" height="1.15" fill="#8c6c9c"/>
<rect x="574.76" y="87.02" width="1.15" height="1.15" fill="#8c6c9c"/>
<rect x="575.26" y="80.04" width="1.15" height="1.15" fill="#8c6c9c"/>
<rect x="575.11" y="96.54" width="1.15" height="1.15" fill="#8c6c9c"/>
<rect x="575.13" y="80.36" width="1.15" height="1.15" fill="#8c6c9c"/>
<rect x="575.96" y="84.81" width="1.15" height="1.15" fill="#8c6c9c"/>
<rect x="573" y="78.1" width="5.7" height="16.5" fill="none" stroke="#262626" stroke-width="0.7"/>
<path d="M573 86.3H578.7" stroke="#262626" stroke-width="0.7"/>
<rect x="579.2" y="65.7" width="5.3" height="14" fill="#eeeeee" opacity="0.5"/>
<rect x="581.65" y="74.91" width="1.35" height="1.35" fill="#1a5060"/>
<rect x="579.97" y="78.51" width="1.35" height="1.35" fill="#1a5060"/>
<rect x="580.11" y="78.66" width="1.35" height="1.35" fill="#1a5060"/>
<rect x="582.42" y="71.13" width="1.35" height="1.35" fill="#1a5060"/>
<rect x="581.57" y="64.52" width="1.35" height="1.35" fill="#1a5060"/>
<rect x="580.66" y="77.46" width="1.35" height="1.35" fill="#1a5060"/>
<rect x="579.9" y="64.96" width="1.35" height="1.35" fill="#1a5060"/>
<rect x="581.43" y="76.73" width="1.35" height="1.35" fill="#1a5060"/>
<rect x="582.54" y="80.56" width="1.35" height="1.35" fill="#1a5060"/>
<rect x="582.23" y="70.22" width="1.35" height="1.35" fill="#1a5060"/>
<rect x="580.29" y="77.11" width="1.35" height="1.35" fill="#1a5060"/>
<rect x="579.93" y="74.33" width="1.35" height="1.35" fill="#1a5060"/>
<rect x="580.43" y="68.46" width="1.35" height="1.35" fill="#1a5060"/>
<rect x="580.89" y="80.11" width="1.35" height="1.35" fill="#1a5060"/>
<rect x="579.93" y="65.59" width="1.35" height="1.35" fill="#1a5060"/>
<rect x="580" y="71.27" width="1.35" height="1.35" fill="#1a5060"/>
<rect x="579.83" y="69.9" width="1.35" height="1.35" fill="#1a5060"/>
<rect x="580.28" y="66.54" width="1.35" height="1.35" fill="#1a5060"/>
<rect x="580.77" y="73.73" width="1.35" height="1.35" fill="#1a5060"/>
<rect x="581.53" y="76.91" width="1.35" height="1.35" fill="#1a5060"/>
<rect x="580.73" y="86.27" width="1.35" height="1.35" fill="#1a5060"/>
<rect x="580.3" y="55.69" width="1.35" height="1.35" fill="#1a5060"/>
<rect x="580.77" y="70.57" width="1.35" height="1.35" fill="#1a5060"/>
<rect x="580.75" y="75.09" width="1.35" height="1.35" fill="#1a5060"/>
<rect x="582.37" y="75.89" width="1.35" height="1.35" fill="#1a5060"/>
<rect x="580.85" y="71.1" width="1.35" height="1.35" fill="#1a5060"/>
<rect x="582.23" y="91.7" width="1.35" height="1.35" fill="#1a5060"/>
<rect x="580.96" y="68.91" width="1.35" height="1.35" fill="#1a5060"/>
<rect x="582.42" y="72.04" width="1.35" height="1.35" fill="#1a5060"/>
<rect x="580.68" y="72.81" width="1.35" height="1.35" fill="#1a5060"/>
<rect x="580.28" y="73.52" width="1.35" height="1.35" fill="#1a5060"/>
<rect x="582.1" y="77.24" width="1.35" height="1.35" fill="#1a5060"/>
<rect x="580.06" y="67.29" width="1.35" height="1.35" fill="#1a5060"/>
<rect x="582.39" y="74.12" width="1.35" height="1.35" fill="#1a5060"/>
<rect x="581.44" y="74.02" width="1.35" height="1.35" fill="#1a5060"/>
<rect x="580.24" y="95.22" width="1.35" height="1.35" fill="#1a5060"/>
<rect x="579.81" y="66.01" width="1.35" height="1.35" fill="#1a5060"/>
<rect x="581.18" y="97.09" width="1.35" height="1.35" fill="#1a5060"/>
<rect x="581.61" y="83.94" width="1.35" height="1.35" fill="#1a5060"/>
<rect x="580.64" y="80.93" width="1.35" height="1.35" fill="#1a5060"/>
<rect x="581.98" y="64.65" width="1.35" height="1.35" fill="#1a5060"/>
<rect x="582.01" y="92.27" width="1.35" height="1.35" fill="#1a5060"/>
<rect x="580.56" y="70.24" width="1.35" height="1.35" fill="#1a5060"/>
<rect x="580.63" y="55.08" width="1.35" height="1.35" fill="#1a5060"/>
<rect x="579.78" y="75.17" width="1.35" height="1.35" fill="#1a5060"/>
<rect x="580.39" y="66.74" width="1.35" height="1.35" fill="#1a5060"/>
<rect x="582.09" y="64.25" width="1.35" height="1.35" fill="#1a5060"/>
<rect x="580.79" y="75.44" width="1.35" height="1.35" fill="#1a5060"/>
<rect x="582.2" y="59.54" width="1.35" height="1.35" fill="#1a5060"/>
<rect x="581.35" y="72.96" width="1.35" height="1.35" fill="#1a5060"/>
<rect x="581.79" y="73.46" width="1.35" height="1.35" fill="#1a5060"/>
<rect x="581.18" y="73.32" width="1.35" height="1.35" fill="#1a5060"/>
<rect x="581.76" y="65.62" width="1.35" height="1.35" fill="#1a5060"/>
<rect x="579.92" y="64.54" width="1.35" height="1.35" fill="#1a5060"/>
<rect x="581.69" y="62.08" width="1.35" height="1.35" fill="#1a5060"/>
<rect x="580.38" y="74.6" width="1.35" height="1.35" fill="#1a5060"/>
<rect x="581.67" y="76.99" width="1.35" height="1.35" fill="#1a5060"/>
<rect x="579.78" y="76.62" width="1.35" height="1.35" fill="#1a5060"/>
<rect x="581.04" y="67.97" width="1.35" height="1.35" fill="#1a5060"/>
<rect x="580.35" y="56.15" width="1.35" height="1.35" fill="#1a5060"/>
<rect x="580.01" y="69.54" width="1.35" height="1.35" fill="#1a5060"/>
<rect x="579.82" y="64.17" width="1.35" height="1.35" fill="#1a5060"/>
<rect x="581.78" y="68.8" width="1.35" height="1.35" fill="#1a5060"/>
<rect x="582.25" y="77.01" width="1.35" height="1.35" fill="#1a5060"/>
<rect x="582.32" y="74.55" width="1.35" height="1.35" fill="#1a5060"/>
<rect x="581.82" y="60.3" width="1.35" height="1.35" fill="#1a5060"/>
<rect x="581.62" y="62" width="1.35" height="1.35" fill="#1a5060"/>
<rect x="582.07" y="67.29" width="1.35" height="1.35" fill="#1a5060"/>
<rect x="581.1" y="58.26" width="1.35" height="1.35" fill="#1a5060"/>
<rect x="581.22" y="63.84" width="1.35" height="1.35" fill="#1a5060"/>
<rect x="581.16" y="69.54" width="1.35" height="1.35" fill="#1a5060"/>
<rect x="582.44" y="93.18" width="1.35" height="1.35" fill="#1a5060"/>
<rect x="580.7" y="81.7" width="1.35" height="1.35" fill="#1a5060"/>
<rect x="582.03" y="67.03" width="1.35" height="1.35" fill="#1a5060"/>
<rect x="581.16" y="71.95" width="1.35" height="1.35" fill="#1a5060"/>
<rect x="580.2" y="74.19" width="1.35" height="1.35" fill="#1a5060"/>
<rect x="579.83" y="66.46" width="1.35" height="1.35" fill="#1a5060"/>
<rect x="582.02" y="59.28" width="1.35" height="1.35" fill="#1a5060"/>
<rect x="581.48" y="73.72" width="1.35" height="1.35" fill="#1a5060"/>
<rect x="579.2" y="65.7" width="5.3" height="14" fill="none" stroke="#262626" stroke-width="0.7"/>
<path d="M579.2 70.7H584.5" stroke="#262626" stroke-width="0.7"/>
<rect x="586.1" y="77.3" width="5" height="4.9" fill="#eeeeee" opacity="0.5"/>
<rect x="589.1" y="77.22" width="1.15" height="1.15" fill="#aaa455"/>
<rect x="587.91" y="84.24" width="1.15" height="1.15" fill="#aaa455"/>
<rect x="589.31" y="82.18" width="1.15" height="1.15" fill="#aaa455"/>
<rect x="587.04" y="80.87" width="1.15" height="1.15" fill="#aaa455"/>
<rect x="586.8" y="82.9" width="1.15" height="1.15" fill="#aaa455"/>
<rect x="587.85" y="82.11" width="1.15" height="1.15" fill="#aaa455"/>
<rect x="588.53" y="83.59" width="1.15" height="1.15" fill="#aaa455"/>
<rect x="588.41" y="83.92" width="1.15" height="1.15" fill="#aaa455"/>
<rect x="588.74" y="79.34" width="1.15" height="1.15" fill="#aaa455"/>
<rect x="587.93" y="78.04" width="1.15" height="1.15" fill="#aaa455"/>
<rect x="588.66" y="81.11" width="1.15" height="1.15" fill="#aaa455"/>
<rect x="588.6" y="75.89" width="1.15" height="1.15" fill="#aaa455"/>
<rect x="587.05" y="81.06" width="1.15" height="1.15" fill="#aaa455"/>
<rect x="588.87" y="83.32" width="1.15" height="1.15" fill="#aaa455"/>
<rect x="588.12" y="77.72" width="1.15" height="1.15" fill="#aaa455"/>
<rect x="587.11" y="83.96" width="1.15" height="1.15" fill="#aaa455"/>
<rect x="587.29" y="82.38" width="1.15" height="1.15" fill="#aaa455"/>
<rect x="587.19" y="81.1" width="1.15" height="1.15" fill="#aaa455"/>
<rect x="589.08" y="81.56" width="1.15" height="1.15" fill="#aaa455"/>
<rect x="587.56" y="68.89" width="1.15" height="1.15" fill="#aaa455"/>
<rect x="589.1" y="75.59" width="1.15" height="1.15" fill="#aaa455"/>
<rect x="589.19" y="88.89" width="1.15" height="1.15" fill="#aaa455"/>
<rect x="588.45" y="73.37" width="1.15" height="1.15" fill="#aaa455"/>
<rect x="586.83" y="66.69" width="1.15" height="1.15" fill="#aaa455"/>
<rect x="589.17" y="68.61" width="1.15" height="1.15" fill="#aaa455"/>
<rect x="587.68" y="77.47" width="1.15" height="1.15" fill="#aaa455"/>
<rect x="586.97" y="81.46" width="1.15" height="1.15" fill="#aaa455"/>
<rect x="588.94" y="74.5" width="1.15" height="1.15" fill="#aaa455"/>
<rect x="588.16" y="82.97" width="1.15" height="1.15" fill="#aaa455"/>
<rect x="589.37" y="84.12" width="1.15" height="1.15" fill="#aaa455"/>
<rect x="588.31" y="79.95" width="1.15" height="1.15" fill="#aaa455"/>
<rect x="589.23" y="77.72" width="1.15" height="1.15" fill="#aaa455"/>
<rect x="588.23" y="84.17" width="1.15" height="1.15" fill="#aaa455"/>
<rect x="587.4" y="87.79" width="1.15" height="1.15" fill="#aaa455"/>
<rect x="588.23" y="80.47" width="1.15" height="1.15" fill="#aaa455"/>
<rect x="587.39" y="78.45" width="1.15" height="1.15" fill="#aaa455"/>
<rect x="588.09" y="79.38" width="1.15" height="1.15" fill="#aaa455"/>
<rect x="587.85" y="82.82" width="1.15" height="1.15" fill="#aaa455"/>
<rect x="588.04" y="83.93" width="1.15" height="1.15" fill="#aaa455"/>
<rect x="588.55" y="77.39" width="1.15" height="1.15" fill="#aaa455"/>
<rect x="588.87" y="88.93" width="1.15" height="1.15" fill="#aaa455"/>
<rect x="587.89" y="79.98" width="1.15" height="1.15" fill="#aaa455"/>
<rect x="586.82" y="82.02" width="1.15" height="1.15" fill="#aaa455"/>
<rect x="589.02" y="80.25" width="1.15" height="1.15" fill="#aaa455"/>
<rect x="588.3" y="80.92" width="1.15" height="1.15" fill="#aaa455"/>
<rect x="587.73" y="83.15" width="1.15" height="1.15" fill="#aaa455"/>
<rect x="586.87" y="83.67" width="1.15" height="1.15" fill="#aaa455"/>
<rect x="587.86" y="82.46" width="1.15" height="1.15" fill="#aaa455"/>
<rect x="587.09" y="79.7" width="1.15" height="1.15" fill="#aaa455"/>
<rect x="588.38" y="79.79" width="1.15" height="1.15" fill="#aaa455"/>
<rect x="588.77" y="81.07" width="1.15" height="1.15" fill="#aaa455"/>
<rect x="587.55" y="75.53" width="1.15" height="1.15" fill="#aaa455"/>
<rect x="587.48" y="80.69" width="1.15" height="1.15" fill="#aaa455"/>
<rect x="586.75" y="78.3" width="1.15" height="1.15" fill="#aaa455"/>
<rect x="586.1" y="77.3" width="5" height="4.9" fill="none" stroke="#262626" stroke-width="0.7"/>
<path d="M586.1 79.7H591.1" stroke="#262626" stroke-width="0.7"/>
<rect x="600.1" y="70.7" width="5.5" height="14.8" fill="#eeeeee" opacity="0.5"/>
<rect x="602.13" y="86.24" width="1.15" height="1.15" fill="#8c6c9c"/>
<rect x="602.17" y="78.85" width="1.15" height="1.15" fill="#8c6c9c"/>
<rect x="602.64" y="85.73" width="1.15" height="1.15" fill="#8c6c9c"/>
<rect x="601.65" y="71.58" width="1.15" height="1.15" fill="#8c6c9c"/>
<rect x="601.05" y="78.74" width="1.15" height="1.15" fill="#8c6c9c"/>
<rect x="601.92" y="77.39" width="1.15" height="1.15" fill="#8c6c9c"/>
<rect x="603.45" y="76.6" width="1.15" height="1.15" fill="#8c6c9c"/>
<rect x="603.67" y="81.15" width="1.15" height="1.15" fill="#8c6c9c"/>
<rect x="602.82" y="86.59" width="1.15" height="1.15" fill="#8c6c9c"/>
<rect x="603.67" y="82.69" width="1.15" height="1.15" fill="#8c6c9c"/>
<rect x="602.71" y="75.03" width="1.15" height="1.15" fill="#8c6c9c"/>
<rect x="603.51" y="76.69" width="1.15" height="1.15" fill="#8c6c9c"/>
<rect x="601.72" y="76.38" width="1.15" height="1.15" fill="#8c6c9c"/>
<rect x="601.77" y="84.76" width="1.15" height="1.15" fill="#8c6c9c"/>
<rect x="601.54" y="69.28" width="1.15" height="1.15" fill="#8c6c9c"/>
<rect x="603.34" y="80.73" width="1.15" height="1.15" fill="#8c6c9c"/>
<rect x="601.6" y="78.43" width="1.15" height="1.15" fill="#8c6c9c"/>
<rect x="603.09" y="92.9" width="1.15" height="1.15" fill="#8c6c9c"/>
<rect x="601.98" y="80.56" width="1.15" height="1.15" fill="#8c6c9c"/>
<rect x="602.85" y="75.61" width="1.15" height="1.15" fill="#8c6c9c"/>
<rect x="602.93" y="69.58" width="1.15" height="1.15" fill="#8c6c9c"/>
<rect x="601.4" y="70.36" width="1.15" height="1.15" fill="#8c6c9c"/>
<rect x="601.96" y="76.86" width="1.15" height="1.15" fill="#8c6c9c"/>
<rect x="603.3" y="58.92" width="1.15" height="1.15" fill="#8c6c9c"/>
<rect x="602.18" y="74.37" width="1.15" height="1.15" fill="#8c6c9c"/>
<rect x="600.97" y="79.43" width="1.15" height="1.15" fill="#8c6c9c"/>
<rect x="601.33" y="69.49" width="1.15" height="1.15" fill="#8c6c9c"/>
<rect x="602.92" y="78.33" width="1.15" height="1.15" fill="#8c6c9c"/>
<rect x="602.03" y="69.27" width="1.15" height="1.15" fill="#8c6c9c"/>
<rect x="603.15" y="82.16" width="1.15" height="1.15" fill="#8c6c9c"/>
<rect x="603.57" y="98.93" width="1.15" height="1.15" fill="#8c6c9c"/>
<rect x="601.24" y="79.36" width="1.15" height="1.15" fill="#8c6c9c"/>
<rect x="602.65" y="81.86" width="1.15" height="1.15" fill="#8c6c9c"/>
<rect x="602.06" y="72.71" width="1.15" height="1.15" fill="#8c6c9c"/>
<rect x="601.39" y="90.86" width="1.15" height="1.15" fill="#8c6c9c"/>
<rect x="601.04" y="83.26" width="1.15" height="1.15" fill="#8c6c9c"/>
<rect x="602.69" y="94.98" width="1.15" height="1.15" fill="#8c6c9c"/>
<rect x="601.31" y="79.08" width="1.15" height="1.15" fill="#8c6c9c"/>
<rect x="601.02" y="67.32" width="1.15" height="1.15" fill="#8c6c9c"/>
<rect x="603.29" y="73.16" width="1.15" height="1.15" fill="#8c6c9c"/>
<rect x="601.92" y="70.95" width="1.15" height="1.15" fill="#8c6c9c"/>
<rect x="603.57" y="78.85" width="1.15" height="1.15" fill="#8c6c9c"/>
<rect x="601.24" y="85.15" width="1.15" height="1.15" fill="#8c6c9c"/>
<rect x="603.21" y="85.44" width="1.15" height="1.15" fill="#8c6c9c"/>
<rect x="603.67" y="70.35" width="1.15" height="1.15" fill="#8c6c9c"/>
<rect x="601.15" y="81.19" width="1.15" height="1.15" fill="#8c6c9c"/>
<rect x="603.09" y="76.49" width="1.15" height="1.15" fill="#8c6c9c"/>
<rect x="601.59" y="73.18" width="1.15" height="1.15" fill="#8c6c9c"/>
<rect x="601.57" y="77.05" width="1.15" height="1.15" fill="#8c6c9c"/>
<rect x="601.12" y="69.74" width="1.15" height="1.15" fill="#8c6c9c"/>
<rect x="603.12" y="97.58" width="1.15" height="1.15" fill="#8c6c9c"/>
<rect x="601.65" y="77.1" width="1.15" height="1.15" fill="#8c6c9c"/>
<rect x="603.2" y="76.26" width="1.15" height="1.15" fill="#8c6c9c"/>
<rect x="601.65" y="73.88" width="1.15" height="1.15" fill="#8c6c9c"/>
<rect x="600.1" y="70.7" width="5.5" height="14.8" fill="none" stroke="#262626" stroke-width="0.7"/>
<path d="M600.1 78.9H605.6" stroke="#262626" stroke-width="0.7"/>
<rect x="606.2" y="70.7" width="5.5" height="14.8" fill="#eeeeee" opacity="0.5"/>
<rect x="609.59" y="96.03" width="1.35" height="1.35" fill="#1a5060"/>
<rect x="609.2" y="90.35" width="1.35" height="1.35" fill="#1a5060"/>
<rect x="607.48" y="81.74" width="1.35" height="1.35" fill="#1a5060"/>
<rect x="609.02" y="65.47" width="1.35" height="1.35" fill="#1a5060"/>
<rect x="607.91" y="94.08" width="1.35" height="1.35" fill="#1a5060"/>
<rect x="609.33" y="69.01" width="1.35" height="1.35" fill="#1a5060"/>
<rect x="607.83" y="71.36" width="1.35" height="1.35" fill="#1a5060"/>
<rect x="607.73" y="77.63" width="1.35" height="1.35" fill="#1a5060"/>
<rect x="608.99" y="78.53" width="1.35" height="1.35" fill="#1a5060"/>
<rect x="607.95" y="77.07" width="1.35" height="1.35" fill="#1a5060"/>
<rect x="608.81" y="88.85" width="1.35" height="1.35" fill="#1a5060"/>
<rect x="608.09" y="83.03" width="1.35" height="1.35" fill="#1a5060"/>
<rect x="607.1" y="77.52" width="1.35" height="1.35" fill="#1a5060"/>
<rect x="607.35" y="82.37" width="1.35" height="1.35" fill="#1a5060"/>
<rect x="606.91" y="73.77" width="1.35" height="1.35" fill="#1a5060"/>
<rect x="607.57" y="76.04" width="1.35" height="1.35" fill="#1a5060"/>
<rect x="609.07" y="74.89" width="1.35" height="1.35" fill="#1a5060"/>
<rect x="609.4" y="79.48" width="1.35" height="1.35" fill="#1a5060"/>
<rect x="608.77" y="85.5" width="1.35" height="1.35" fill="#1a5060"/>
<rect x="607.32" y="95.93" width="1.35" height="1.35" fill="#1a5060"/>
<rect x="608.36" y="78.82" width="1.35" height="1.35" fill="#1a5060"/>
<rect x="607.63" y="65.51" width="1.35" height="1.35" fill="#1a5060"/>
<rect x="607.78" y="90.31" width="1.35" height="1.35" fill="#1a5060"/>
<rect x="608.45" y="78.06" width="1.35" height="1.35" fill="#1a5060"/>
<rect x="608.4" y="80.53" width="1.35" height="1.35" fill="#1a5060"/>
<rect x="608.63" y="84.52" width="1.35" height="1.35" fill="#1a5060"/>
<rect x="608.11" y="81.99" width="1.35" height="1.35" fill="#1a5060"/>
<rect x="609.06" y="78.87" width="1.35" height="1.35" fill="#1a5060"/>
<rect x="607.27" y="85.14" width="1.35" height="1.35" fill="#1a5060"/>
<rect x="606.97" y="92.62" width="1.35" height="1.35" fill="#1a5060"/>
<rect x="607.76" y="84.15" width="1.35" height="1.35" fill="#1a5060"/>
<rect x="607.49" y="86.4" width="1.35" height="1.35" fill="#1a5060"/>
<rect x="609.52" y="70.19" width="1.35" height="1.35" fill="#1a5060"/>
<rect x="607.53" y="70.15" width="1.35" height="1.35" fill="#1a5060"/>
<rect x="607.52" y="68.91" width="1.35" height="1.35" fill="#1a5060"/>
<rect x="609.52" y="70.68" width="1.35" height="1.35" fill="#1a5060"/>
<rect x="607.9" y="75.53" width="1.35" height="1.35" fill="#1a5060"/>
<rect x="608.74" y="80.03" width="1.35" height="1.35" fill="#1a5060"/>
<rect x="609.3" y="93.39" width="1.35" height="1.35" fill="#1a5060"/>
<rect x="607.13" y="73.03" width="1.35" height="1.35" fill="#1a5060"/>
<rect x="607.19" y="80.8" width="1.35" height="1.35" fill="#1a5060"/>
<rect x="606.96" y="94.45" width="1.35" height="1.35" fill="#1a5060"/>
<rect x="608.95" y="83.34" width="1.35" height="1.35" fill="#1a5060"/>
<rect x="607.11" y="75.77" width="1.35" height="1.35" fill="#1a5060"/>
<rect x="609.38" y="79.6" width="1.35" height="1.35" fill="#1a5060"/>
<rect x="609.5" y="81.19" width="1.35" height="1.35" fill="#1a5060"/>
<rect x="607.8" y="64.56" width="1.35" height="1.35" fill="#1a5060"/>
<rect x="608.25" y="55.69" width="1.35" height="1.35" fill="#1a5060"/>
<rect x="608.45" y="72.02" width="1.35" height="1.35" fill="#1a5060"/>
<rect x="609.19" y="73.87" width="1.35" height="1.35" fill="#1a5060"/>
<rect x="606.89" y="94.47" width="1.35" height="1.35" fill="#1a5060"/>
<rect x="608.28" y="76.04" width="1.35" height="1.35" fill="#1a5060"/>
<rect x="609.39" y="78.28" width="1.35" height="1.35" fill="#1a5060"/>
<rect x="609.31" y="58.14" width="1.35" height="1.35" fill="#1a5060"/>
<rect x="608.3" y="78.82" width="1.35" height="1.35" fill="#1a5060"/>
<rect x="608.34" y="69.93" width="1.35" height="1.35" fill="#1a5060"/>
<rect x="609.08" y="74.05" width="1.35" height="1.35" fill="#1a5060"/>
<rect x="607.4" y="77.23" width="1.35" height="1.35" fill="#1a5060"/>
<rect x="608.22" y="75.37" width="1.35" height="1.35" fill="#1a5060"/>
<rect x="607.33" y="85.72" width="1.35" height="1.35" fill="#1a5060"/>
<rect x="606.96" y="85.97" width="1.35" height="1.35" fill="#1a5060"/>
<rect x="609.29" y="90.81" width="1.35" height="1.35" fill="#1a5060"/>
<rect x="608.24" y="84.6" width="1.35" height="1.35" fill="#1a5060"/>
<rect x="607.83" y="73.76" width="1.35" height="1.35" fill="#1a5060"/>
<rect x="609.58" y="73.93" width="1.35" height="1.35" fill="#1a5060"/>
<rect x="608.76" y="94.36" width="1.35" height="1.35" fill="#1a5060"/>
<rect x="607.26" y="66.21" width="1.35" height="1.35" fill="#1a5060"/>
<rect x="609.41" y="80.58" width="1.35" height="1.35" fill="#1a5060"/>
<rect x="607.62" y="78.88" width="1.35" height="1.35" fill="#1a5060"/>
<rect x="608.88" y="85.61" width="1.35" height="1.35" fill="#1a5060"/>
<rect x="608.12" y="85.78" width="1.35" height="1.35" fill="#1a5060"/>
<rect x="608.9" y="91.36" width="1.35" height="1.35" fill="#1a5060"/>
<rect x="606.2" y="70.7" width="5.5" height="14.8" fill="none" stroke="#262626" stroke-width="0.7"/>
<path d="M606.2 79.7H611.7" stroke="#262626" stroke-width="0.7"/>
<rect x="612.8" y="78.1" width="5.5" height="7.4" fill="#eeeeee" opacity="0.5"/>
<rect x="614.65" y="80.64" width="1.15" height="1.15" fill="#aaa455"/>
<rect x="616.02" y="83.85" width="1.15" height="1.15" fill="#aaa455"/>
<rect x="614.39" y="81.68" width="1.15" height="1.15" fill="#aaa455"/>
<rect x="615.99" y="78.42" width="1.15" height="1.15" fill="#aaa455"/>
<rect x="614.05" y="85.21" width="1.15" height="1.15" fill="#aaa455"/>
<rect x="616.21" y="83.48" width="1.15" height="1.15" fill="#aaa455"/>
<rect x="613.77" y="79.6" width="1.15" height="1.15" fill="#aaa455"/>
<rect x="613.62" y="88.78" width="1.15" height="1.15" fill="#aaa455"/>
<rect x="614.57" y="84.02" width="1.15" height="1.15" fill="#aaa455"/>
<rect x="615.22" y="80.34" width="1.15" height="1.15" fill="#aaa455"/>
<rect x="613.58" y="83.27" width="1.15" height="1.15" fill="#aaa455"/>
<rect x="616.1" y="80.6" width="1.15" height="1.15" fill="#aaa455"/>
<rect x="614.85" y="91.79" width="1.15" height="1.15" fill="#aaa455"/>
<rect x="616.06" y="85.99" width="1.15" height="1.15" fill="#aaa455"/>
<rect x="614.94" y="84.08" width="1.15" height="1.15" fill="#aaa455"/>
<rect x="613.8" y="79.19" width="1.15" height="1.15" fill="#aaa455"/>
<rect x="616.23" y="82.53" width="1.15" height="1.15" fill="#aaa455"/>
<rect x="615.78" y="86.2" width="1.15" height="1.15" fill="#aaa455"/>
<rect x="614.92" y="81.22" width="1.15" height="1.15" fill="#aaa455"/>
<rect x="616.06" y="84.85" width="1.15" height="1.15" fill="#aaa455"/>
<rect x="615.83" y="86.25" width="1.15" height="1.15" fill="#aaa455"/>
<rect x="614.44" y="76.88" width="1.15" height="1.15" fill="#aaa455"/>
<rect x="614.73" y="90.96" width="1.15" height="1.15" fill="#aaa455"/>
<rect x="614.01" y="79.23" width="1.15" height="1.15" fill="#aaa455"/>
<rect x="614.1" y="79.63" width="1.15" height="1.15" fill="#aaa455"/>
<rect x="615.06" y="84.77" width="1.15" height="1.15" fill="#aaa455"/>
<rect x="614.86" y="78.71" width="1.15" height="1.15" fill="#aaa455"/>
<rect x="614.02" y="80.82" width="1.15" height="1.15" fill="#aaa455"/>
<rect x="613.84" y="88.26" width="1.15" height="1.15" fill="#aaa455"/>
<rect x="614.16" y="79.83" width="1.15" height="1.15" fill="#aaa455"/>
<rect x="613.63" y="81" width="1.15" height="1.15" fill="#aaa455"/>
<rect x="616.13" y="83.59" width="1.15" height="1.15" fill="#aaa455"/>
<rect x="614.07" y="86.55" width="1.15" height="1.15" fill="#aaa455"/>
<rect x="615.25" y="84.21" width="1.15" height="1.15" fill="#aaa455"/>
<rect x="615.05" y="77.61" width="1.15" height="1.15" fill="#aaa455"/>
<rect x="616.29" y="86.28" width="1.15" height="1.15" fill="#aaa455"/>
<rect x="613.87" y="83.15" width="1.15" height="1.15" fill="#aaa455"/>
<rect x="614.64" y="80.89" width="1.15" height="1.15" fill="#aaa455"/>
<rect x="614.87" y="86.77" width="1.15" height="1.15" fill="#aaa455"/>
<rect x="614.19" y="94.04" width="1.15" height="1.15" fill="#aaa455"/>
<rect x="615.73" y="77.53" width="1.15" height="1.15" fill="#aaa455"/>
<rect x="616.3" y="84.19" width="1.15" height="1.15" fill="#aaa455"/>
<rect x="614.97" y="82.88" width="1.15" height="1.15" fill="#aaa455"/>
<rect x="615.11" y="81.79" width="1.15" height="1.15" fill="#aaa455"/>
<rect x="615.87" y="82.18" width="1.15" height="1.15" fill="#aaa455"/>
<rect x="615.19" y="86.43" width="1.15" height="1.15" fill="#aaa455"/>
<rect x="612.8" y="78.1" width="5.5" height="7.4" fill="none" stroke="#262626" stroke-width="0.7"/>
<path d="M612.8 80.5H618.3" stroke="#262626" stroke-width="0.7"/>
<rect x="628.1" y="49.2" width="5.5" height="18.2" fill="#eeeeee" opacity="0.5"/>
<rect x="630.82" y="58.39" width="1.15" height="1.15" fill="#8c6c9c"/>
<rect x="631.18" y="62.72" width="1.15" height="1.15" fill="#8c6c9c"/>
<rect x="629.78" y="57.56" width="1.15" height="1.15" fill="#8c6c9c"/>
<rect x="630.95" y="48.47" width="1.15" height="1.15" fill="#8c6c9c"/>
<rect x="629.04" y="61.84" width="1.15" height="1.15" fill="#8c6c9c"/>
<rect x="630.9" y="57.12" width="1.15" height="1.15" fill="#8c6c9c"/>
<rect x="630.3" y="39.43" width="1.15" height="1.15" fill="#8c6c9c"/>
<rect x="630.04" y="48.28" width="1.15" height="1.15" fill="#8c6c9c"/>
<rect x="630.32" y="47.45" width="1.15" height="1.15" fill="#8c6c9c"/>
<rect x="629.23" y="62.84" width="1.15" height="1.15" fill="#8c6c9c"/>
<rect x="629.83" y="53.52" width="1.15" height="1.15" fill="#8c6c9c"/>
<rect x="630.69" y="65.67" width="1.15" height="1.15" fill="#8c6c9c"/>
<rect x="629.59" y="74.81" width="1.15" height="1.15" fill="#8c6c9c"/>
<rect x="631.07" y="58.08" width="1.15" height="1.15" fill="#8c6c9c"/>
<rect x="629.02" y="59.6" width="1.15" height="1.15" fill="#8c6c9c"/>
<rect x="630.2" y="15.44" width="1.15" height="1.15" fill="#8c6c9c"/>
<rect x="629.67" y="26.02" width="1.15" height="1.15" fill="#8c6c9c"/>
<rect x="630.28" y="49.13" width="1.15" height="1.15" fill="#8c6c9c"/>
<rect x="630.91" y="29.36" width="1.15" height="1.15" fill="#8c6c9c"/>
<rect x="630.26" y="56.47" width="1.15" height="1.15" fill="#8c6c9c"/>
<rect x="630.49" y="20.5" width="1.15" height="1.15" fill="#8c6c9c"/>
<rect x="629.76" y="50.21" width="1.15" height="1.15" fill="#8c6c9c"/>
<rect x="630.13" y="41.76" width="1.15" height="1.15" fill="#8c6c9c"/>
<rect x="630.5" y="14.36" width="1.15" height="1.15" fill="#8c6c9c"/>
<rect x="629.76" y="76.11" width="1.15" height="1.15" fill="#8c6c9c"/>
<rect x="630.17" y="63.43" width="1.15" height="1.15" fill="#8c6c9c"/>
<rect x="631.31" y="50.33" width="1.15" height="1.15" fill="#8c6c9c"/>
<rect x="631.12" y="66.56" width="1.15" height="1.15" fill="#8c6c9c"/>
<rect x="630" y="56.29" width="1.15" height="1.15" fill="#8c6c9c"/>
<rect x="629.91" y="52.93" width="1.15" height="1.15" fill="#8c6c9c"/>
<rect x="630.72" y="55.01" width="1.15" height="1.15" fill="#8c6c9c"/>
<rect x="630.57" y="48.46" width="1.15" height="1.15" fill="#8c6c9c"/>
<rect x="631.12" y="72.92" width="1.15" height="1.15" fill="#8c6c9c"/>
<rect x="631.14" y="23.67" width="1.15" height="1.15" fill="#8c6c9c"/>
<rect x="629.99" y="53.99" width="1.15" height="1.15" fill="#8c6c9c"/>
<rect x="630.81" y="57.69" width="1.15" height="1.15" fill="#8c6c9c"/>
<rect x="629.47" y="63.03" width="1.15" height="1.15" fill="#8c6c9c"/>
<rect x="631.64" y="65.14" width="1.15" height="1.15" fill="#8c6c9c"/>
<rect x="630.07" y="59.49" width="1.15" height="1.15" fill="#8c6c9c"/>
<rect x="630.61" y="61.17" width="1.15" height="1.15" fill="#8c6c9c"/>
<rect x="629.75" y="54.82" width="1.15" height="1.15" fill="#8c6c9c"/>
<rect x="629.68" y="63.27" width="1.15" height="1.15" fill="#8c6c9c"/>
<rect x="629.21" y="54.97" width="1.15" height="1.15" fill="#8c6c9c"/>
<rect x="629.4" y="53.13" width="1.15" height="1.15" fill="#8c6c9c"/>
<rect x="631.09" y="48.48" width="1.15" height="1.15" fill="#8c6c9c"/>
<rect x="629.87" y="27.87" width="1.15" height="1.15" fill="#8c6c9c"/>
<rect x="629.22" y="68.46" width="1.15" height="1.15" fill="#8c6c9c"/>
<rect x="631.04" y="30.42" width="1.15" height="1.15" fill="#8c6c9c"/>
<rect x="629.37" y="35.49" width="1.15" height="1.15" fill="#8c6c9c"/>
<rect x="630.64" y="62.23" width="1.15" height="1.15" fill="#8c6c9c"/>
<rect x="629.95" y="52.84" width="1.15" height="1.15" fill="#8c6c9c"/>
<rect x="631.31" y="59.85" width="1.15" height="1.15" fill="#8c6c9c"/>
<rect x="630.94" y="48.68" width="1.15" height="1.15" fill="#8c6c9c"/>
<rect x="630.22" y="67.5" width="1.15" height="1.15" fill="#8c6c9c"/>
<rect x="628.1" y="49.2" width="5.5" height="18.2" fill="none" stroke="#262626" stroke-width="0.7"/>
<path d="M628.1 61.3H633.6" stroke="#262626" stroke-width="0.7"/>
<rect x="634.2" y="78.9" width="5.5" height="10.7" fill="#eeeeee" opacity="0.5"/>
<rect x="635.71" y="96.72" width="1.35" height="1.35" fill="#1a5060"/>
<rect x="636.35" y="77.62" width="1.35" height="1.35" fill="#1a5060"/>
<rect x="636.44" y="85.12" width="1.35" height="1.35" fill="#1a5060"/>
<rect x="635.7" y="98.83" width="1.35" height="1.35" fill="#1a5060"/>
<rect x="637.55" y="78.59" width="1.35" height="1.35" fill="#1a5060"/>
<rect x="636.64" y="91.12" width="1.35" height="1.35" fill="#1a5060"/>
<rect x="635.43" y="84" width="1.35" height="1.35" fill="#1a5060"/>
<rect x="635.42" y="82.09" width="1.35" height="1.35" fill="#1a5060"/>
<rect x="637.55" y="77.67" width="1.35" height="1.35" fill="#1a5060"/>
<rect x="635.16" y="84.51" width="1.35" height="1.35" fill="#1a5060"/>
<rect x="637.39" y="88.33" width="1.35" height="1.35" fill="#1a5060"/>
<rect x="636.95" y="91.27" width="1.35" height="1.35" fill="#1a5060"/>
<rect x="635.56" y="78.75" width="1.35" height="1.35" fill="#1a5060"/>
<rect x="636.59" y="78.85" width="1.35" height="1.35" fill="#1a5060"/>
<rect x="637.04" y="80.49" width="1.35" height="1.35" fill="#1a5060"/>
<rect x="636.34" y="103.03" width="1.35" height="1.35" fill="#1a5060"/>
<rect x="637.43" y="86.89" width="1.35" height="1.35" fill="#1a5060"/>
<rect x="636.47" y="87.88" width="1.35" height="1.35" fill="#1a5060"/>
<rect x="635.2" y="95.83" width="1.35" height="1.35" fill="#1a5060"/>
<rect x="636.68" y="76.27" width="1.35" height="1.35" fill="#1a5060"/>
<rect x="636.63" y="61.18" width="1.35" height="1.35" fill="#1a5060"/>
<rect x="636.33" y="85.21" width="1.35" height="1.35" fill="#1a5060"/>
<rect x="636.35" y="83.29" width="1.35" height="1.35" fill="#1a5060"/>
<rect x="636.65" y="93.42" width="1.35" height="1.35" fill="#1a5060"/>
<rect x="636.95" y="88.44" width="1.35" height="1.35" fill="#1a5060"/>
<rect x="637" y="85.43" width="1.35" height="1.35" fill="#1a5060"/>
<rect x="635" y="81.36" width="1.35" height="1.35" fill="#1a5060"/>
<rect x="637.22" y="81.63" width="1.35" height="1.35" fill="#1a5060"/>
<rect x="637.15" y="89.4" width="1.35" height="1.35" fill="#1a5060"/>
<rect x="634.97" y="83.94" width="1.35" height="1.35" fill="#1a5060"/>
<rect x="635.36" y="88.3" width="1.35" height="1.35" fill="#1a5060"/>
<rect x="635.53" y="81.1" width="1.35" height="1.35" fill="#1a5060"/>
<rect x="636.9" y="80.52" width="1.35" height="1.35" fill="#1a5060"/>
<rect x="635" y="90.38" width="1.35" height="1.35" fill="#1a5060"/>
<rect x="637.4" y="95.69" width="1.35" height="1.35" fill="#1a5060"/>
<rect x="637.03" y="76.91" width="1.35" height="1.35" fill="#1a5060"/>
<rect x="637.36" y="79.39" width="1.35" height="1.35" fill="#1a5060"/>
<rect x="637.08" y="79.29" width="1.35" height="1.35" fill="#1a5060"/>
<rect x="635.7" y="65.66" width="1.35" height="1.35" fill="#1a5060"/>
<rect x="637.22" y="86.44" width="1.35" height="1.35" fill="#1a5060"/>
<rect x="635.74" y="90.73" width="1.35" height="1.35" fill="#1a5060"/>
<rect x="636.51" y="87.23" width="1.35" height="1.35" fill="#1a5060"/>
<rect x="636.81" y="84.99" width="1.35" height="1.35" fill="#1a5060"/>
<rect x="635.85" y="82.68" width="1.35" height="1.35" fill="#1a5060"/>
<rect x="635.8" y="78.39" width="1.35" height="1.35" fill="#1a5060"/>
<rect x="635.01" y="88.78" width="1.35" height="1.35" fill="#1a5060"/>
<rect x="637.25" y="84.41" width="1.35" height="1.35" fill="#1a5060"/>
<rect x="635.47" y="83.22" width="1.35" height="1.35" fill="#1a5060"/>
<rect x="635.53" y="78.64" width="1.35" height="1.35" fill="#1a5060"/>
<rect x="637.51" y="96.84" width="1.35" height="1.35" fill="#1a5060"/>
<rect x="635.13" y="83.36" width="1.35" height="1.35" fill="#1a5060"/>
<rect x="635.11" y="97.72" width="1.35" height="1.35" fill="#1a5060"/>
<rect x="635.52" y="89.12" width="1.35" height="1.35" fill="#1a5060"/>
<rect x="637.33" y="80.99" width="1.35" height="1.35" fill="#1a5060"/>
<rect x="635.73" y="79.1" width="1.35" height="1.35" fill="#1a5060"/>
<rect x="637.53" y="84.35" width="1.35" height="1.35" fill="#1a5060"/>
<rect x="636.33" y="81.34" width="1.35" height="1.35" fill="#1a5060"/>
<rect x="637.6" y="80.98" width="1.35" height="1.35" fill="#1a5060"/>
<rect x="637.57" y="84.03" width="1.35" height="1.35" fill="#1a5060"/>
<rect x="636.99" y="88.77" width="1.35" height="1.35" fill="#1a5060"/>
<rect x="636.47" y="67.55" width="1.35" height="1.35" fill="#1a5060"/>
<rect x="634.2" y="78.9" width="5.5" height="10.7" fill="none" stroke="#262626" stroke-width="0.7"/>
<path d="M634.2 84.3H639.7" stroke="#262626" stroke-width="0.7"/>
<rect x="641.3" y="79.7" width="5" height="7.4" fill="#eeeeee" opacity="0.5"/>
<rect x="643.5" y="88.99" width="1.15" height="1.15" fill="#aaa455"/>
<rect x="644.27" y="87.79" width="1.15" height="1.15" fill="#aaa455"/>
<rect x="642.7" y="87.2" width="1.15" height="1.15" fill="#aaa455"/>
<rect x="643.51" y="82.18" width="1.15" height="1.15" fill="#aaa455"/>
<rect x="643.32" y="81.18" width="1.15" height="1.15" fill="#aaa455"/>
<rect x="641.84" y="78.7" width="1.15" height="1.15" fill="#aaa455"/>
<rect x="644.02" y="79.87" width="1.15" height="1.15" fill="#aaa455"/>
<rect x="641.9" y="82.35" width="1.15" height="1.15" fill="#aaa455"/>
<rect x="643.95" y="85.31" width="1.15" height="1.15" fill="#aaa455"/>
<rect x="641.83" y="84.47" width="1.15" height="1.15" fill="#aaa455"/>
<rect x="643.87" y="80.34" width="1.15" height="1.15" fill="#aaa455"/>
<rect x="642.91" y="82.4" width="1.15" height="1.15" fill="#aaa455"/>
<rect x="641.93" y="82.97" width="1.15" height="1.15" fill="#aaa455"/>
<rect x="644" y="79.79" width="1.15" height="1.15" fill="#aaa455"/>
<rect x="642.44" y="84.4" width="1.15" height="1.15" fill="#aaa455"/>
<rect x="642.71" y="82.19" width="1.15" height="1.15" fill="#aaa455"/>
<rect x="642.25" y="80.15" width="1.15" height="1.15" fill="#aaa455"/>
<rect x="644.46" y="78.87" width="1.15" height="1.15" fill="#aaa455"/>
<rect x="644.36" y="78.79" width="1.15" height="1.15" fill="#aaa455"/>
<rect x="643.21" y="79.11" width="1.15" height="1.15" fill="#aaa455"/>
<rect x="643.59" y="82.62" width="1.15" height="1.15" fill="#aaa455"/>
<rect x="643.13" y="78.48" width="1.15" height="1.15" fill="#aaa455"/>
<rect x="644.29" y="82.35" width="1.15" height="1.15" fill="#aaa455"/>
<rect x="643.85" y="85.7" width="1.15" height="1.15" fill="#aaa455"/>
<rect x="643.92" y="83.73" width="1.15" height="1.15" fill="#aaa455"/>
<rect x="642.62" y="80.35" width="1.15" height="1.15" fill="#aaa455"/>
<rect x="644.53" y="78.49" width="1.15" height="1.15" fill="#aaa455"/>
<rect x="642.9" y="86.98" width="1.15" height="1.15" fill="#aaa455"/>
<rect x="643.92" y="87.7" width="1.15" height="1.15" fill="#aaa455"/>
<rect x="643.93" y="82.11" width="1.15" height="1.15" fill="#aaa455"/>
<rect x="642.97" y="81.03" width="1.15" height="1.15" fill="#aaa455"/>
<rect x="642.63" y="78.5" width="1.15" height="1.15" fill="#aaa455"/>
<rect x="644.09" y="87.03" width="1.15" height="1.15" fill="#aaa455"/>
<rect x="644.43" y="90.11" width="1.15" height="1.15" fill="#aaa455"/>
<rect x="642.28" y="85.08" width="1.15" height="1.15" fill="#aaa455"/>
<rect x="642.68" y="82.48" width="1.15" height="1.15" fill="#aaa455"/>
<rect x="644.6" y="82.58" width="1.15" height="1.15" fill="#aaa455"/>
<rect x="642.31" y="82.1" width="1.15" height="1.15" fill="#aaa455"/>
<rect x="643.36" y="87.05" width="1.15" height="1.15" fill="#aaa455"/>
<rect x="643.1" y="80.64" width="1.15" height="1.15" fill="#aaa455"/>
<rect x="642.89" y="79.62" width="1.15" height="1.15" fill="#aaa455"/>
<rect x="644.56" y="86.71" width="1.15" height="1.15" fill="#aaa455"/>
<rect x="643.29" y="91.25" width="1.15" height="1.15" fill="#aaa455"/>
<rect x="641.3" y="79.7" width="5" height="7.4" fill="none" stroke="#262626" stroke-width="0.7"/>
<path d="M641.3 84H646.3" stroke="#262626" stroke-width="0.7"/>
<rect x="656.1" y="66.4" width="5" height="11.6" fill="#eeeeee" opacity="0.5"/>
<rect x="657.15" y="64.82" width="1.15" height="1.15" fill="#8c6c9c"/>
<rect x="658.74" y="78.03" width="1.15" height="1.15" fill="#8c6c9c"/>
<rect x="656.9" y="73.56" width="1.15" height="1.15" fill="#8c6c9c"/>
<rect x="658.22" y="73.59" width="1.15" height="1.15" fill="#8c6c9c"/>
<rect x="659.12" y="67.39" width="1.15" height="1.15" fill="#8c6c9c"/>
<rect x="656.93" y="76.06" width="1.15" height="1.15" fill="#8c6c9c"/>
<rect x="657.52" y="65.01" width="1.15" height="1.15" fill="#8c6c9c"/>
<rect x="659.16" y="61.82" width="1.15" height="1.15" fill="#8c6c9c"/>
<rect x="657.42" y="69.97" width="1.15" height="1.15" fill="#8c6c9c"/>
<rect x="658.74" y="77.95" width="1.15" height="1.15" fill="#8c6c9c"/>
<rect x="657.96" y="69.9" width="1.15" height="1.15" fill="#8c6c9c"/>
<rect x="657.69" y="64.84" width="1.15" height="1.15" fill="#8c6c9c"/>
<rect x="657.88" y="81.76" width="1.15" height="1.15" fill="#8c6c9c"/>
<rect x="657.04" y="75.45" width="1.15" height="1.15" fill="#8c6c9c"/>
<rect x="656.65" y="70.77" width="1.15" height="1.15" fill="#8c6c9c"/>
<rect x="658.44" y="68.05" width="1.15" height="1.15" fill="#8c6c9c"/>
<rect x="658.6" y="57.56" width="1.15" height="1.15" fill="#8c6c9c"/>
<rect x="657.94" y="70.14" width="1.15" height="1.15" fill="#8c6c9c"/>
<rect x="657.96" y="68.51" width="1.15" height="1.15" fill="#8c6c9c"/>
<rect x="659.01" y="66.24" width="1.15" height="1.15" fill="#8c6c9c"/>
<rect x="658" y="61.78" width="1.15" height="1.15" fill="#8c6c9c"/>
<rect x="657.05" y="72.05" width="1.15" height="1.15" fill="#8c6c9c"/>
<rect x="659.29" y="70.12" width="1.15" height="1.15" fill="#8c6c9c"/>
<rect x="658.18" y="55.48" width="1.15" height="1.15" fill="#8c6c9c"/>
<rect x="659.34" y="70.23" width="1.15" height="1.15" fill="#8c6c9c"/>
<rect x="658.49" y="64.44" width="1.15" height="1.15" fill="#8c6c9c"/>
<rect x="659.08" y="82.14" width="1.15" height="1.15" fill="#8c6c9c"/>
<rect x="658.56" y="79.75" width="1.15" height="1.15" fill="#8c6c9c"/>
<rect x="657.89" y="73.03" width="1.15" height="1.15" fill="#8c6c9c"/>
<rect x="656.85" y="77.53" width="1.15" height="1.15" fill="#8c6c9c"/>
<rect x="656.97" y="83.77" width="1.15" height="1.15" fill="#8c6c9c"/>
<rect x="658.37" y="70.21" width="1.15" height="1.15" fill="#8c6c9c"/>
<rect x="657.39" y="74.72" width="1.15" height="1.15" fill="#8c6c9c"/>
<rect x="656.71" y="67.37" width="1.15" height="1.15" fill="#8c6c9c"/>
<rect x="656.79" y="66.14" width="1.15" height="1.15" fill="#8c6c9c"/>
<rect x="657.21" y="76.77" width="1.15" height="1.15" fill="#8c6c9c"/>
<rect x="656.81" y="73.27" width="1.15" height="1.15" fill="#8c6c9c"/>
<rect x="658.69" y="72.96" width="1.15" height="1.15" fill="#8c6c9c"/>
<rect x="657.87" y="51.07" width="1.15" height="1.15" fill="#8c6c9c"/>
<rect x="657.51" y="65.77" width="1.15" height="1.15" fill="#8c6c9c"/>
<rect x="658.5" y="68.09" width="1.15" height="1.15" fill="#8c6c9c"/>
<rect x="657.18" y="67.1" width="1.15" height="1.15" fill="#8c6c9c"/>
<rect x="659.07" y="51.64" width="1.15" height="1.15" fill="#8c6c9c"/>
<rect x="658.21" y="79.63" width="1.15" height="1.15" fill="#8c6c9c"/>
<rect x="658.94" y="73.17" width="1.15" height="1.15" fill="#8c6c9c"/>
<rect x="657.67" y="65.39" width="1.15" height="1.15" fill="#8c6c9c"/>
<rect x="656.1" y="66.4" width="5" height="11.6" fill="none" stroke="#262626" stroke-width="0.7"/>
<path d="M656.1 72.2H661.1" stroke="#262626" stroke-width="0.7"/>
<rect x="662.2" y="65.6" width="5.5" height="14.8" fill="#eeeeee" opacity="0.5"/>
<rect x="665.63" y="82.21" width="1.35" height="1.35" fill="#1a5060"/>
<rect x="663.23" y="74.35" width="1.35" height="1.35" fill="#1a5060"/>
<rect x="664.06" y="68.72" width="1.35" height="1.35" fill="#1a5060"/>
<rect x="664.03" y="61.6" width="1.35" height="1.35" fill="#1a5060"/>
<rect x="664.44" y="78.2" width="1.35" height="1.35" fill="#1a5060"/>
<rect x="663.97" y="55.23" width="1.35" height="1.35" fill="#1a5060"/>
<rect x="663.06" y="75.92" width="1.35" height="1.35" fill="#1a5060"/>
<rect x="663.73" y="73.8" width="1.35" height="1.35" fill="#1a5060"/>
<rect x="663.15" y="81.8" width="1.35" height="1.35" fill="#1a5060"/>
<rect x="664.18" y="77.75" width="1.35" height="1.35" fill="#1a5060"/>
<rect x="665.56" y="69.46" width="1.35" height="1.35" fill="#1a5060"/>
<rect x="664.78" y="52.36" width="1.35" height="1.35" fill="#1a5060"/>
<rect x="665.58" y="52.98" width="1.35" height="1.35" fill="#1a5060"/>
<rect x="663.69" y="66.39" width="1.35" height="1.35" fill="#1a5060"/>
<rect x="663.61" y="65.97" width="1.35" height="1.35" fill="#1a5060"/>
<rect x="665.04" y="56.46" width="1.35" height="1.35" fill="#1a5060"/>
<rect x="663.05" y="86.01" width="1.35" height="1.35" fill="#1a5060"/>
<rect x="664.14" y="70.33" width="1.35" height="1.35" fill="#1a5060"/>
<rect x="663.26" y="73.44" width="1.35" height="1.35" fill="#1a5060"/>
<rect x="663.75" y="75.12" width="1.35" height="1.35" fill="#1a5060"/>
<rect x="665.4" y="67.12" width="1.35" height="1.35" fill="#1a5060"/>
<rect x="664.3" y="71.78" width="1.35" height="1.35" fill="#1a5060"/>
<rect x="665.52" y="68.55" width="1.35" height="1.35" fill="#1a5060"/>
<rect x="662.97" y="71.52" width="1.35" height="1.35" fill="#1a5060"/>
<rect x="662.95" y="80.1" width="1.35" height="1.35" fill="#1a5060"/>
<rect x="665.48" y="81.91" width="1.35" height="1.35" fill="#1a5060"/>
<rect x="663.72" y="63.9" width="1.35" height="1.35" fill="#1a5060"/>
<rect x="664.33" y="66.87" width="1.35" height="1.35" fill="#1a5060"/>
<rect x="664.99" y="78.22" width="1.35" height="1.35" fill="#1a5060"/>
<rect x="663.89" y="65.49" width="1.35" height="1.35" fill="#1a5060"/>
<rect x="662.89" y="76.07" width="1.35" height="1.35" fill="#1a5060"/>
<rect x="664.54" y="75.16" width="1.35" height="1.35" fill="#1a5060"/>
<rect x="662.97" y="80.28" width="1.35" height="1.35" fill="#1a5060"/>
<rect x="663.64" y="58.66" width="1.35" height="1.35" fill="#1a5060"/>
<rect x="663.72" y="80.52" width="1.35" height="1.35" fill="#1a5060"/>
<rect x="662.9" y="69.35" width="1.35" height="1.35" fill="#1a5060"/>
<rect x="665.28" y="69.88" width="1.35" height="1.35" fill="#1a5060"/>
<rect x="664.34" y="51.07" width="1.35" height="1.35" fill="#1a5060"/>
<rect x="663.32" y="49.47" width="1.35" height="1.35" fill="#1a5060"/>
<rect x="665.29" y="70.2" width="1.35" height="1.35" fill="#1a5060"/>
<rect x="664.35" y="80.44" width="1.35" height="1.35" fill="#1a5060"/>
<rect x="664.48" y="63.95" width="1.35" height="1.35" fill="#1a5060"/>
<rect x="663.79" y="71.38" width="1.35" height="1.35" fill="#1a5060"/>
<rect x="664.05" y="61.25" width="1.35" height="1.35" fill="#1a5060"/>
<rect x="663.89" y="68.93" width="1.35" height="1.35" fill="#1a5060"/>
<rect x="664.49" y="64.06" width="1.35" height="1.35" fill="#1a5060"/>
<rect x="663.47" y="76.78" width="1.35" height="1.35" fill="#1a5060"/>
<rect x="664.66" y="73.83" width="1.35" height="1.35" fill="#1a5060"/>
<rect x="663.22" y="81.15" width="1.35" height="1.35" fill="#1a5060"/>
<rect x="665.44" y="73.58" width="1.35" height="1.35" fill="#1a5060"/>
<rect x="663.83" y="76" width="1.35" height="1.35" fill="#1a5060"/>
<rect x="663.75" y="48.38" width="1.35" height="1.35" fill="#1a5060"/>
<rect x="664.13" y="77.67" width="1.35" height="1.35" fill="#1a5060"/>
<rect x="665.64" y="74.37" width="1.35" height="1.35" fill="#1a5060"/>
<rect x="662.2" y="65.6" width="5.5" height="14.8" fill="none" stroke="#262626" stroke-width="0.7"/>
<path d="M662.2 75.5H667.7" stroke="#262626" stroke-width="0.7"/>
<rect x="668.2" y="78.8" width="5.2" height="8.2" fill="#eeeeee" opacity="0.5"/>
<rect x="671.15" y="84.17" width="1.15" height="1.15" fill="#aaa455"/>
<rect x="670.64" y="87.12" width="1.15" height="1.15" fill="#aaa455"/>
<rect x="670.9" y="87.6" width="1.15" height="1.15" fill="#aaa455"/>
<rect x="669.26" y="78.68" width="1.15" height="1.15" fill="#aaa455"/>
<rect x="671.23" y="88.91" width="1.15" height="1.15" fill="#aaa455"/>
<rect x="669.71" y="84.17" width="1.15" height="1.15" fill="#aaa455"/>
<rect x="670.63" y="77.77" width="1.15" height="1.15" fill="#aaa455"/>
<rect x="670.58" y="77.33" width="1.15" height="1.15" fill="#aaa455"/>
<rect x="671.12" y="86.47" width="1.15" height="1.15" fill="#aaa455"/>
<rect x="670.21" y="76.97" width="1.15" height="1.15" fill="#aaa455"/>
<rect x="671.27" y="82.38" width="1.15" height="1.15" fill="#aaa455"/>
<rect x="670.77" y="78.6" width="1.15" height="1.15" fill="#aaa455"/>
<rect x="671.12" y="88.69" width="1.15" height="1.15" fill="#aaa455"/>
<rect x="669.63" y="82.74" width="1.15" height="1.15" fill="#aaa455"/>
<rect x="670.6" y="76.56" width="1.15" height="1.15" fill="#aaa455"/>
<rect x="671.48" y="77.05" width="1.15" height="1.15" fill="#aaa455"/>
<rect x="669.88" y="89.29" width="1.15" height="1.15" fill="#aaa455"/>
<rect x="669.7" y="85.55" width="1.15" height="1.15" fill="#aaa455"/>
<rect x="669.3" y="88.24" width="1.15" height="1.15" fill="#aaa455"/>
<rect x="669.88" y="80.58" width="1.15" height="1.15" fill="#aaa455"/>
<rect x="669.9" y="81.82" width="1.15" height="1.15" fill="#aaa455"/>
<rect x="669.03" y="74.76" width="1.15" height="1.15" fill="#aaa455"/>
<rect x="671.3" y="76.82" width="1.15" height="1.15" fill="#aaa455"/>
<rect x="669.41" y="88.69" width="1.15" height="1.15" fill="#aaa455"/>
<rect x="670.24" y="76.96" width="1.15" height="1.15" fill="#aaa455"/>
<rect x="668.95" y="82.04" width="1.15" height="1.15" fill="#aaa455"/>
<rect x="670.25" y="81.7" width="1.15" height="1.15" fill="#aaa455"/>
<rect x="670.82" y="80.13" width="1.15" height="1.15" fill="#aaa455"/>
<rect x="671.52" y="77.48" width="1.15" height="1.15" fill="#aaa455"/>
<rect x="669.85" y="80.47" width="1.15" height="1.15" fill="#aaa455"/>
<rect x="670.42" y="77.18" width="1.15" height="1.15" fill="#aaa455"/>
<rect x="671.44" y="81.91" width="1.15" height="1.15" fill="#aaa455"/>
<rect x="669.78" y="80.79" width="1.15" height="1.15" fill="#aaa455"/>
<rect x="671.26" y="83" width="1.15" height="1.15" fill="#aaa455"/>
<rect x="669.01" y="84.12" width="1.15" height="1.15" fill="#aaa455"/>
<rect x="669.95" y="77.9" width="1.15" height="1.15" fill="#aaa455"/>
<rect x="670.66" y="84.24" width="1.15" height="1.15" fill="#aaa455"/>
<rect x="670.92" y="83.52" width="1.15" height="1.15" fill="#aaa455"/>
<rect x="669.82" y="77.19" width="1.15" height="1.15" fill="#aaa455"/>
<rect x="668.2" y="78.8" width="5.2" height="8.2" fill="none" stroke="#262626" stroke-width="0.7"/>
<path d="M668.2 83H673.4" stroke="#262626" stroke-width="0.7"/>
<rect x="642.7" y="5" width="22" height="8.7" fill="#f2b3de" stroke="#e062b6" stroke-width="1"/>
<text x="653.5" y="11.88" font-size="7.4" text-anchor="middle" font-weight="normal" fill="#1a1a1a" >Body</text>
<rect x="642.7" y="16.9" width="22" height="8.7" fill="#a7b9c1" stroke="#93a8b1" stroke-width="1"/>
<text x="653.5" y="23.78" font-size="7.4" text-anchor="middle" font-weight="normal" fill="#1a1a1a" >Face</text>
<rect x="642.7" y="28.5" width="22" height="8.7" fill="#fffaf0" stroke="#fbd98e" stroke-width="1"/>
<text x="653.5" y="35.38" font-size="7.4" text-anchor="middle" font-weight="normal" fill="#1a1a1a" >Object</text>
<path d="M363.6 167.1V279.4H508.9" fill="none" stroke="#bdbdbd" stroke-width="0.8"/>
<path d="M535.7 167.5V279.9H680.8" fill="none" stroke="#bdbdbd" stroke-width="0.8"/>
<path d="M363.6 180.3h1.5" stroke="#bdbdbd" stroke-width="0.6"/>
<text x="364" y="182.75" font-size="6.9" text-anchor="end" font-weight="normal" fill="#1a1a1a" >1.0</text>
<path d="M363.6 196.78h1.5" stroke="#bdbdbd" stroke-width="0.6"/>
<text x="364" y="199.23" font-size="6.9" text-anchor="end" font-weight="normal" fill="#1a1a1a" >0.9</text>
<path d="M363.6 213.26h1.5" stroke="#bdbdbd" stroke-width="0.6"/>
<text x="364" y="215.71" font-size="6.9" text-anchor="end" font-weight="normal" fill="#1a1a1a" >0.8</text>
<path d="M363.6 229.74h1.5" stroke="#bdbdbd" stroke-width="0.6"/>
<text x="364" y="232.19" font-size="6.9" text-anchor="end" font-weight="normal" fill="#1a1a1a" >0.7</text>
<path d="M363.6 246.22h1.5" stroke="#bdbdbd" stroke-width="0.6"/>
<text x="364" y="248.67" font-size="6.9" text-anchor="end" font-weight="normal" fill="#1a1a1a" >0.6</text>
<path d="M363.6 262.7h1.5" stroke="#bdbdbd" stroke-width="0.6"/>
<text x="364" y="265.15" font-size="6.9" text-anchor="end" font-weight="normal" fill="#1a1a1a" >0.5</text>
<path d="M535.7 177.2h1.5" stroke="#bdbdbd" stroke-width="0.6"/>
<text x="534.7" y="179.69" font-size="7" text-anchor="end" font-weight="normal" fill="#1a1a1a" >0.8</text>
<path d="M535.7 190.01h1.5" stroke="#bdbdbd" stroke-width="0.6"/>
<text x="534.7" y="192.5" font-size="7" text-anchor="end" font-weight="normal" fill="#1a1a1a" >0.75</text>
<path d="M535.7 202.83h1.5" stroke="#bdbdbd" stroke-width="0.6"/>
<text x="534.7" y="205.31" font-size="7" text-anchor="end" font-weight="normal" fill="#1a1a1a" >0.7</text>
<path d="M535.7 215.64h1.5" stroke="#bdbdbd" stroke-width="0.6"/>
<text x="534.7" y="218.13" font-size="7" text-anchor="end" font-weight="normal" fill="#1a1a1a" >0.65</text>
<path d="M535.7 228.46h1.5" stroke="#bdbdbd" stroke-width="0.6"/>
<text x="534.7" y="230.94" font-size="7" text-anchor="end" font-weight="normal" fill="#1a1a1a" >0.6</text>
<path d="M535.7 241.27h1.5" stroke="#bdbdbd" stroke-width="0.6"/>
<text x="534.7" y="243.76" font-size="7" text-anchor="end" font-weight="normal" fill="#1a1a1a" >0.55</text>
<path d="M535.7 254.09h1.5" stroke="#bdbdbd" stroke-width="0.6"/>
<text x="534.7" y="256.57" font-size="7" text-anchor="end" font-weight="normal" fill="#1a1a1a" >0.5</text>
<path d="M535.7 266.9h1.5" stroke="#bdbdbd" stroke-width="0.6"/>
<text x="534.7" y="269.38" font-size="7" text-anchor="end" font-weight="normal" fill="#1a1a1a" >0.45</text>
<path d="M375.69 279.4v-1.5" stroke="#bdbdbd" stroke-width="0.6"/>
<text x="376.19" y="286.95" font-size="6.9" text-anchor="middle" font-weight="normal" fill="#1a1a1a" >-200</text>
<path d="M399.88 279.4v-1.5" stroke="#bdbdbd" stroke-width="0.6"/>
<text x="400.38" y="286.95" font-size="6.9" text-anchor="middle" font-weight="normal" fill="#1a1a1a" >-100</text>
<path d="M424.06 279.4v-1.5" stroke="#bdbdbd" stroke-width="0.6"/>
<text x="424.56" y="286.95" font-size="6.9" text-anchor="middle" font-weight="normal" fill="#1a1a1a" >0</text>
<path d="M448.24 279.4v-1.5" stroke="#bdbdbd" stroke-width="0.6"/>
<text x="448.74" y="286.95" font-size="6.9" text-anchor="middle" font-weight="normal" fill="#1a1a1a" >100</text>
<path d="M472.43 279.4v-1.5" stroke="#bdbdbd" stroke-width="0.6"/>
<text x="472.93" y="286.95" font-size="6.9" text-anchor="middle" font-weight="normal" fill="#1a1a1a" >200</text>
<path d="M496.61 279.4v-1.5" stroke="#bdbdbd" stroke-width="0.6"/>
<text x="497.11" y="286.95" font-size="6.9" text-anchor="middle" font-weight="normal" fill="#1a1a1a" >300</text>
<text x="422.3" y="294.23" font-size="6.85" text-anchor="start" font-weight="normal" fill="#1a1a1a" >Time (ms)</text>
<path d="M424.06 168.9V279.4" stroke="#8a8a8a" stroke-width="0.95" stroke-dasharray="2.5 2.9"/>
<path d="M547.68 279.9v-1.5" stroke="#bdbdbd" stroke-width="0.6"/>
<text x="548.18" y="286.55" font-size="6.9" text-anchor="middle" font-weight="normal" fill="#1a1a1a" >-200</text>
<path d="M571.83 279.9v-1.5" stroke="#bdbdbd" stroke-width="0.6"/>
<text x="572.33" y="286.55" font-size="6.9" text-anchor="middle" font-weight="normal" fill="#1a1a1a" >-100</text>
<path d="M595.98 279.9v-1.5" stroke="#bdbdbd" stroke-width="0.6"/>
<text x="596.48" y="286.55" font-size="6.9" text-anchor="middle" font-weight="normal" fill="#1a1a1a" >0</text>
<path d="M620.12 279.9v-1.5" stroke="#bdbdbd" stroke-width="0.6"/>
<text x="620.62" y="286.55" font-size="6.9" text-anchor="middle" font-weight="normal" fill="#1a1a1a" >100</text>
<path d="M644.27 279.9v-1.5" stroke="#bdbdbd" stroke-width="0.6"/>
<text x="644.77" y="286.55" font-size="6.9" text-anchor="middle" font-weight="normal" fill="#1a1a1a" >200</text>
<path d="M668.42 279.9v-1.5" stroke="#bdbdbd" stroke-width="0.6"/>
<text x="668.92" y="286.55" font-size="6.9" text-anchor="middle" font-weight="normal" fill="#1a1a1a" >300</text>
<text x="593.4" y="293.63" font-size="6.85" text-anchor="start" font-weight="normal" fill="#1a1a1a" >Time (ms)</text>
<path d="M595.98 168.9V279.9" stroke="#8a8a8a" stroke-width="0.95" stroke-dasharray="2.5 2.9"/>
<text x="0" y="2.45" font-size="6.9" text-anchor="middle" font-weight="normal" fill="#1a1a1a" transform="translate(348.8 219.9) rotate(-90)">Classifier performance (AUC)</text>
<text x="0" y="2.45" font-size="6.9" text-anchor="middle" font-weight="normal" fill="#1a1a1a" transform="translate(516.6 219.6) rotate(-90)">Classifier performance (AUC)</text>
<text x="364" y="166.25" font-size="6.9" text-anchor="start" font-weight="bold" fill="#1a1a1a" >Non-Scrambled vs Scrambled</text>
<text x="536.6" y="166.15" font-size="6.9" text-anchor="start" font-weight="bold" fill="#1a1a1a" >Body vs Face vs Object</text>
<path d="M464 167.5H509.2" stroke="#8898d8" stroke-width="0.9"/>
<path d="M485.8 169.6H509.2" stroke="#88d060" stroke-width="1.0"/>
<path d="M451.9 172H509.2" stroke="#f27a8c" stroke-width="1.4"/>
<path d="M464 174.4H509.2" stroke="#f8907f" stroke-width="1.2"/>
<path d="M454.1 176.4H470.9" stroke="#82d8b4" stroke-width="1.0"/>
<path d="M633.1 177.3H660.1" stroke="#8898d8" stroke-width="0.9"/>
<path d="M640.7 180.8H680.9" stroke="#94d468" stroke-width="1.2"/>
<path d="M626.2 184.2H680.9" stroke="#e8283c" stroke-width="1.0"/>
<path d="M616.2 187.7H680.9" stroke="#f8a090" stroke-width="1.2"/>
<path d="M647.6 191.2H674.6" stroke="#82d8b4" stroke-width="1.0"/>
<path d="M363.6 263.2C387.78 263.2 484.52 263.2 508.7 263.2" fill="none" stroke="#8c98d8" stroke-width="1.0" stroke-linejoin="round" />
<path d="M415 263.2Q419.5 267.7 421 265.7Q422 264 424 263.2Z" fill="#e8283c" opacity="0.9"/>
<path d="M419.2 263.2L420.4 261L421.6 263.2Z" fill="#f06070"/>
<path d="M402 263.2C402.67 263.15 405.08 262.8 406 262.9C406.92 263 407 263.8 407.5 263.8C408 263.8 408.08 263 409 262.9C409.92 262.8 412.33 263.15 413 263.2" fill="none" stroke="#7ccc3c" stroke-width="1.0" stroke-linejoin="round" />
<path d="M440 263.2C443.33 263.2 453.67 263.2 460 263.2C466.33 263.2 474.75 263.22 478 263.2C481.25 263.18 478.75 263.72 479.5 263.1C480.25 262.48 481.33 262.4 482.5 259.5C483.67 256.6 485.18 250.3 486.5 245.7C487.82 241.1 489.08 235.77 490.4 231.9C491.72 228.03 493.25 225.23 494.4 222.5C495.55 219.77 496.48 217.32 497.3 215.5C498.12 213.68 498.3 212.58 499.3 211.6C500.3 210.62 501.73 209.77 503.3 209.6C504.87 209.43 507.8 210.43 508.7 210.6" fill="none" stroke="#addf83" stroke-width="2.4" stroke-linejoin="round" opacity="0.55" stroke-linecap="round"/><path d="M440 263.2C443.33 263.2 453.67 263.2 460 263.2C466.33 263.2 474.75 263.22 478 263.2C481.25 263.18 478.75 263.72 479.5 263.1C480.25 262.48 481.33 262.4 482.5 259.5C483.67 256.6 485.18 250.3 486.5 245.7C487.82 241.1 489.08 235.77 490.4 231.9C491.72 228.03 493.25 225.23 494.4 222.5C495.55 219.77 496.48 217.32 497.3 215.5C498.12 213.68 498.3 212.58 499.3 211.6C500.3 210.62 501.73 209.77 503.3 209.6C504.87 209.43 507.8 210.43 508.7 210.6" fill="none" stroke="#7ccc3c" stroke-width="1.1" stroke-linejoin="round" stroke-linecap="round"/>
<path d="M443 263.2C443.33 263.15 444.18 263.07 445 262.9C445.82 262.73 446.75 263.75 447.9 262.2C449.05 260.65 450.58 257 451.9 253.6C453.22 250.2 454.48 244.77 455.8 241.8C457.12 238.83 458.65 236.47 459.8 235.8C460.95 235.13 461.55 236.15 462.7 237.8C463.85 239.45 465.22 242.73 466.7 245.7C468.18 248.67 470.12 252.9 471.6 255.6C473.08 258.3 474.28 260.65 475.6 261.9C476.92 263.15 477.85 263.17 479.5 263.1C481.15 263.03 483.52 262.03 485.5 261.5C487.48 260.97 489.58 260.38 491.4 259.9C493.22 259.42 494.75 258.5 496.4 258.6C498.05 258.7 499.95 260.05 501.3 260.5C502.65 260.95 503.35 261.07 504.5 261.3C505.65 261.53 507.58 261.8 508.2 261.9" fill="none" stroke="#a6e8d2" stroke-width="2.8" stroke-linejoin="round" opacity="0.55" stroke-linecap="round"/><path d="M443 263.2C443.33 263.15 444.18 263.07 445 262.9C445.82 262.73 446.75 263.75 447.9 262.2C449.05 260.65 450.58 257 451.9 253.6C453.22 250.2 454.48 244.77 455.8 241.8C457.12 238.83 458.65 236.47 459.8 235.8C460.95 235.13 461.55 236.15 462.7 237.8C463.85 239.45 465.22 242.73 466.7 245.7C468.18 248.67 470.12 252.9 471.6 255.6C473.08 258.3 474.28 260.65 475.6 261.9C476.92 263.15 477.85 263.17 479.5 263.1C481.15 263.03 483.52 262.03 485.5 261.5C487.48 260.97 489.58 260.38 491.4 259.9C493.22 259.42 494.75 258.5 496.4 258.6C498.05 258.7 499.95 260.05 501.3 260.5C502.65 260.95 503.35 261.07 504.5 261.3C505.65 261.53 507.58 261.8 508.2 261.9" fill="none" stroke="#6fd6b0" stroke-width="1.0" stroke-linejoin="round" stroke-linecap="round"/>
<path d="M455 263.2C455.63 263.13 457.67 263.73 458.8 262.8C459.93 261.87 460.65 260.78 461.8 257.6C462.95 254.42 464.38 248.32 465.7 243.7C467.02 239.08 468.38 233.52 469.7 229.9C471.02 226.28 472.28 223.9 473.6 222C474.92 220.1 475.62 219.15 477.6 218.5C479.58 217.85 483.03 217.93 485.5 218.1C487.97 218.27 490.43 218.62 492.4 219.5C494.37 220.38 495.48 221.75 497.3 223.4C499.12 225.05 501.48 227.58 503.3 229.4C505.12 231.22 507.38 233.48 508.2 234.3" fill="none" stroke="#b4bbe6" stroke-width="3.8" stroke-linejoin="round" opacity="0.55" stroke-linecap="round"/><path d="M455 263.2C455.63 263.13 457.67 263.73 458.8 262.8C459.93 261.87 460.65 260.78 461.8 257.6C462.95 254.42 464.38 248.32 465.7 243.7C467.02 239.08 468.38 233.52 469.7 229.9C471.02 226.28 472.28 223.9 473.6 222C474.92 220.1 475.62 219.15 477.6 218.5C479.58 217.85 483.03 217.93 485.5 218.1C487.97 218.27 490.43 218.62 492.4 219.5C494.37 220.38 495.48 221.75 497.3 223.4C499.12 225.05 501.48 227.58 503.3 229.4C505.12 231.22 507.38 233.48 508.2 234.3" fill="none" stroke="#8894d4" stroke-width="1.0" stroke-linejoin="round" stroke-linecap="round"/>
<path d="M454 263.2C454.47 263.13 455.83 263.25 456.8 262.8C457.77 262.35 458.82 263.02 459.8 260.5C460.78 257.98 461.72 251.82 462.7 247.7C463.68 243.58 464.53 239.35 465.7 235.8C466.87 232.25 468.22 228.95 469.7 226.4C471.18 223.85 472.63 221.82 474.6 220.5C476.57 219.18 479.03 219.33 481.5 218.5C483.97 217.67 486.77 216.48 489.4 215.5C492.03 214.52 494.98 213.08 497.3 212.6C499.62 212.12 501.48 212.12 503.3 212.6C505.12 213.08 507.38 215.02 508.2 215.5" fill="none" stroke="#f8ada1" stroke-width="2.6" stroke-linejoin="round" opacity="0.55" stroke-linecap="round"/><path d="M454 263.2C454.47 263.13 455.83 263.25 456.8 262.8C457.77 262.35 458.82 263.02 459.8 260.5C460.78 257.98 461.72 251.82 462.7 247.7C463.68 243.58 464.53 239.35 465.7 235.8C466.87 232.25 468.22 228.95 469.7 226.4C471.18 223.85 472.63 221.82 474.6 220.5C476.57 219.18 479.03 219.33 481.5 218.5C483.97 217.67 486.77 216.48 489.4 215.5C492.03 214.52 494.98 213.08 497.3 212.6C499.62 212.12 501.48 212.12 503.3 212.6C505.12 213.08 507.38 215.02 508.2 215.5" fill="none" stroke="#f4806c" stroke-width="0.9" stroke-linejoin="round" stroke-linecap="round"/>
<path d="M438 263.2C438.58 263.37 440.42 264 441.5 264.2C442.58 264.4 443.58 264.68 444.5 264.4C445.42 264.12 446.1 263.63 447 262.5C447.9 261.37 448.92 260.4 449.9 257.6C450.88 254.8 451.92 249.67 452.9 245.7C453.88 241.73 454.65 238.33 455.8 233.8C456.95 229.27 458.15 223.52 459.8 218.5C461.45 213.48 463.73 207.82 465.7 203.7C467.67 199.58 469.3 196.6 471.6 193.8C473.9 191 476.53 188.62 479.5 186.9C482.47 185.18 486.43 184.17 489.4 183.5C492.37 182.83 494.98 182.67 497.3 182.9C499.62 183.13 501.4 183.85 503.3 184.9C505.2 185.95 507.8 188.48 508.7 189.2" fill="none" stroke="#f27485" stroke-width="1.7" stroke-linejoin="round" opacity="0.55" stroke-linecap="round"/><path d="M438 263.2C438.58 263.37 440.42 264 441.5 264.2C442.58 264.4 443.58 264.68 444.5 264.4C445.42 264.12 446.1 263.63 447 262.5C447.9 261.37 448.92 260.4 449.9 257.6C450.88 254.8 451.92 249.67 452.9 245.7C453.88 241.73 454.65 238.33 455.8 233.8C456.95 229.27 458.15 223.52 459.8 218.5C461.45 213.48 463.73 207.82 465.7 203.7C467.67 199.58 469.3 196.6 471.6 193.8C473.9 191 476.53 188.62 479.5 186.9C482.47 185.18 486.43 184.17 489.4 183.5C492.37 182.83 494.98 182.67 497.3 182.9C499.62 183.13 501.4 183.85 503.3 184.9C505.2 185.95 507.8 188.48 508.7 189.2" fill="none" stroke="#e8283c" stroke-width="1.1" stroke-linejoin="round" stroke-linecap="round"/>
<path d="M535.6 244.29C535.9 244.38 536.8 244.71 537.4 244.83C538 244.94 538.6 245.06 539.2 244.97C539.8 244.88 540.4 244.42 541 244.29C541.6 244.15 542.2 244.06 542.8 244.15C543.4 244.24 544 244.32 544.6 244.81C545.2 245.31 545.8 246.35 546.4 247.14C547 247.94 547.6 248.71 548.2 249.57C548.8 250.42 549.4 251.3 550 252.27C550.6 253.23 551.2 254.35 551.8 255.35C552.4 256.36 553 257.78 553.6 258.3C554.2 258.82 554.8 258.35 555.4 258.5C556 258.64 556.6 259.35 557.2 259.19C557.8 259.03 558.4 257.94 559 257.53C559.6 257.13 560.2 256.97 560.8 256.76C561.4 256.56 562 256.62 562.6 256.33C563.2 256.04 563.8 255.23 564.4 255.02C565 254.8 565.6 255.09 566.2 255.04C566.8 254.99 567.4 255.06 568 254.72C568.6 254.39 569.2 253.53 569.8 253.03C570.4 252.54 571 251.96 571.6 251.73C572.2 251.5 572.8 251.58 573.4 251.64C574 251.69 574.6 252.09 575.2 252.05C575.8 252 576.4 251.61 577 251.37C577.6 251.12 578.2 250.55 578.8 250.58C579.4 250.61 580 251.2 580.6 251.57C581.2 251.95 581.8 252.34 582.4 252.84C583 253.35 583.6 253.9 584.2 254.6C584.8 255.3 585.4 256.11 586 257.06C586.6 258 587.2 259.27 587.8 260.26C588.4 261.25 589 262.36 589.6 263C590.2 263.64 590.8 263.99 591.4 264.11C592 264.24 592.6 264.78 593.2 263.75C593.8 262.73 594.4 259.39 595 257.98C595.6 256.57 596.2 256.22 596.8 255.3C597.4 254.39 598 253.01 598.6 252.49C599.2 251.96 599.8 252.33 600.4 252.14C601 251.96 601.6 251.76 602.2 251.39C602.8 251.01 603.4 250.97 604 249.87C604.6 248.76 605.2 246.22 605.8 244.75C606.4 243.27 607 242.33 607.6 241.01C608.2 239.7 608.8 237.83 609.4 236.88C610 235.93 610.6 235.42 611.2 235.31C611.8 235.2 612.4 235.89 613 236.24C613.6 236.58 614.2 237.07 614.8 237.39C615.4 237.72 616 238.13 616.6 238.18C617.2 238.24 617.8 238.02 618.4 237.72C619 237.41 619.6 236.29 620.2 236.35C620.8 236.41 621.4 237.42 622 238.09C622.6 238.77 623.2 239.78 623.8 240.4C624.4 241.01 625 241.3 625.6 241.77C626.2 242.24 626.8 243.08 627.4 243.22C628 243.36 628.6 242.85 629.2 242.61C629.8 242.37 630.4 242.17 631 241.76C631.6 241.36 632.2 240.81 632.8 240.18C633.4 239.54 634 238.82 634.6 237.96C635.2 237.09 635.8 235.88 636.4 234.99C637 234.11 637.6 233.29 638.2 232.66C638.8 232.03 639.4 231.82 640 231.2C640.6 230.58 641.2 229.74 641.8 228.95C642.4 228.15 643 226.76 643.6 226.41C644.2 226.07 644.8 226.45 645.4 226.86C646 227.27 646.6 228.27 647.2 228.87C647.8 229.47 648.4 230.04 649 230.45C649.6 230.87 650.2 231.38 650.8 231.37C651.4 231.36 652 230.7 652.6 230.4C653.2 230.1 653.8 230.43 654.4 229.56C655 228.7 655.6 227.02 656.2 225.21C656.8 223.39 657.4 220.55 658 218.67C658.6 216.79 659.2 214.95 659.8 213.93C660.4 212.91 661 213.13 661.6 212.57C662.2 212.02 662.8 210.54 663.4 210.58C664 210.63 664.6 211.83 665.2 212.85C665.8 213.87 666.4 215.35 667 216.69C667.6 218.03 668.2 219.6 668.8 220.89C669.4 222.19 670 223.37 670.6 224.48C671.2 225.59 671.8 226.77 672.4 227.58C673 228.39 673.6 228.64 674.2 229.34C674.8 230.03 675.4 231.01 676 231.76C676.6 232.51 677.2 233.3 677.8 233.85C678.4 234.4 679.3 234.86 679.6 235.06" fill="none" stroke="#a6e8d2" stroke-width="6.0" stroke-linejoin="round" opacity="0.68"/>
<path d="M535.6 244.29C535.9 244.38 536.8 244.71 537.4 244.83C538 244.94 538.6 245.06 539.2 244.97C539.8 244.88 540.4 244.42 541 244.29C541.6 244.15 542.2 244.06 542.8 244.15C543.4 244.24 544 244.32 544.6 244.81C545.2 245.31 545.8 246.35 546.4 247.14C547 247.94 547.6 248.71 548.2 249.57C548.8 250.42 549.4 251.3 550 252.27C550.6 253.23 551.2 254.35 551.8 255.35C552.4 256.36 553 257.78 553.6 258.3C554.2 258.82 554.8 258.35 555.4 258.5C556 258.64 556.6 259.35 557.2 259.19C557.8 259.03 558.4 257.94 559 257.53C559.6 257.13 560.2 256.97 560.8 256.76C561.4 256.56 562 256.62 562.6 256.33C563.2 256.04 563.8 255.23 564.4 255.02C565 254.8 565.6 255.09 566.2 255.04C566.8 254.99 567.4 255.06 568 254.72C568.6 254.39 569.2 253.53 569.8 253.03C570.4 252.54 571 251.96 571.6 251.73C572.2 251.5 572.8 251.58 573.4 251.64C574 251.69 574.6 252.09 575.2 252.05C575.8 252 576.4 251.61 577 251.37C577.6 251.12 578.2 250.55 578.8 250.58C579.4 250.61 580 251.2 580.6 251.57C581.2 251.95 581.8 252.34 582.4 252.84C583 253.35 583.6 253.9 584.2 254.6C584.8 255.3 585.4 256.11 586 257.06C586.6 258 587.2 259.27 587.8 260.26C588.4 261.25 589 262.36 589.6 263C590.2 263.64 590.8 263.99 591.4 264.11C592 264.24 592.6 264.78 593.2 263.75C593.8 262.73 594.4 259.39 595 257.98C595.6 256.57 596.2 256.22 596.8 255.3C597.4 254.39 598 253.01 598.6 252.49C599.2 251.96 599.8 252.33 600.4 252.14C601 251.96 601.6 251.76 602.2 251.39C602.8 251.01 603.4 250.97 604 249.87C604.6 248.76 605.2 246.22 605.8 244.75C606.4 243.27 607 242.33 607.6 241.01C608.2 239.7 608.8 237.83 609.4 236.88C610 235.93 610.6 235.42 611.2 235.31C611.8 235.2 612.4 235.89 613 236.24C613.6 236.58 614.2 237.07 614.8 237.39C615.4 237.72 616 238.13 616.6 238.18C617.2 238.24 617.8 238.02 618.4 237.72C619 237.41 619.6 236.29 620.2 236.35C620.8 236.41 621.4 237.42 622 238.09C622.6 238.77 623.2 239.78 623.8 240.4C624.4 241.01 625 241.3 625.6 241.77C626.2 242.24 626.8 243.08 627.4 243.22C628 243.36 628.6 242.85 629.2 242.61C629.8 242.37 630.4 242.17 631 241.76C631.6 241.36 632.2 240.81 632.8 240.18C633.4 239.54 634 238.82 634.6 237.96C635.2 237.09 635.8 235.88 636.4 234.99C637 234.11 637.6 233.29 638.2 232.66C638.8 232.03 639.4 231.82 640 231.2C640.6 230.58 641.2 229.74 641.8 228.95C642.4 228.15 643 226.76 643.6 226.41C644.2 226.07 644.8 226.45 645.4 226.86C646 227.27 646.6 228.27 647.2 228.87C647.8 229.47 648.4 230.04 649 230.45C649.6 230.87 650.2 231.38 650.8 231.37C651.4 231.36 652 230.7 652.6 230.4C653.2 230.1 653.8 230.43 654.4 229.56C655 228.7 655.6 227.02 656.2 225.21C656.8 223.39 657.4 220.55 658 218.67C658.6 216.79 659.2 214.95 659.8 213.93C660.4 212.91 661 213.13 661.6 212.57C662.2 212.02 662.8 210.54 663.4 210.58C664 210.63 664.6 211.83 665.2 212.85C665.8 213.87 666.4 215.35 667 216.69C667.6 218.03 668.2 219.6 668.8 220.89C669.4 222.19 670 223.37 670.6 224.48C671.2 225.59 671.8 226.77 672.4 227.58C673 228.39 673.6 228.64 674.2 229.34C674.8 230.03 675.4 231.01 676 231.76C676.6 232.51 677.2 233.3 677.8 233.85C678.4 234.4 679.3 234.86 679.6 235.06" fill="none" stroke="#6fd6b0" stroke-width="0.8" stroke-linejoin="round" opacity="0.75"/>
<path d="M535.6 252.47C535.9 252.43 536.8 252.32 537.4 252.23C538 252.15 538.6 252.03 539.2 251.96C539.8 251.88 540.4 251.95 541 251.78C541.6 251.62 542.2 251.19 542.8 250.96C543.4 250.74 544 250.83 544.6 250.42C545.2 250.02 545.8 249 546.4 248.55C547 248.1 547.6 247.87 548.2 247.74C548.8 247.61 549.4 247.67 550 247.78C550.6 247.89 551.2 248.14 551.8 248.41C552.4 248.68 553 249.27 553.6 249.4C554.2 249.52 554.8 249 555.4 249.15C556 249.31 556.6 249.94 557.2 250.3C557.8 250.66 558.4 250.88 559 251.31C559.6 251.73 560.2 252.37 560.8 252.86C561.4 253.36 562 253.96 562.6 254.27C563.2 254.58 563.8 254.47 564.4 254.71C565 254.96 565.6 255.44 566.2 255.72C566.8 255.99 567.4 256.29 568 256.36C568.6 256.43 569.2 256.32 569.8 256.15C570.4 255.99 571 255.79 571.6 255.37C572.2 254.95 572.8 253.9 573.4 253.61C574 253.32 574.6 253.78 575.2 253.61C575.8 253.43 576.4 252.76 577 252.56C577.6 252.36 578.2 252.64 578.8 252.43C579.4 252.22 580 251.7 580.6 251.31C581.2 250.92 581.8 250.27 582.4 250.1C583 249.93 583.6 250.45 584.2 250.3C584.8 250.15 585.4 249.36 586 249.2C586.6 249.05 587.2 248.93 587.8 249.36C588.4 249.79 589 251.07 589.6 251.79C590.2 252.51 590.8 253.22 591.4 253.68C592 254.15 592.6 254.08 593.2 254.57C593.8 255.07 594.4 256.46 595 256.63C595.6 256.81 596.2 255.93 596.8 255.62C597.4 255.3 598 255.14 598.6 254.75C599.2 254.37 599.8 253.52 600.4 253.29C601 253.07 601.6 253.47 602.2 253.41C602.8 253.34 603.4 253 604 252.91C604.6 252.82 605.2 252.72 605.8 252.86C606.4 253 607 253.6 607.6 253.75C608.2 253.9 608.8 253.69 609.4 253.75C610 253.81 610.6 254.06 611.2 254.09C611.8 254.12 612.4 253.96 613 253.94C613.6 253.91 614.2 253.94 614.8 253.95C615.4 253.95 616 253.89 616.6 253.97C617.2 254.05 617.8 254.21 618.4 254.42C619 254.63 619.6 255.14 620.2 255.24C620.8 255.34 621.4 254.94 622 255.01C622.6 255.07 623.2 255.6 623.8 255.63C624.4 255.67 625 255.36 625.6 255.22C626.2 255.08 626.8 254.82 627.4 254.81C628 254.8 628.6 255.76 629.2 255.15C629.8 254.55 630.4 252.9 631 251.19C631.6 249.48 632.2 247.27 632.8 244.88C633.4 242.5 634 239.56 634.6 236.89C635.2 234.23 635.8 231.33 636.4 228.88C637 226.42 637.6 223.37 638.2 222.16C638.8 220.95 639.4 222.07 640 221.61C640.6 221.15 641.2 219.39 641.8 219.38C642.4 219.38 643 220.75 643.6 221.56C644.2 222.38 644.8 223.73 645.4 224.27C646 224.82 646.6 224.58 647.2 224.85C647.8 225.11 648.4 225.65 649 225.85C649.6 226.05 650.2 225.92 650.8 226.05C651.4 226.17 652 226.56 652.6 226.61C653.2 226.65 653.8 226 654.4 226.31C655 226.62 655.6 227.52 656.2 228.48C656.8 229.43 657.4 230.63 658 232.04C658.6 233.45 659.2 235.45 659.8 236.94C660.4 238.44 661 239.49 661.6 241C662.2 242.51 662.8 244.59 663.4 246.01C664 247.42 664.6 248.39 665.2 249.48C665.8 250.57 666.4 251.9 667 252.56C667.6 253.21 668.2 253.3 668.8 253.43C669.4 253.57 670 253.32 670.6 253.35C671.2 253.39 671.8 253.5 672.4 253.66C673 253.82 673.6 254.56 674.2 254.3C674.8 254.04 675.4 252.57 676 252.09C676.6 251.62 677.2 251.58 677.8 251.46C678.4 251.33 679.3 251.35 679.6 251.32" fill="none" stroke="#b4bbe6" stroke-width="6.0" stroke-linejoin="round" opacity="0.68"/>
<path d="M535.6 252.47C535.9 252.43 536.8 252.32 537.4 252.23C538 252.15 538.6 252.03 539.2 251.96C539.8 251.88 540.4 251.95 541 251.78C541.6 251.62 542.2 251.19 542.8 250.96C543.4 250.74 544 250.83 544.6 250.42C545.2 250.02 545.8 249 546.4 248.55C547 248.1 547.6 247.87 548.2 247.74C548.8 247.61 549.4 247.67 550 247.78C550.6 247.89 551.2 248.14 551.8 248.41C552.4 248.68 553 249.27 553.6 249.4C554.2 249.52 554.8 249 555.4 249.15C556 249.31 556.6 249.94 557.2 250.3C557.8 250.66 558.4 250.88 559 251.31C559.6 251.73 560.2 252.37 560.8 252.86C561.4 253.36 562 253.96 562.6 254.27C563.2 254.58 563.8 254.47 564.4 254.71C565 254.96 565.6 255.44 566.2 255.72C566.8 255.99 567.4 256.29 568 256.36C568.6 256.43 569.2 256.32 569.8 256.15C570.4 255.99 571 255.79 571.6 255.37C572.2 254.95 572.8 253.9 573.4 253.61C574 253.32 574.6 253.78 575.2 253.61C575.8 253.43 576.4 252.76 577 252.56C577.6 252.36 578.2 252.64 578.8 252.43C579.4 252.22 580 251.7 580.6 251.31C581.2 250.92 581.8 250.27 582.4 250.1C583 249.93 583.6 250.45 584.2 250.3C584.8 250.15 585.4 249.36 586 249.2C586.6 249.05 587.2 248.93 587.8 249.36C588.4 249.79 589 251.07 589.6 251.79C590.2 252.51 590.8 253.22 591.4 253.68C592 254.15 592.6 254.08 593.2 254.57C593.8 255.07 594.4 256.46 595 256.63C595.6 256.81 596.2 255.93 596.8 255.62C597.4 255.3 598 255.14 598.6 254.75C599.2 254.37 599.8 253.52 600.4 253.29C601 253.07 601.6 253.47 602.2 253.41C602.8 253.34 603.4 253 604 252.91C604.6 252.82 605.2 252.72 605.8 252.86C606.4 253 607 253.6 607.6 253.75C608.2 253.9 608.8 253.69 609.4 253.75C610 253.81 610.6 254.06 611.2 254.09C611.8 254.12 612.4 253.96 613 253.94C613.6 253.91 614.2 253.94 614.8 253.95C615.4 253.95 616 253.89 616.6 253.97C617.2 254.05 617.8 254.21 618.4 254.42C619 254.63 619.6 255.14 620.2 255.24C620.8 255.34 621.4 254.94 622 255.01C622.6 255.07 623.2 255.6 623.8 255.63C624.4 255.67 625 255.36 625.6 255.22C626.2 255.08 626.8 254.82 627.4 254.81C628 254.8 628.6 255.76 629.2 255.15C629.8 254.55 630.4 252.9 631 251.19C631.6 249.48 632.2 247.27 632.8 244.88C633.4 242.5 634 239.56 634.6 236.89C635.2 234.23 635.8 231.33 636.4 228.88C637 226.42 637.6 223.37 638.2 222.16C638.8 220.95 639.4 222.07 640 221.61C640.6 221.15 641.2 219.39 641.8 219.38C642.4 219.38 643 220.75 643.6 221.56C644.2 222.38 644.8 223.73 645.4 224.27C646 224.82 646.6 224.58 647.2 224.85C647.8 225.11 648.4 225.65 649 225.85C649.6 226.05 650.2 225.92 650.8 226.05C651.4 226.17 652 226.56 652.6 226.61C653.2 226.65 653.8 226 654.4 226.31C655 226.62 655.6 227.52 656.2 228.48C656.8 229.43 657.4 230.63 658 232.04C658.6 233.45 659.2 235.45 659.8 236.94C660.4 238.44 661 239.49 661.6 241C662.2 242.51 662.8 244.59 663.4 246.01C664 247.42 664.6 248.39 665.2 249.48C665.8 250.57 666.4 251.9 667 252.56C667.6 253.21 668.2 253.3 668.8 253.43C669.4 253.57 670 253.32 670.6 253.35C671.2 253.39 671.8 253.5 672.4 253.66C673 253.82 673.6 254.56 674.2 254.3C674.8 254.04 675.4 252.57 676 252.09C676.6 251.62 677.2 251.58 677.8 251.46C678.4 251.33 679.3 251.35 679.6 251.32" fill="none" stroke="#8894d4" stroke-width="0.8" stroke-linejoin="round" opacity="0.75"/>
<path d="M535.6 253.63C535.9 253.61 536.8 253.45 537.4 253.5C538 253.56 538.6 253.87 539.2 253.95C539.8 254.03 540.4 254 541 253.99C541.6 253.99 542.2 253.86 542.8 253.9C543.4 253.95 544 254.04 544.6 254.26C545.2 254.48 545.8 254.98 546.4 255.21C547 255.44 547.6 255.54 548.2 255.64C548.8 255.74 549.4 255.96 550 255.82C550.6 255.68 551.2 255.03 551.8 254.81C552.4 254.59 553 254.66 553.6 254.5C554.2 254.33 554.8 254.03 555.4 253.8C556 253.57 556.6 253.34 557.2 253.09C557.8 252.85 558.4 252.55 559 252.34C559.6 252.14 560.2 251.85 560.8 251.86C561.4 251.86 562 252.29 562.6 252.38C563.2 252.47 563.8 252.41 564.4 252.37C565 252.32 565.6 252.22 566.2 252.12C566.8 252.02 567.4 252.04 568 251.77C568.6 251.5 569.2 250.81 569.8 250.51C570.4 250.21 571 249.74 571.6 249.96C572.2 250.17 572.8 251.19 573.4 251.81C574 252.44 574.6 253.14 575.2 253.71C575.8 254.27 576.4 254.92 577 255.21C577.6 255.5 578.2 255.58 578.8 255.46C579.4 255.34 580 254.63 580.6 254.5C581.2 254.36 581.8 254.58 582.4 254.65C583 254.71 583.6 254.8 584.2 254.86C584.8 254.93 585.4 255.05 586 255.04C586.6 255.03 587.2 254.78 587.8 254.81C588.4 254.83 589 255.28 589.6 255.2C590.2 255.12 590.8 254.43 591.4 254.34C592 254.25 592.6 254.62 593.2 254.66C593.8 254.69 594.4 254.54 595 254.52C595.6 254.5 596.2 254.59 596.8 254.55C597.4 254.52 598 254.24 598.6 254.32C599.2 254.39 599.8 254.96 600.4 255.02C601 255.09 601.6 254.74 602.2 254.72C602.8 254.7 603.4 254.83 604 254.9C604.6 254.97 605.2 255.09 605.8 255.13C606.4 255.16 607 255.11 607.6 255.11C608.2 255.11 608.8 255.05 609.4 255.11C610 255.18 610.6 255.41 611.2 255.49C611.8 255.56 612.4 255.6 613 255.59C613.6 255.57 614.2 255.39 614.8 255.39C615.4 255.4 616 255.4 616.6 255.62C617.2 255.84 617.8 256.57 618.4 256.72C619 256.86 619.6 256.51 620.2 256.48C620.8 256.45 621.4 256.34 622 256.52C622.6 256.71 623.2 257.35 623.8 257.59C624.4 257.82 625 257.77 625.6 257.94C626.2 258.1 626.8 258.5 627.4 258.57C628 258.64 628.6 258.46 629.2 258.35C629.8 258.24 630.4 258.27 631 257.92C631.6 257.56 632.2 257.31 632.8 256.22C633.4 255.14 634 253.16 634.6 251.42C635.2 249.68 635.8 247.92 636.4 245.78C637 243.64 637.6 241.02 638.2 238.6C638.8 236.18 639.4 233.73 640 231.26C640.6 228.8 641.2 226.17 641.8 223.8C642.4 221.44 643 218.93 643.6 217.09C644.2 215.25 644.8 214.24 645.4 212.77C646 211.3 646.6 209.55 647.2 208.24C647.8 206.93 648.4 205.9 649 204.91C649.6 203.91 650.2 203.31 650.8 202.26C651.4 201.21 652 199.54 652.6 198.59C653.2 197.65 653.8 196.71 654.4 196.59C655 196.46 655.6 197.29 656.2 197.84C656.8 198.39 657.4 199.2 658 199.87C658.6 200.55 659.2 201.32 659.8 201.88C660.4 202.45 661 202.77 661.6 203.28C662.2 203.8 662.8 204.49 663.4 204.97C664 205.46 664.6 205.74 665.2 206.18C665.8 206.63 666.4 207.27 667 207.64C667.6 208.02 668.2 207.96 668.8 208.43C669.4 208.91 670 209.8 670.6 210.5C671.2 211.19 671.8 211.96 672.4 212.61C673 213.25 673.6 213.9 674.2 214.35C674.8 214.8 675.4 214.94 676 215.31C676.6 215.67 677.2 216.39 677.8 216.55C678.4 216.72 679.3 216.36 679.6 216.32" fill="none" stroke="#addf83" stroke-width="4.2" stroke-linejoin="round" opacity="0.68"/>
<path d="M535.6 253.63C535.9 253.61 536.8 253.45 537.4 253.5C538 253.56 538.6 253.87 539.2 253.95C539.8 254.03 540.4 254 541 253.99C541.6 253.99 542.2 253.86 542.8 253.9C543.4 253.95 544 254.04 544.6 254.26C545.2 254.48 545.8 254.98 546.4 255.21C547 255.44 547.6 255.54 548.2 255.64C548.8 255.74 549.4 255.96 550 255.82C550.6 255.68 551.2 255.03 551.8 254.81C552.4 254.59 553 254.66 553.6 254.5C554.2 254.33 554.8 254.03 555.4 253.8C556 253.57 556.6 253.34 557.2 253.09C557.8 252.85 558.4 252.55 559 252.34C559.6 252.14 560.2 251.85 560.8 251.86C561.4 251.86 562 252.29 562.6 252.38C563.2 252.47 563.8 252.41 564.4 252.37C565 252.32 565.6 252.22 566.2 252.12C566.8 252.02 567.4 252.04 568 251.77C568.6 251.5 569.2 250.81 569.8 250.51C570.4 250.21 571 249.74 571.6 249.96C572.2 250.17 572.8 251.19 573.4 251.81C574 252.44 574.6 253.14 575.2 253.71C575.8 254.27 576.4 254.92 577 255.21C577.6 255.5 578.2 255.58 578.8 255.46C579.4 255.34 580 254.63 580.6 254.5C581.2 254.36 581.8 254.58 582.4 254.65C583 254.71 583.6 254.8 584.2 254.86C584.8 254.93 585.4 255.05 586 255.04C586.6 255.03 587.2 254.78 587.8 254.81C588.4 254.83 589 255.28 589.6 255.2C590.2 255.12 590.8 254.43 591.4 254.34C592 254.25 592.6 254.62 593.2 254.66C593.8 254.69 594.4 254.54 595 254.52C595.6 254.5 596.2 254.59 596.8 254.55C597.4 254.52 598 254.24 598.6 254.32C599.2 254.39 599.8 254.96 600.4 255.02C601 255.09 601.6 254.74 602.2 254.72C602.8 254.7 603.4 254.83 604 254.9C604.6 254.97 605.2 255.09 605.8 255.13C606.4 255.16 607 255.11 607.6 255.11C608.2 255.11 608.8 255.05 609.4 255.11C610 255.18 610.6 255.41 611.2 255.49C611.8 255.56 612.4 255.6 613 255.59C613.6 255.57 614.2 255.39 614.8 255.39C615.4 255.4 616 255.4 616.6 255.62C617.2 255.84 617.8 256.57 618.4 256.72C619 256.86 619.6 256.51 620.2 256.48C620.8 256.45 621.4 256.34 622 256.52C622.6 256.71 623.2 257.35 623.8 257.59C624.4 257.82 625 257.77 625.6 257.94C626.2 258.1 626.8 258.5 627.4 258.57C628 258.64 628.6 258.46 629.2 258.35C629.8 258.24 630.4 258.27 631 257.92C631.6 257.56 632.2 257.31 632.8 256.22C633.4 255.14 634 253.16 634.6 251.42C635.2 249.68 635.8 247.92 636.4 245.78C637 243.64 637.6 241.02 638.2 238.6C638.8 236.18 639.4 233.73 640 231.26C640.6 228.8 641.2 226.17 641.8 223.8C642.4 221.44 643 218.93 643.6 217.09C644.2 215.25 644.8 214.24 645.4 212.77C646 211.3 646.6 209.55 647.2 208.24C647.8 206.93 648.4 205.9 649 204.91C649.6 203.91 650.2 203.31 650.8 202.26C651.4 201.21 652 199.54 652.6 198.59C653.2 197.65 653.8 196.71 654.4 196.59C655 196.46 655.6 197.29 656.2 197.84C656.8 198.39 657.4 199.2 658 199.87C658.6 200.55 659.2 201.32 659.8 201.88C660.4 202.45 661 202.77 661.6 203.28C662.2 203.8 662.8 204.49 663.4 204.97C664 205.46 664.6 205.74 665.2 206.18C665.8 206.63 666.4 207.27 667 207.64C667.6 208.02 668.2 207.96 668.8 208.43C669.4 208.91 670 209.8 670.6 210.5C671.2 211.19 671.8 211.96 672.4 212.61C673 213.25 673.6 213.9 674.2 214.35C674.8 214.8 675.4 214.94 676 215.31C676.6 215.67 677.2 216.39 677.8 216.55C678.4 216.72 679.3 216.36 679.6 216.32" fill="none" stroke="#7ccc3c" stroke-width="0.8" stroke-linejoin="round" opacity="0.75"/>
<path d="M535.6 253.64C535.9 253.64 536.8 253.86 537.4 253.63C538 253.39 538.6 252.61 539.2 252.22C539.8 251.82 540.4 251.37 541 251.26C541.6 251.16 542.2 251.55 542.8 251.58C543.4 251.62 544 251.4 544.6 251.48C545.2 251.57 545.8 251.93 546.4 252.08C547 252.23 547.6 252.19 548.2 252.39C548.8 252.59 549.4 253.01 550 253.3C550.6 253.6 551.2 254.05 551.8 254.16C552.4 254.27 553 254.15 553.6 253.96C554.2 253.77 554.8 253.24 555.4 253.04C556 252.84 556.6 252.85 557.2 252.73C557.8 252.62 558.4 252.34 559 252.36C559.6 252.39 560.2 252.58 560.8 252.87C561.4 253.15 562 253.73 562.6 254.08C563.2 254.43 563.8 254.78 564.4 254.96C565 255.14 565.6 255.09 566.2 255.15C566.8 255.22 567.4 255.48 568 255.35C568.6 255.22 569.2 254.72 569.8 254.37C570.4 254.02 571 253.59 571.6 253.25C572.2 252.92 572.8 252.52 573.4 252.36C574 252.21 574.6 252.27 575.2 252.34C575.8 252.4 576.4 252.6 577 252.75C577.6 252.9 578.2 252.96 578.8 253.24C579.4 253.52 580 254.15 580.6 254.4C581.2 254.66 581.8 254.62 582.4 254.76C583 254.9 583.6 255.15 584.2 255.23C584.8 255.31 585.4 255.26 586 255.24C586.6 255.22 587.2 255.06 587.8 255.13C588.4 255.2 589 255.71 589.6 255.66C590.2 255.61 590.8 255.07 591.4 254.85C592 254.63 592.6 254.42 593.2 254.34C593.8 254.26 594.4 254.49 595 254.36C595.6 254.23 596.2 253.95 596.8 253.56C597.4 253.17 598 252.33 598.6 252.03C599.2 251.73 599.8 251.87 600.4 251.75C601 251.63 601.6 251.48 602.2 251.33C602.8 251.17 603.4 250.97 604 250.84C604.6 250.71 605.2 250.61 605.8 250.57C606.4 250.53 607 250.58 607.6 250.61C608.2 250.64 608.8 250.82 609.4 250.77C610 250.73 610.6 250.35 611.2 250.32C611.8 250.29 612.4 250.59 613 250.59C613.6 250.59 614.2 250.66 614.8 250.3C615.4 249.94 616 249.32 616.6 248.41C617.2 247.5 617.8 246.03 618.4 244.84C619 243.66 619.6 242.5 620.2 241.3C620.8 240.11 621.4 238.94 622 237.67C622.6 236.41 623.2 235.12 623.8 233.69C624.4 232.26 625 230.47 625.6 229.12C626.2 227.76 626.8 226.87 627.4 225.57C628 224.27 628.6 221.82 629.2 221.32C629.8 220.82 630.4 222.38 631 222.57C631.6 222.77 632.2 223.05 632.8 222.51C633.4 221.96 634 220.33 634.6 219.3C635.2 218.28 635.8 217.35 636.4 216.35C637 215.36 637.6 214.28 638.2 213.33C638.8 212.38 639.4 211.36 640 210.63C640.6 209.9 641.2 209.42 641.8 208.94C642.4 208.46 643 208.2 643.6 207.73C644.2 207.27 644.8 206.75 645.4 206.14C646 205.52 646.6 204.69 647.2 204.06C647.8 203.43 648.4 202.72 649 202.36C649.6 202 650.2 201.83 650.8 201.9C651.4 201.97 652 202.27 652.6 202.76C653.2 203.26 653.8 204.36 654.4 204.87C655 205.37 655.6 205.3 656.2 205.78C656.8 206.27 657.4 207.3 658 207.78C658.6 208.26 659.2 208.21 659.8 208.67C660.4 209.13 661 210.01 661.6 210.52C662.2 211.04 662.8 211.43 663.4 211.78C664 212.12 664.6 212.31 665.2 212.59C665.8 212.87 666.4 213.13 667 213.46C667.6 213.79 668.2 214.26 668.8 214.58C669.4 214.89 670 215.15 670.6 215.35C671.2 215.54 671.8 215.6 672.4 215.74C673 215.87 673.6 215.91 674.2 216.16C674.8 216.41 675.4 216.8 676 217.25C676.6 217.7 677.2 218.44 677.8 218.86C678.4 219.27 679.3 219.6 679.6 219.75" fill="none" stroke="#f8ada1" stroke-width="5.5" stroke-linejoin="round" opacity="0.68"/>
<path d="M535.6 253.64C535.9 253.64 536.8 253.86 537.4 253.63C538 253.39 538.6 252.61 539.2 252.22C539.8 251.82 540.4 251.37 541 251.26C541.6 251.16 542.2 251.55 542.8 251.58C543.4 251.62 544 251.4 544.6 251.48C545.2 251.57 545.8 251.93 546.4 252.08C547 252.23 547.6 252.19 548.2 252.39C548.8 252.59 549.4 253.01 550 253.3C550.6 253.6 551.2 254.05 551.8 254.16C552.4 254.27 553 254.15 553.6 253.96C554.2 253.77 554.8 253.24 555.4 253.04C556 252.84 556.6 252.85 557.2 252.73C557.8 252.62 558.4 252.34 559 252.36C559.6 252.39 560.2 252.58 560.8 252.87C561.4 253.15 562 253.73 562.6 254.08C563.2 254.43 563.8 254.78 564.4 254.96C565 255.14 565.6 255.09 566.2 255.15C566.8 255.22 567.4 255.48 568 255.35C568.6 255.22 569.2 254.72 569.8 254.37C570.4 254.02 571 253.59 571.6 253.25C572.2 252.92 572.8 252.52 573.4 252.36C574 252.21 574.6 252.27 575.2 252.34C575.8 252.4 576.4 252.6 577 252.75C577.6 252.9 578.2 252.96 578.8 253.24C579.4 253.52 580 254.15 580.6 254.4C581.2 254.66 581.8 254.62 582.4 254.76C583 254.9 583.6 255.15 584.2 255.23C584.8 255.31 585.4 255.26 586 255.24C586.6 255.22 587.2 255.06 587.8 255.13C588.4 255.2 589 255.71 589.6 255.66C590.2 255.61 590.8 255.07 591.4 254.85C592 254.63 592.6 254.42 593.2 254.34C593.8 254.26 594.4 254.49 595 254.36C595.6 254.23 596.2 253.95 596.8 253.56C597.4 253.17 598 252.33 598.6 252.03C599.2 251.73 599.8 251.87 600.4 251.75C601 251.63 601.6 251.48 602.2 251.33C602.8 251.17 603.4 250.97 604 250.84C604.6 250.71 605.2 250.61 605.8 250.57C606.4 250.53 607 250.58 607.6 250.61C608.2 250.64 608.8 250.82 609.4 250.77C610 250.73 610.6 250.35 611.2 250.32C611.8 250.29 612.4 250.59 613 250.59C613.6 250.59 614.2 250.66 614.8 250.3C615.4 249.94 616 249.32 616.6 248.41C617.2 247.5 617.8 246.03 618.4 244.84C619 243.66 619.6 242.5 620.2 241.3C620.8 240.11 621.4 238.94 622 237.67C622.6 236.41 623.2 235.12 623.8 233.69C624.4 232.26 625 230.47 625.6 229.12C626.2 227.76 626.8 226.87 627.4 225.57C628 224.27 628.6 221.82 629.2 221.32C629.8 220.82 630.4 222.38 631 222.57C631.6 222.77 632.2 223.05 632.8 222.51C633.4 221.96 634 220.33 634.6 219.3C635.2 218.28 635.8 217.35 636.4 216.35C637 215.36 637.6 214.28 638.2 213.33C638.8 212.38 639.4 211.36 640 210.63C640.6 209.9 641.2 209.42 641.8 208.94C642.4 208.46 643 208.2 643.6 207.73C644.2 207.27 644.8 206.75 645.4 206.14C646 205.52 646.6 204.69 647.2 204.06C647.8 203.43 648.4 202.72 649 202.36C649.6 202 650.2 201.83 650.8 201.9C651.4 201.97 652 202.27 652.6 202.76C653.2 203.26 653.8 204.36 654.4 204.87C655 205.37 655.6 205.3 656.2 205.78C656.8 206.27 657.4 207.3 658 207.78C658.6 208.26 659.2 208.21 659.8 208.67C660.4 209.13 661 210.01 661.6 210.52C662.2 211.04 662.8 211.43 663.4 211.78C664 212.12 664.6 212.31 665.2 212.59C665.8 212.87 666.4 213.13 667 213.46C667.6 213.79 668.2 214.26 668.8 214.58C669.4 214.89 670 215.15 670.6 215.35C671.2 215.54 671.8 215.6 672.4 215.74C673 215.87 673.6 215.91 674.2 216.16C674.8 216.41 675.4 216.8 676 217.25C676.6 217.7 677.2 218.44 677.8 218.86C678.4 219.27 679.3 219.6 679.6 219.75" fill="none" stroke="#f4806c" stroke-width="0.8" stroke-linejoin="round" opacity="0.75"/>
<path d="M535.6 259.33C535.9 259.24 536.8 259 537.4 258.75C538 258.5 538.6 258.08 539.2 257.83C539.8 257.59 540.4 257.45 541 257.3C541.6 257.15 542.2 257.05 542.8 256.93C543.4 256.8 544 256.63 544.6 256.53C545.2 256.43 545.8 256.29 546.4 256.33C547 256.38 547.6 256.88 548.2 256.8C548.8 256.71 549.4 256.14 550 255.84C550.6 255.53 551.2 255.11 551.8 254.96C552.4 254.8 553 255.18 553.6 254.91C554.2 254.65 554.8 253.78 555.4 253.37C556 252.97 556.6 252.8 557.2 252.48C557.8 252.16 558.4 251.74 559 251.45C559.6 251.17 560.2 250.99 560.8 250.76C561.4 250.53 562 250.03 562.6 250.09C563.2 250.14 563.8 250.72 564.4 251.08C565 251.45 565.6 251.95 566.2 252.29C566.8 252.62 567.4 252.6 568 253.1C568.6 253.6 569.2 254.6 569.8 255.31C570.4 256.01 571 256.8 571.6 257.34C572.2 257.87 572.8 258.3 573.4 258.51C574 258.71 574.6 258.67 575.2 258.58C575.8 258.48 576.4 258.21 577 257.92C577.6 257.63 578.2 257.11 578.8 256.84C579.4 256.57 580 256.17 580.6 256.31C581.2 256.45 581.8 257.36 582.4 257.67C583 257.98 583.6 257.94 584.2 258.17C584.8 258.39 585.4 258.75 586 259.03C586.6 259.31 587.2 259.65 587.8 259.82C588.4 259.99 589 259.92 589.6 260.04C590.2 260.17 590.8 260.62 591.4 260.55C592 260.49 592.6 260.28 593.2 259.66C593.8 259.05 594.4 258.62 595 256.87C595.6 255.12 596.2 251.09 596.8 249.19C597.4 247.29 598 246.12 598.6 245.48C599.2 244.83 599.8 245.21 600.4 245.32C601 245.43 601.6 245.77 602.2 246.15C602.8 246.53 603.4 246.96 604 247.61C604.6 248.27 605.2 249.08 605.8 250.09C606.4 251.1 607 253.5 607.6 253.69C608.2 253.89 608.8 252.19 609.4 251.28C610 250.36 610.6 248.87 611.2 248.22C611.8 247.57 612.4 247.13 613 247.38C613.6 247.63 614.2 248.96 614.8 249.71C615.4 250.46 616 251.1 616.6 251.89C617.2 252.68 617.8 253.53 618.4 254.44C619 255.36 619.6 256.88 620.2 257.37C620.8 257.87 621.4 257.52 622 257.42C622.6 257.32 623.2 258.68 623.8 256.77C624.4 254.87 625 249.49 625.6 245.98C626.2 242.46 626.8 238.37 627.4 235.7C628 233.03 628.6 231.67 629.2 229.97C629.8 228.27 630.4 226.71 631 225.5C631.6 224.29 632.2 223.69 632.8 222.71C633.4 221.72 634 220.32 634.6 219.6C635.2 218.88 635.8 218.79 636.4 218.38C637 217.98 637.6 217.59 638.2 217.16C638.8 216.74 639.4 216.36 640 215.83C640.6 215.3 641.2 214.53 641.8 213.97C642.4 213.41 643 213.13 643.6 212.46C644.2 211.79 644.8 210.64 645.4 209.97C646 209.3 646.6 209.05 647.2 208.46C647.8 207.86 648.4 207.14 649 206.4C649.6 205.67 650.2 204.86 650.8 204.05C651.4 203.25 652 202.18 652.6 201.57C653.2 200.97 653.8 200.54 654.4 200.44C655 200.33 655.6 200.87 656.2 200.93C656.8 200.99 657.4 200.6 658 200.77C658.6 200.95 659.2 201.69 659.8 201.99C660.4 202.3 661 202.45 661.6 202.61C662.2 202.77 662.8 202.79 663.4 202.97C664 203.15 664.6 203.35 665.2 203.71C665.8 204.07 666.4 204.67 667 205.13C667.6 205.59 668.2 206.22 668.8 206.46C669.4 206.7 670 206.35 670.6 206.58C671.2 206.81 671.8 207.6 672.4 207.86C673 208.13 673.6 207.88 674.2 208.15C674.8 208.42 675.4 209.14 676 209.49C676.6 209.83 677.2 209.8 677.8 210.22C678.4 210.64 679.3 211.71 679.6 212.01" fill="none" stroke="#f27485" stroke-width="5.5" stroke-linejoin="round" opacity="0.68"/>
<path d="M535.6 259.33C535.9 259.24 536.8 259 537.4 258.75C538 258.5 538.6 258.08 539.2 257.83C539.8 257.59 540.4 257.45 541 257.3C541.6 257.15 542.2 257.05 542.8 256.93C543.4 256.8 544 256.63 544.6 256.53C545.2 256.43 545.8 256.29 546.4 256.33C547 256.38 547.6 256.88 548.2 256.8C548.8 256.71 549.4 256.14 550 255.84C550.6 255.53 551.2 255.11 551.8 254.96C552.4 254.8 553 255.18 553.6 254.91C554.2 254.65 554.8 253.78 555.4 253.37C556 252.97 556.6 252.8 557.2 252.48C557.8 252.16 558.4 251.74 559 251.45C559.6 251.17 560.2 250.99 560.8 250.76C561.4 250.53 562 250.03 562.6 250.09C563.2 250.14 563.8 250.72 564.4 251.08C565 251.45 565.6 251.95 566.2 252.29C566.8 252.62 567.4 252.6 568 253.1C568.6 253.6 569.2 254.6 569.8 255.31C570.4 256.01 571 256.8 571.6 257.34C572.2 257.87 572.8 258.3 573.4 258.51C574 258.71 574.6 258.67 575.2 258.58C575.8 258.48 576.4 258.21 577 257.92C577.6 257.63 578.2 257.11 578.8 256.84C579.4 256.57 580 256.17 580.6 256.31C581.2 256.45 581.8 257.36 582.4 257.67C583 257.98 583.6 257.94 584.2 258.17C584.8 258.39 585.4 258.75 586 259.03C586.6 259.31 587.2 259.65 587.8 259.82C588.4 259.99 589 259.92 589.6 260.04C590.2 260.17 590.8 260.62 591.4 260.55C592 260.49 592.6 260.28 593.2 259.66C593.8 259.05 594.4 258.62 595 256.87C595.6 255.12 596.2 251.09 596.8 249.19C597.4 247.29 598 246.12 598.6 245.48C599.2 244.83 599.8 245.21 600.4 245.32C601 245.43 601.6 245.77 602.2 246.15C602.8 246.53 603.4 246.96 604 247.61C604.6 248.27 605.2 249.08 605.8 250.09C606.4 251.1 607 253.5 607.6 253.69C608.2 253.89 608.8 252.19 609.4 251.28C610 250.36 610.6 248.87 611.2 248.22C611.8 247.57 612.4 247.13 613 247.38C613.6 247.63 614.2 248.96 614.8 249.71C615.4 250.46 616 251.1 616.6 251.89C617.2 252.68 617.8 253.53 618.4 254.44C619 255.36 619.6 256.88 620.2 257.37C620.8 257.87 621.4 257.52 622 257.42C622.6 257.32 623.2 258.68 623.8 256.77C624.4 254.87 625 249.49 625.6 245.98C626.2 242.46 626.8 238.37 627.4 235.7C628 233.03 628.6 231.67 629.2 229.97C629.8 228.27 630.4 226.71 631 225.5C631.6 224.29 632.2 223.69 632.8 222.71C633.4 221.72 634 220.32 634.6 219.6C635.2 218.88 635.8 218.79 636.4 218.38C637 217.98 637.6 217.59 638.2 217.16C638.8 216.74 639.4 216.36 640 215.83C640.6 215.3 641.2 214.53 641.8 213.97C642.4 213.41 643 213.13 643.6 212.46C644.2 211.79 644.8 210.64 645.4 209.97C646 209.3 646.6 209.05 647.2 208.46C647.8 207.86 648.4 207.14 649 206.4C649.6 205.67 650.2 204.86 650.8 204.05C651.4 203.25 652 202.18 652.6 201.57C653.2 200.97 653.8 200.54 654.4 200.44C655 200.33 655.6 200.87 656.2 200.93C656.8 200.99 657.4 200.6 658 200.77C658.6 200.95 659.2 201.69 659.8 201.99C660.4 202.3 661 202.45 661.6 202.61C662.2 202.77 662.8 202.79 663.4 202.97C664 203.15 664.6 203.35 665.2 203.71C665.8 204.07 666.4 204.67 667 205.13C667.6 205.59 668.2 206.22 668.8 206.46C669.4 206.7 670 206.35 670.6 206.58C671.2 206.81 671.8 207.6 672.4 207.86C673 208.13 673.6 207.88 674.2 208.15C674.8 208.42 675.4 209.14 676 209.49C676.6 209.83 677.2 209.8 677.8 210.22C678.4 210.64 679.3 211.71 679.6 212.01" fill="none" stroke="#e8283c" stroke-width="0.8" stroke-linejoin="round" opacity="0.75"/>
<circle cx="492.3" cy="296.3" r="5.6" fill="#c3f1e1" stroke="#0a0a0a" stroke-width="1.3"/>
<text x="492.3" y="298.93" font-size="7.4" text-anchor="middle" font-weight="normal" fill="#222" >1</text>
<circle cx="510" cy="296.3" r="5.6" fill="#f9bcae" stroke="#0a0a0a" stroke-width="1.3"/>
<text x="510" y="298.93" font-size="7.4" text-anchor="middle" font-weight="normal" fill="#222" >2</text>
<circle cx="526.6" cy="296.3" r="5.6" fill="#f2505f" stroke="#0a0a0a" stroke-width="1.3"/>
<text x="526.6" y="298.93" font-size="7.4" text-anchor="middle" font-weight="normal" fill="#222" >3</text>
<circle cx="543.7" cy="296.3" r="5.6" fill="#bcea95" stroke="#0a0a0a" stroke-width="1.3"/>
<text x="543.7" y="298.93" font-size="7.4" text-anchor="middle" font-weight="normal" fill="#222" >4</text>
<circle cx="559.7" cy="296.3" r="5.6" fill="#aab3e8" stroke="#0a0a0a" stroke-width="1.3"/>
<text x="559.7" y="298.93" font-size="7.4" text-anchor="middle" font-weight="normal" fill="#222" >5</text>
</svg></body></html>
